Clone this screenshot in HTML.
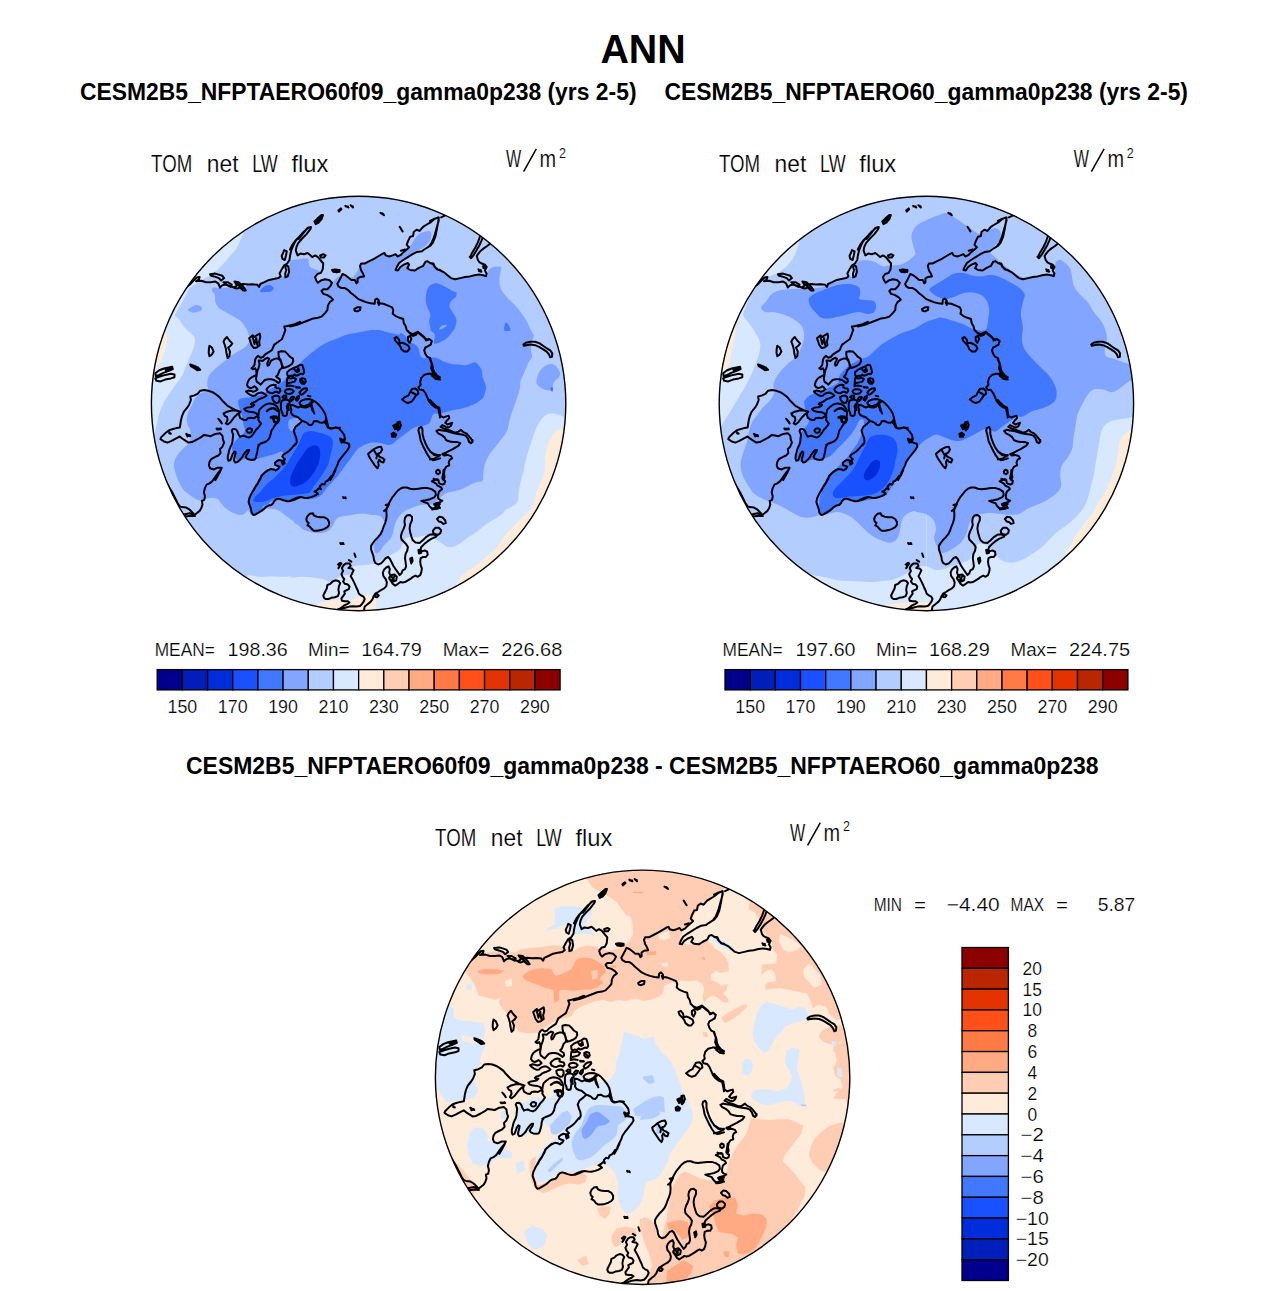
<!DOCTYPE html>
<html><head><meta charset="utf-8"><title>ANN</title>
<style>
html,body{margin:0;padding:0;background:#fff}
svg{display:block}
.t{font-family:"Liberation Sans",sans-serif;fill:#000;stroke:#fff;stroke-width:.2px;paint-order:fill stroke}
.b{font-family:"Liberation Sans",sans-serif;font-weight:bold;fill:#000}
.c{fill:none;stroke:#000;stroke-width:2;stroke-linejoin:round;stroke-linecap:round}
</style></head><body>
<svg width="1285" height="1291" viewBox="0 0 1285 1291">
<rect width="1285" height="1291" fill="#fff"/>
<defs>
<clipPath id="cp"><circle cx="0" cy="0" r="207.2"/></clipPath>
</defs>

<text x="600.4" y="62.8" font-size="41" text-anchor="start" class="b" textLength="85.4" lengthAdjust="spacingAndGlyphs">ANN</text>
<text x="80" y="99.6" font-size="23.1" text-anchor="start" class="b" textLength="556.5" lengthAdjust="spacingAndGlyphs">CESM2B5_NFPTAERO60f09_gamma0p238 (yrs 2-5)</text>
<text x="664.4" y="99.6" font-size="23.1" text-anchor="start" class="b" textLength="523.6" lengthAdjust="spacingAndGlyphs">CESM2B5_NFPTAERO60_gamma0p238 (yrs 2-5)</text>
<text x="186" y="773.6" font-size="23.1" text-anchor="start" class="b" textLength="912.6" lengthAdjust="spacingAndGlyphs">CESM2B5_NFPTAERO60f09_gamma0p238 - CESM2B5_NFPTAERO60_gamma0p238</text>
<g transform="translate(358.6,403.5)">
<g clip-path="url(#cp)">
<circle r="209.2" fill="#b4cdff"/>
<path fill="#d7e8ff" d="M-115.2,-169.7C-115.8,-168.5 -117.6,-164.6 -118.7,-162.1C-119.9,-159.7 -120.7,-157.5 -122.2,-155.1C-123.8,-152.8 -125.9,-150.7 -128.1,-148.1C-130.2,-145.6 -132.7,-142.5 -135.1,-140.0C-137.4,-137.4 -139.5,-135.1 -142.1,-133.0C-144.6,-130.8 -147.7,-128.7 -150.2,-127.1C-152.8,-125.6 -155.3,-124.8 -157.2,-123.6C-159.2,-122.5 -160.0,-121.5 -161.9,-120.1C-163.9,-118.8 -167.2,-117.4 -168.9,-115.4C-170.7,-113.5 -171.3,-110.4 -172.4,-108.4C-173.5,-106.5 -174.4,-105.5 -175.3,-103.8C-176.3,-102.0 -177.2,-99.9 -178.3,-97.9C-179.3,-96.0 -180.9,-93.8 -181.8,-92.1C-182.6,-90.5 -183.9,-89.4 -183.5,-88.0C-183.1,-86.7 -180.9,-85.8 -179.4,-83.9C-178.0,-82.1 -176.5,-79.1 -174.7,-76.9C-173.0,-74.8 -170.6,-72.6 -168.9,-71.1C-167.3,-69.5 -165.7,-68.9 -164.8,-67.6C-164.0,-66.2 -163.7,-64.9 -163.7,-63.0C-163.7,-61.1 -164.1,-58.3 -164.8,-56.0C-165.5,-53.7 -166.8,-51.3 -167.7,-49.0C-168.7,-46.7 -169.7,-44.3 -170.7,-42.0C-171.6,-39.6 -172.7,-37.1 -173.6,-35.0C-174.5,-32.8 -174.9,-31.1 -175.9,-29.1C-176.9,-27.2 -178.1,-25.3 -179.4,-23.3C-180.8,-21.4 -182.5,-19.6 -184.1,-17.5C-185.6,-15.3 -187.2,-12.8 -188.8,-10.5C-190.3,-8.1 -192.1,-5.8 -193.4,-3.5C-194.8,-1.1 -195.9,1.0 -196.9,3.5C-198.0,6.1 -199.1,9.0 -199.8,11.7C-200.6,14.4 -200.9,16.8 -201.6,19.9C-202.3,23.0 -203.5,28.6 -203.9,30.4 L-256.2,38.2 L-259.0,2.0 L-256.7,-34.3 L-249.4,-69.8 L-237.2,-104.0 L-220.3,-136.2 L-199.1,-165.6 L-174.0,-191.8 L-145.5,-214.3Z"/>
<path fill="#ffebd9" d="M-194.0,-75.3C-193.7,-74.4 -192.7,-71.5 -192.3,-70.0C-191.8,-68.5 -191.4,-68.2 -191.3,-66.5C-191.3,-64.7 -191.5,-62.2 -192.0,-59.5C-192.6,-56.8 -193.7,-53.1 -194.6,-50.2C-195.5,-47.2 -196.4,-44.3 -197.5,-42.0C-198.6,-39.6 -200.0,-37.6 -201.0,-36.1C-202.0,-34.7 -203.3,-33.7 -203.7,-33.2 L-255.6,-41.7 L-249.9,-68.0 L-241.5,-93.7Z"/>
<path fill="#d7e8ff" d="M-110.5,171.6C-109.4,171.7 -105.9,172.4 -103.5,172.7C-101.2,173.0 -99.5,173.3 -96.5,173.3C-93.6,173.3 -89.7,173.0 -86.0,173.0C-82.3,173.0 -77.7,173.3 -74.4,173.3C-71.1,173.3 -67.2,172.8 -66.2,173.0C-65.2,173.1 -70.1,174.4 -68.6,174.5C-67.1,174.5 -60.8,173.4 -56.9,173.3C-53.0,173.2 -49.1,173.6 -45.3,174.1C-41.4,174.6 -36.3,175.6 -33.6,176.2C-30.9,176.9 -30.9,178.2 -28.9,178.0C-27.0,177.8 -23.9,176.0 -21.9,175.1C-20.0,174.1 -18.8,172.7 -17.2,172.1C-15.7,171.6 -14.1,171.7 -12.6,171.6C-11.0,171.4 -9.1,171.7 -7.9,171.0C-6.7,170.2 -6.1,168.2 -5.6,166.9C-5.1,165.5 -6.9,163.7 -5.0,162.8C-3.0,161.9 2.7,162.1 6.1,161.6C9.5,161.1 12.7,160.7 15.4,159.9C18.2,159.1 20.3,158.0 22.4,157.0C24.6,155.9 26.5,154.4 28.3,153.5C30.0,152.5 31.4,151.9 33.0,151.1C34.5,150.3 36.3,149.7 37.6,148.8C39.0,147.9 40.2,147.1 41.1,145.9C42.1,144.6 42.7,142.8 43.5,141.2C44.2,139.6 45.0,137.7 45.8,136.5C46.6,135.4 47.0,134.7 48.1,134.2C49.3,133.7 51.2,133.4 52.8,133.3C54.4,133.2 55.9,133.7 57.5,133.6C59.0,133.6 60.6,133.3 62.1,133.0C63.7,132.7 65.2,132.3 66.8,131.9C68.4,131.5 69.9,130.9 71.5,130.7C73.0,130.5 76.2,130.3 76.1,130.5C76.1,130.7 71.0,130.9 71.4,131.9C71.8,132.9 76.3,135.1 78.4,136.5C80.5,138.0 82.5,139.5 84.2,140.6C86.0,141.8 87.0,143.2 88.9,143.5C90.9,143.9 93.6,143.7 95.9,143.0C98.2,142.2 100.6,140.4 102.9,138.9C105.3,137.3 107.4,135.4 109.9,133.6C112.4,131.9 115.8,130.0 118.1,128.4C120.4,126.7 121.8,125.3 123.9,123.7C126.1,122.0 128.6,120.0 130.9,118.4C133.3,116.9 135.8,115.7 137.9,114.4C140.1,113.0 142.2,111.6 143.8,110.3C145.3,108.9 145.7,107.4 147.3,106.2C148.8,105.0 151.4,104.3 153.1,103.3C154.9,102.2 156.7,101.0 157.8,99.8C158.8,98.5 159.1,97.7 159.5,95.7C159.9,93.6 159.7,90.2 160.1,87.5C160.5,84.8 161.3,81.9 161.9,79.3C162.4,76.8 163.0,74.5 163.6,72.3C164.2,70.2 165.1,67.8 165.4,66.5C165.7,65.2 165.1,65.8 165.4,64.2C165.7,62.7 166.5,59.6 167.1,57.2C167.7,54.9 168.2,52.6 168.9,50.2C169.5,47.9 170.4,45.6 171.2,43.2C172.0,40.9 172.8,38.6 173.5,36.2C174.3,33.9 175.0,31.6 175.9,29.2C176.7,26.9 177.7,24.4 178.8,22.2C179.9,20.1 180.9,18.1 182.3,16.4C183.7,14.6 185.2,12.8 187.0,11.7C188.7,10.6 190.7,10.1 192.8,10.0C194.9,9.9 197.5,10.5 199.8,11.1C202.1,11.8 205.6,13.4 206.8,13.8 L258.4,17.3 L253.0,55.3 L242.1,92.0 L225.8,126.8 L204.6,158.8 L178.9,187.3 L149.3,211.7 L116.3,231.4 L80.9,246.1 L43.6,255.3 L5.4,258.9 L-32.9,256.9 L-70.5,249.2 L-106.6,236.1 L-140.3,217.7Z"/>
<path fill="#ffebd9" d="M-43.5,201.3C-42.2,200.9 -38.3,199.7 -35.9,199.0C-33.5,198.3 -31.2,197.7 -28.9,197.2C-26.6,196.7 -23.9,196.2 -21.9,196.1C-20.0,196.0 -18.8,196.3 -17.2,196.7C-15.7,197.0 -14.1,198.3 -12.6,198.4C-11.0,198.5 -9.5,197.8 -7.9,197.2C-6.3,196.7 -4.8,195.6 -3.2,194.9C-1.7,194.2 -0.1,193.6 1.4,193.1C3.0,192.7 4.4,192.2 6.1,192.0C7.9,191.8 10.4,191.8 11.9,192.0C13.5,192.2 14.6,192.5 15.4,193.1C16.3,193.8 16.8,194.8 17.2,196.1C17.6,197.3 17.7,199.0 17.8,200.7C17.8,202.5 17.6,205.6 17.5,206.6 L21.9,258.1 L-16.6,258.5 L-54.7,253.2Z"/>
<path fill="#ffebd9" d="M206.8,24.8C205.8,24.9 202.6,25.2 201.0,25.7C199.3,26.3 198.1,26.9 196.9,28.1C195.6,29.2 194.4,31.0 193.4,32.7C192.3,34.5 191.3,36.4 190.5,38.6C189.6,40.7 188.8,43.2 188.1,45.6C187.4,47.9 186.7,50.2 186.4,52.6C186.1,54.9 186.4,57.2 186.4,59.6C186.4,61.9 186.8,64.2 186.4,66.5C186.0,68.8 184.9,71.2 184.0,73.5C183.2,75.8 182.1,78.2 181.1,80.5C180.2,82.8 179.0,85.2 178.2,87.5C177.4,89.8 177.1,92.2 176.5,94.5C175.8,96.8 175.1,99.4 174.1,101.5C173.1,103.7 172.2,105.4 170.6,107.4C169.1,109.3 166.7,111.2 164.8,113.2C162.8,115.1 160.9,117.1 158.9,119.0C157.0,121.0 155.1,122.9 153.1,124.9C151.2,126.8 149.0,128.6 147.3,130.7C145.5,132.8 144.2,135.4 142.6,137.7C141.0,140.0 139.9,142.6 137.9,144.7C136.0,146.8 133.3,148.6 130.9,150.5C128.6,152.5 126.3,154.4 123.9,156.4C121.6,158.3 119.3,160.5 116.9,162.2C114.6,164.0 112.1,165.3 109.9,166.9C107.8,168.4 105.6,170.0 104.1,171.6C102.5,173.1 101.8,174.4 100.6,176.2C99.4,178.1 97.5,181.6 96.8,182.6 L121.3,228.8 L151.6,210.0 L179.0,187.2 L203.0,160.9 L223.2,131.5 L239.1,99.6 L250.5,65.8 L257.2,30.8Z"/>
<path fill="#82a5ff" d="M-68.5,-142.3C-69.9,-140.3 -68.2,-134.5 -69.7,-131.8C-71.2,-129.1 -74.8,-127.2 -77.3,-126.0C-79.8,-124.7 -82.0,-125.1 -84.9,-124.2C-87.7,-123.3 -91.7,-121.8 -94.2,-120.7C-96.7,-119.6 -97.3,-118.2 -100.0,-117.8C-102.8,-117.4 -108.0,-118.8 -110.5,-118.4C-113.1,-118.0 -112.5,-115.8 -115.2,-115.4C-117.9,-115.1 -123.0,-116.0 -126.9,-116.0C-130.8,-116.0 -135.5,-115.4 -138.6,-115.4C-141.6,-115.4 -143.6,-116.4 -145.0,-116.0C-146.3,-115.6 -146.9,-114.4 -146.7,-113.1C-146.5,-111.9 -144.4,-110.4 -143.8,-108.4C-143.2,-106.5 -143.9,-103.6 -143.2,-101.4C-142.6,-99.3 -141.3,-97.2 -139.7,-95.6C-138.2,-94.0 -136.0,-93.4 -133.9,-92.1C-131.8,-90.8 -129.2,-89.4 -126.9,-88.0C-124.6,-86.7 -121.8,-85.4 -119.9,-83.9C-117.9,-82.5 -116.6,-81.0 -115.2,-79.3C-113.9,-77.5 -112.7,-75.4 -111.7,-73.4C-110.7,-71.5 -109.9,-69.3 -109.4,-67.6C-108.8,-65.9 -107.7,-65.4 -108.4,-63.5C-109.2,-61.5 -111.6,-58.2 -114.1,-56.0C-116.5,-53.8 -119.7,-52.9 -123.4,-50.4C-127.1,-47.9 -132.5,-43.8 -136.2,-40.8C-139.9,-37.9 -143.2,-35.0 -145.6,-32.6C-147.9,-30.3 -149.3,-29.1 -150.2,-26.8C-151.2,-24.5 -151.3,-20.9 -151.4,-18.6C-151.5,-16.4 -149.7,-14.8 -150.8,-13.4C-152.0,-11.9 -156.4,-11.1 -158.4,-9.9C-160.5,-8.6 -161.7,-7.6 -163.1,-5.8C-164.4,-4.0 -165.4,-1.1 -166.6,1.2C-167.7,3.5 -169.2,5.9 -170.1,8.2C-171.0,10.5 -171.7,12.9 -171.8,15.2C-171.9,17.5 -171.2,20.3 -170.7,22.2C-170.1,24.2 -168.6,24.2 -168.3,26.9C-168.0,29.6 -167.6,35.4 -168.9,38.6C-170.2,41.7 -173.8,43.2 -175.9,45.6C-178.1,47.9 -180.3,50.0 -181.8,52.6C-183.2,55.1 -184.5,57.8 -184.7,60.7C-184.9,63.7 -183.4,67.9 -182.9,70.1C-182.4,72.2 -182.3,72.0 -181.8,73.5C-181.2,75.0 -180.4,77.4 -179.4,79.3C-178.4,81.3 -177.3,83.4 -175.9,85.2C-174.6,86.9 -173.0,88.4 -171.2,89.8C-169.5,91.3 -167.4,92.8 -165.4,93.9C-163.5,95.1 -161.0,96.3 -159.6,96.8C-158.1,97.4 -157.6,97.6 -156.7,97.4C-155.7,97.2 -155.0,96.2 -153.7,95.7C-152.5,95.2 -150.5,94.7 -149.1,94.5C-147.6,94.3 -146.3,94.1 -145.0,94.3C-143.6,94.5 -142.2,94.8 -140.9,95.7C-139.6,96.6 -138.6,98.4 -137.4,99.8C-136.2,101.1 -135.3,102.6 -133.9,103.9C-132.5,105.1 -130.8,106.4 -129.2,107.4C-127.7,108.3 -126.1,109.0 -124.6,109.7C-123.0,110.4 -121.4,111.2 -119.9,111.4C-118.3,111.6 -116.5,111.3 -115.2,110.9C-114.0,110.4 -113.1,109.1 -112.3,108.5C-111.5,107.9 -111.6,106.5 -110.5,107.1C-109.5,107.8 -107.6,112.1 -105.9,112.5C-104.1,112.9 -101.6,110.4 -100.0,109.5C-98.5,108.6 -98.1,107.9 -96.5,107.1C-95.0,106.4 -92.7,105.3 -90.7,105.0C-88.8,104.8 -86.8,105.2 -84.9,105.6C-82.9,106.0 -80.8,106.5 -79.0,107.4C-77.3,108.2 -75.9,109.7 -74.4,110.9C-72.8,112.0 -71.3,113.2 -69.7,114.4C-68.1,115.5 -66.0,117.0 -65.0,117.9C-64.1,118.7 -64.9,118.8 -63.9,119.6C-63.0,120.4 -60.6,121.5 -59.3,122.5C-57.9,123.6 -57.1,125.2 -55.8,126.0C-54.4,126.9 -52.8,127.3 -51.1,127.8C-49.3,128.3 -47.4,128.7 -45.3,128.9C-43.1,129.2 -40.4,129.6 -38.3,129.5C-36.1,129.4 -34.1,129.0 -32.4,128.4C-30.8,127.7 -29.5,126.6 -28.3,125.4C-27.2,124.3 -26.3,122.8 -25.4,121.4C-24.5,119.9 -24.0,118.0 -23.1,116.7C-22.1,115.4 -21.1,114.5 -19.6,113.8C-18.0,113.1 -15.9,113.0 -13.7,112.6C-11.6,112.2 -9.1,111.8 -6.7,111.4C-4.4,111.1 -1.9,110.5 0.3,110.3C2.4,110.1 4.0,110.1 6.1,110.3C8.2,110.5 10.8,111.1 13.1,111.4C15.4,111.7 18.4,111.5 20.1,112.0C21.9,112.5 22.7,113.4 23.6,114.4C24.5,115.3 25.0,116.6 25.4,117.9C25.7,119.1 26.0,120.4 25.7,121.9C25.4,123.5 25.1,124.8 23.6,127.2C22.1,129.6 18.1,134.2 16.6,136.5C15.2,138.9 15.1,139.8 14.9,141.2C14.7,142.6 15.2,143.5 15.4,144.7C15.6,145.9 15.5,147.3 16.0,148.2C16.5,149.1 17.4,150.2 18.4,150.0C19.3,149.8 20.8,148.3 21.9,147.0C22.9,145.8 23.7,143.7 24.8,142.4C25.9,141.0 27.1,140.0 28.3,138.9C29.5,137.7 30.8,136.7 31.8,135.4C32.8,134.0 33.5,132.5 34.1,130.7C34.7,128.9 34.8,126.8 35.3,124.9C35.8,122.9 36.4,120.8 37.0,119.0C37.7,117.3 38.5,115.7 39.4,114.4C40.2,113.0 41.1,112.0 42.3,110.9C43.5,109.7 44.8,108.3 46.4,107.4C47.9,106.4 50.0,105.7 51.6,105.0C53.3,104.3 54.5,103.9 56.3,103.3C58.0,102.7 60.0,101.9 62.1,101.5C64.3,101.1 67.0,101.1 69.1,100.9C71.3,100.7 72.7,101.7 75.0,100.4C77.3,99.0 80.8,94.6 83.1,92.8C85.4,90.9 86.6,90.1 88.9,89.3C91.2,88.4 94.6,88.2 97.1,87.5C99.6,86.8 101.7,86.1 104.1,85.2C106.4,84.2 108.8,82.7 111.1,81.7C113.4,80.6 116.0,79.4 118.1,78.8C120.2,78.1 122.9,78.7 123.9,77.6C125.0,76.5 124.3,74.2 124.5,72.3C124.7,70.5 124.8,68.5 125.1,66.6C125.4,64.6 125.7,62.7 126.3,60.7C126.8,58.8 127.6,56.8 128.6,54.9C129.6,53.0 130.7,51.0 132.1,49.1C133.5,47.1 135.2,45.2 136.8,43.2C138.3,41.3 139.9,39.3 141.4,37.4C143.0,35.4 144.8,33.5 146.1,31.6C147.4,29.6 148.2,28.1 149.0,25.7C149.8,23.4 150.1,20.3 150.8,17.5C151.5,14.8 152.2,12.1 153.1,9.4C154.0,6.7 155.1,3.9 156.0,1.2C157.0,-1.5 158.1,-4.2 158.9,-7.0C159.8,-9.7 160.8,-12.6 161.3,-15.1C161.8,-17.7 161.3,-19.8 161.9,-22.1C162.4,-24.5 163.8,-26.8 164.8,-29.1C165.8,-31.5 166.7,-34.0 167.7,-36.1C168.7,-38.3 169.6,-40.2 170.6,-42.0C171.6,-43.7 173.2,-44.7 173.5,-46.7C173.8,-48.6 172.5,-51.3 172.4,-53.7C172.3,-56.0 172.5,-58.3 173.0,-60.7C173.4,-63.0 175.1,-66.1 175.3,-67.7C175.5,-69.2 174.9,-68.4 174.1,-69.9C173.3,-71.5 171.8,-74.6 170.6,-76.9C169.5,-79.3 168.5,-81.6 167.1,-83.9C165.8,-86.3 164.0,-88.8 162.4,-90.9C160.9,-93.1 159.3,-95.0 157.8,-96.8C156.2,-98.5 154.7,-99.9 153.1,-101.4C151.6,-103.0 150.0,-104.4 148.4,-106.1C146.9,-107.9 144.9,-110.0 143.8,-111.9C142.6,-113.9 141.9,-115.6 141.4,-117.8C140.9,-119.9 140.8,-122.5 140.9,-124.8C140.9,-127.1 141.7,-129.8 142.0,-131.8C142.3,-133.7 143.3,-135.6 142.6,-136.5C141.9,-137.3 139.5,-137.1 137.9,-137.0C136.4,-136.9 134.6,-136.6 133.3,-135.9C131.9,-135.2 130.6,-134.1 129.8,-133.0C128.9,-131.8 128.9,-129.7 128.0,-128.9C127.1,-128.1 126.6,-128.2 124.5,-128.1C122.5,-127.9 118.8,-128.3 115.8,-128.1C112.7,-127.8 109.6,-127.0 106.4,-126.3C103.2,-125.6 99.4,-123.6 96.5,-123.9C93.6,-124.1 91.3,-126.5 88.9,-127.9C86.5,-129.4 84.0,-131.1 81.9,-132.6C79.8,-134.1 77.8,-135.4 76.1,-136.7C74.3,-138.0 72.9,-139.4 71.4,-140.2C69.8,-141.0 68.0,-141.7 66.8,-141.4C65.7,-141.0 65.6,-139.3 64.5,-138.2C63.3,-137.2 61.2,-136.0 59.8,-135.1C58.4,-134.1 57.7,-133.0 56.3,-132.7C54.9,-132.4 52.9,-132.8 51.6,-133.2C50.4,-133.6 49.0,-133.9 48.7,-135.1C48.4,-136.2 50.5,-139.3 49.9,-140.0C49.3,-140.6 46.6,-139.4 45.2,-138.8C43.8,-138.2 42.8,-137.4 41.7,-136.5C40.6,-135.5 39.6,-133.4 38.8,-133.0C38.0,-132.5 37.1,-133.0 37.0,-133.5C36.9,-134.1 37.5,-135.2 38.2,-136.5C38.9,-137.7 39.7,-139.7 41.1,-141.1C42.6,-142.6 44.8,-143.8 47.0,-145.2C49.1,-146.7 51.8,-148.5 54.0,-149.9C56.1,-151.2 58.0,-152.4 59.8,-153.4C61.6,-154.4 62.9,-154.7 64.5,-155.7C66.0,-156.8 67.9,-158.3 69.1,-159.8C70.4,-161.3 71.5,-162.7 72.1,-164.5C72.6,-166.2 72.9,-168.9 72.6,-170.3C72.3,-171.7 71.9,-172.5 70.3,-172.6C68.7,-172.7 65.4,-171.9 63.3,-170.9C61.2,-169.9 59.0,-168.5 57.5,-166.8C55.9,-165.2 55.1,-162.7 54.0,-161.0C52.8,-159.2 51.7,-157.5 50.7,-156.3C49.7,-155.1 49.5,-155.0 48.1,-153.7C46.7,-152.5 44.1,-149.5 42.3,-148.7C40.4,-147.9 39.0,-149.4 37.0,-149.1C35.1,-148.8 32.4,-146.8 30.6,-147.0C28.8,-147.2 27.9,-150.2 26.2,-150.2C24.4,-150.3 22.3,-148.4 20.1,-147.3C17.9,-146.2 15.4,-144.7 13.1,-143.5C10.8,-142.2 7.9,-140.4 6.1,-139.7C4.3,-139.0 3.2,-139.9 2.3,-139.1C1.3,-138.4 1.1,-136.8 0.3,-135.3C-0.5,-133.8 -1.7,-131.5 -2.6,-130.0C-3.6,-128.6 -4.3,-127.2 -5.6,-126.5C-6.8,-125.9 -8.6,-125.5 -10.2,-126.0C-11.9,-126.4 -14.1,-128.9 -15.5,-129.2C-16.9,-129.5 -17.3,-128.3 -18.4,-127.7C-19.5,-127.1 -20.6,-126.5 -21.9,-125.4C-23.2,-124.3 -25.1,-121.4 -26.3,-121.1C-27.6,-120.7 -28.3,-122.9 -29.5,-123.4C-30.7,-123.9 -32.2,-124.1 -33.6,-124.0C-35.0,-123.9 -36.9,-123.4 -38.0,-122.8C-39.2,-122.2 -39.8,-120.4 -40.6,-120.5C-41.4,-120.5 -42.2,-122.0 -42.7,-123.0C-43.2,-124.0 -44.3,-125.2 -43.5,-126.5C-42.7,-127.8 -38.5,-129.8 -38.0,-130.9C-37.5,-131.9 -39.0,-132.1 -40.6,-133.0C-42.2,-133.8 -46.0,-134.7 -47.6,-135.9C-49.1,-137.0 -49.3,-138.5 -49.9,-140.0C-50.5,-141.5 -49.1,-144.2 -51.1,-144.9C-53.0,-145.5 -58.7,-144.5 -61.6,-144.0C-64.5,-143.6 -67.2,-144.3 -68.5,-142.3Z"/>
<path fill="#82a5ff" d="M-170.7,-93.9C-170.7,-94.8 -168.0,-96.0 -166.6,-96.8C-165.1,-97.6 -163.6,-98.6 -161.9,-98.5C-160.3,-98.4 -157.3,-97.2 -156.7,-96.2C-156.0,-95.2 -156.9,-93.5 -157.8,-92.7C-158.7,-91.9 -160.5,-91.8 -161.9,-91.5C-163.4,-91.2 -165.1,-90.5 -166.6,-90.9C-168.0,-91.3 -170.7,-92.9 -170.7,-93.9Z"/>
<path fill="#82a5ff" d="M178.2,-24.5C178.6,-26.0 179.1,-28.6 180.0,-30.3C180.8,-32.1 182.1,-33.6 183.5,-35.0C184.8,-36.3 186.6,-37.7 188.1,-38.5C189.7,-39.3 191.3,-39.7 192.8,-39.6C194.3,-39.6 195.7,-38.9 196.9,-37.9C198.0,-36.9 199.0,-35.2 199.8,-33.8C200.6,-32.5 201.6,-31.1 201.6,-29.7C201.6,-28.4 200.6,-26.7 199.8,-25.6C199.0,-24.6 197.8,-24.3 196.9,-23.3C196.0,-22.3 195.0,-21.1 194.5,-19.8C194.1,-18.5 194.4,-16.8 194.0,-15.7C193.5,-14.7 192.6,-13.8 191.6,-13.4C190.7,-13.0 189.5,-13.1 188.1,-13.4C186.8,-13.7 184.8,-14.5 183.5,-15.1C182.1,-15.8 180.9,-16.5 180.0,-17.5C179.0,-18.4 178.1,-19.8 177.9,-21.0C177.6,-22.1 177.9,-22.9 178.2,-24.5Z"/>
<path fill="#4178ff" d="M191.9,-15.7C192.2,-16.3 193.6,-16.9 194.0,-16.3C194.4,-15.7 194.5,-12.8 194.2,-12.2C193.9,-11.6 192.6,-12.2 192.2,-12.8C191.8,-13.4 191.6,-15.1 191.9,-15.7Z"/>
<path fill="#4178ff" d="M-98.3,-113.1C-97.8,-114.0 -96.3,-115.7 -94.8,-116.6C-93.2,-117.5 -90.6,-118.6 -89.0,-118.4C-87.3,-118.2 -85.2,-116.5 -84.9,-115.4C-84.6,-114.4 -85.8,-112.9 -87.2,-112.2C-88.6,-111.5 -91.3,-111.5 -93.0,-111.4C-94.8,-111.2 -96.8,-111.1 -97.7,-111.4C-98.6,-111.7 -98.8,-112.2 -98.3,-113.1Z"/>
<path fill="#4178ff" d="M147.9,-81.0C148.9,-80.4 152.2,-74.8 151.9,-73.4C151.6,-72.1 147.1,-72.3 146.1,-72.8C145.1,-73.4 145.5,-75.6 145.8,-76.9C146.0,-78.3 146.8,-81.6 147.9,-81.0Z"/>
<path fill="#4178ff" d="M77.2,-120.3C75.6,-120.2 73.8,-119.5 72.5,-118.7C71.2,-117.9 70.2,-116.9 69.4,-115.6C68.6,-114.3 68.2,-112.6 67.9,-110.9C67.5,-109.2 67.1,-107.3 67.1,-105.5C67.0,-103.7 67.1,-101.7 67.5,-100.0C67.8,-98.4 68.4,-96.9 69.0,-95.4C69.7,-93.8 70.9,-92.1 71.4,-90.7C71.8,-89.3 71.9,-88.1 71.8,-86.8C71.6,-85.5 70.6,-84.5 70.6,-82.9C70.5,-81.4 71.0,-79.2 71.4,-77.5C71.7,-75.8 71.8,-74.0 72.5,-72.8C73.2,-71.6 75.0,-71.0 75.6,-70.1C76.3,-69.2 76.4,-68.5 76.4,-67.4C76.4,-66.2 75.8,-64.7 75.6,-63.5C75.5,-62.2 75.1,-60.5 75.5,-60.0C75.9,-59.4 76.9,-59.7 78.0,-60.0C79.0,-60.2 80.6,-60.9 81.9,-61.5C83.2,-62.1 84.5,-62.6 85.8,-63.5C87.1,-64.3 88.5,-65.4 89.6,-66.6C90.8,-67.7 91.7,-69.2 92.8,-70.5C93.8,-71.8 95.1,-72.9 95.9,-74.4C96.7,-75.8 97.1,-77.5 97.4,-79.0C97.8,-80.6 98.1,-82.1 97.8,-83.7C97.6,-85.3 96.6,-86.9 95.9,-88.4C95.2,-89.8 94.3,-91.0 93.5,-92.3C92.8,-93.6 91.6,-94.8 91.2,-96.1C90.8,-97.4 90.9,-98.9 91.2,-100.0C91.5,-101.2 92.4,-102.2 93.2,-103.1C93.9,-104.1 95.1,-104.7 95.9,-105.5C96.7,-106.3 97.5,-106.9 97.8,-107.8C98.1,-108.7 98.3,-110.2 97.8,-110.9C97.4,-111.6 96.2,-111.6 95.1,-112.1C94.0,-112.6 92.6,-113.3 91.2,-114.0C89.8,-114.8 88.1,-115.9 86.5,-116.8C85.0,-117.6 83.4,-118.5 81.9,-119.1C80.3,-119.7 78.8,-120.3 77.2,-120.3Z"/>
<path fill="#82a5ff" d="M80.3,-74.0C80.2,-74.5 81.7,-76.7 82.6,-77.5C83.6,-78.2 85.2,-78.5 86.1,-78.6C87.1,-78.8 88.5,-78.7 88.5,-78.2C88.5,-77.8 87.0,-76.6 86.1,-75.9C85.3,-75.3 84.4,-74.7 83.4,-74.4C82.5,-74.0 80.4,-73.4 80.3,-74.0Z"/>
<path fill="#4178ff" d="M-25.4,-63.5C-23.7,-64.2 -21.7,-65.0 -19.6,-65.8C-17.4,-66.7 -15.3,-68.0 -12.6,-68.8C-9.8,-69.5 -6.3,-69.9 -3.2,-70.5C-0.1,-71.1 3.4,-71.8 6.1,-72.3C8.8,-72.7 10.8,-73.2 13.1,-73.4C15.4,-73.6 17.8,-73.7 20.1,-73.4C22.4,-73.1 24.8,-72.3 27.1,-71.7C29.5,-71.1 31.8,-70.4 34.1,-69.9C36.5,-69.4 39.9,-68.7 41.1,-68.8C42.3,-68.8 40.7,-70.4 41.4,-70.5C42.1,-70.5 44.1,-69.8 45.3,-68.9C46.5,-68.0 47.1,-66.3 48.4,-65.0C49.7,-63.7 51.6,-62.2 53.1,-61.1C54.5,-60.1 55.8,-59.8 57.0,-58.8C58.1,-57.8 59.4,-56.2 60.1,-54.9C60.7,-53.6 60.5,-52.3 60.9,-51.0C61.2,-49.7 61.5,-48.1 62.4,-47.1C63.3,-46.1 64.4,-45.4 66.3,-45.2C68.2,-45.0 72.0,-46.0 74.1,-46.0C76.2,-46.0 77.2,-45.7 78.8,-45.2C80.3,-44.7 81.9,-43.6 83.4,-42.8C85.0,-42.1 86.3,-41.5 88.1,-40.9C89.9,-40.3 92.2,-39.7 94.3,-39.3C96.4,-39.0 98.5,-39.1 100.5,-38.9C102.6,-38.8 105.0,-38.0 106.8,-38.2C108.6,-38.3 109.9,-39.2 111.4,-39.7C113.0,-40.2 114.8,-41.3 116.1,-41.3C117.4,-41.2 118.3,-40.2 119.2,-39.3C120.1,-38.5 120.9,-37.3 121.6,-36.2C122.2,-35.1 122.9,-34.2 123.3,-32.6C123.7,-31.1 123.5,-28.6 123.9,-26.8C124.3,-25.1 125.1,-23.9 125.7,-22.1C126.3,-20.4 127.3,-18.2 127.4,-16.3C127.5,-14.4 126.7,-12.2 126.3,-10.5C125.8,-8.7 125.5,-7.2 124.5,-5.8C123.5,-4.4 121.9,-3.4 120.4,-2.3C119.0,-1.2 117.5,-0.3 115.8,0.6C114.0,1.5 111.9,2.3 109.9,3.0C108.0,3.6 106.0,4.2 104.1,4.7C102.1,5.2 100.2,5.5 98.2,5.9C96.3,6.3 94.4,6.6 92.4,7.0C90.5,7.5 88.3,8.3 86.6,8.8C84.8,9.3 83.8,9.7 81.9,10.0C80.0,10.3 76.5,9.7 75.0,10.5C73.4,11.4 73.4,13.7 72.6,15.2C71.9,16.8 71.7,18.7 70.3,19.9C68.9,21.0 66.6,21.6 64.5,22.2C62.3,22.8 59.4,22.8 57.5,23.4C55.5,24.0 54.4,24.7 52.8,25.7C51.2,26.7 49.7,28.1 48.1,29.2C46.6,30.4 45.0,31.6 43.5,32.7C41.9,33.9 40.3,35.0 38.8,36.2C37.2,37.5 35.7,39.4 34.1,40.3C32.6,41.2 31.0,41.5 29.5,41.5C27.9,41.5 26.5,40.7 24.8,40.3C23.0,39.9 20.9,39.3 18.9,39.1C17.0,38.9 14.9,38.9 13.1,39.1C11.4,39.3 10.0,39.7 8.4,40.3C6.9,40.9 5.3,41.8 3.8,42.6C2.2,43.5 0.5,44.3 -0.9,45.6C-2.3,46.8 -3.2,48.7 -4.4,50.2C-5.6,51.8 -6.7,53.3 -7.9,54.9C-9.1,56.5 -10.2,58.0 -11.4,59.6C-12.6,61.1 -13.7,62.7 -14.9,64.2C-16.1,65.8 -17.2,67.4 -18.4,68.9C-19.6,70.5 -19.8,71.1 -21.9,73.6C-24.1,76.1 -29.3,81.7 -31.4,84.0C-33.4,86.4 -33.2,86.5 -34.2,87.7C-35.1,89.0 -35.9,90.5 -37.0,91.5C-38.1,92.5 -39.3,93.2 -40.7,93.8C-42.1,94.4 -43.5,94.9 -45.4,95.2C-47.2,95.5 -49.9,95.8 -51.9,95.7C-53.9,95.5 -55.6,94.2 -57.5,94.3C-59.4,94.4 -60.9,95.7 -63.1,96.3C-65.3,96.9 -68.4,97.8 -70.6,97.8C-72.8,97.8 -74.2,96.8 -76.2,96.3C-78.2,95.9 -80.9,94.8 -82.7,95.0C-84.6,95.3 -86.0,96.8 -87.4,97.8C-88.8,98.8 -89.7,100.2 -91.1,101.0C-92.5,101.8 -94.9,101.8 -95.8,102.9C-96.7,103.9 -95.6,106.2 -96.5,107.4C-97.4,108.5 -99.8,109.1 -101.2,109.9C-102.6,110.7 -103.7,112.2 -104.7,112.0C-105.7,111.9 -106.5,110.9 -107.3,109.1C-108.1,107.4 -108.9,103.6 -109.4,101.5C-109.8,99.5 -110.4,98.8 -110.0,96.8C-109.6,94.9 -108.2,92.2 -107.0,89.8C-105.9,87.5 -104.3,85.2 -103.0,82.8C-101.6,80.5 -100.4,78.2 -98.9,75.8C-97.3,73.5 -92.9,67.6 -93.6,68.8C-94.3,70.1 -101.9,81.4 -103.2,83.4C-104.5,85.4 -101.8,81.6 -101.2,80.7C-100.7,79.8 -100.2,78.8 -99.7,77.9C-99.2,77.0 -98.5,76.1 -98.1,75.2C-97.7,74.3 -97.8,73.3 -97.4,72.5C-96.9,71.7 -96.1,71.2 -95.4,70.5C-94.7,69.9 -93.9,69.2 -93.1,68.6C-92.2,68.0 -91.3,67.2 -90.4,66.7C-89.4,66.1 -88.5,65.6 -87.6,65.5C-86.7,65.4 -85.7,65.6 -84.9,65.9C-84.1,66.1 -83.7,67.2 -83.0,67.0C-82.2,66.9 -80.9,65.7 -80.2,65.1C-79.6,64.5 -78.9,63.6 -79.1,63.2C-79.2,62.7 -80.3,62.6 -81.0,62.4C-81.7,62.1 -82.9,62.1 -83.3,61.6C-83.8,61.1 -84.0,59.9 -83.7,59.3C-83.5,58.6 -82.5,58.2 -81.8,57.7C-81.1,57.3 -80.2,56.7 -79.5,56.5C-78.7,56.4 -77.8,56.8 -77.1,56.9C-76.4,57.1 -75.8,57.5 -75.2,57.3C-74.6,57.1 -73.7,56.2 -73.6,55.8C-73.6,55.3 -74.3,55.0 -74.8,54.6C-75.2,54.1 -76.3,53.6 -76.3,53.0C-76.4,52.5 -75.0,51.9 -75.2,51.1C-75.3,50.2 -75.9,48.2 -77.1,48.0C-78.4,47.8 -80.6,49.3 -82.6,49.9C-84.5,50.6 -86.7,51.3 -88.8,51.9C-90.9,52.5 -92.8,52.8 -95.0,53.4C-97.2,54.1 -100.1,55.2 -102.0,55.8C-104.0,56.3 -105.0,57.0 -106.7,56.9C-108.4,56.9 -110.7,55.6 -112.1,55.4C-113.6,55.2 -113.8,55.4 -115.3,55.8C-116.7,56.1 -119.4,57.6 -120.7,57.3C-122.0,57.1 -122.3,55.6 -123.0,54.2C-123.8,52.8 -124.8,50.4 -125.4,48.8C-126.0,47.1 -126.7,45.6 -126.5,44.1C-126.4,42.5 -125.6,41.0 -124.6,39.4C-123.6,37.9 -122.1,36.2 -120.7,34.7C-119.3,33.3 -117.2,32.2 -116.0,30.9C-114.9,29.6 -113.8,28.8 -113.7,27.0C-113.6,25.1 -114.8,22.2 -115.3,19.9C-115.7,17.5 -115.8,15.2 -116.4,12.9C-117.0,10.5 -118.1,8.2 -118.8,5.9C-119.4,3.5 -120.5,0.6 -120.5,-1.1C-120.5,-2.9 -120.0,-3.8 -118.8,-4.6C-117.5,-5.4 -115.4,-5.4 -112.9,-5.8C-110.3,-6.2 -106.7,-6.2 -103.5,-7.0C-100.4,-7.7 -96.9,-9.1 -94.2,-10.5C-91.5,-11.8 -89.5,-13.8 -87.2,-15.1C-84.9,-16.5 -82.3,-17.3 -80.2,-18.6C-78.1,-20.0 -76.1,-21.6 -74.4,-23.3C-72.6,-25.1 -71.3,-27.2 -69.7,-29.1C-68.1,-31.1 -66.9,-33.2 -65.0,-35.0C-63.2,-36.7 -60.1,-38.4 -58.6,-39.6C-57.2,-40.9 -57.6,-41.3 -56.3,-42.6C-55.1,-43.8 -52.9,-45.7 -51.1,-47.2C-49.2,-48.8 -47.4,-50.3 -45.3,-51.9C-43.1,-53.6 -40.8,-55.5 -38.3,-57.2C-35.7,-58.8 -32.2,-60.8 -30.1,-61.8C-27.9,-62.9 -27.2,-62.8 -25.4,-63.5Z"/>
<path fill="#82a5ff" d="M-70.1,18.6C-69.9,17.4 -69.6,16.5 -68.7,15.8C-67.9,15.2 -66.4,15.1 -65.0,14.9C-63.6,14.7 -61.6,14.5 -60.3,14.7C-59.1,15.0 -57.7,15.5 -57.5,16.3C-57.4,17.1 -58.6,18.6 -59.4,19.6C-60.2,20.5 -61.3,21.1 -62.2,21.9C-63.0,22.8 -63.9,23.8 -64.5,24.7C-65.1,25.6 -65.2,27.2 -65.9,27.5C-66.6,27.8 -68.0,27.3 -68.7,26.6C-69.4,25.9 -69.9,24.6 -70.1,23.3C-70.4,22.0 -70.4,19.9 -70.1,18.6Z"/>
<path fill="#1950ff" d="M-53.8,28.9C-52.5,28.4 -50.0,27.6 -48.2,27.5C-46.3,27.4 -44.4,28.1 -42.6,28.4C-40.7,28.8 -38.8,29.3 -37.0,29.8C-35.1,30.4 -32.9,31.0 -31.4,31.7C-29.8,32.4 -28.6,33.0 -27.6,34.0C-26.7,35.1 -26.0,36.6 -25.8,38.3C-25.5,39.9 -25.9,42.0 -26.2,43.9C-26.5,45.7 -27.2,47.6 -27.6,49.5C-28.1,51.3 -28.6,53.2 -29.0,55.1C-29.5,56.9 -29.7,58.8 -30.4,60.7C-31.1,62.5 -32.1,64.4 -33.2,66.3C-34.3,68.1 -35.7,70.0 -37.0,71.9C-38.2,73.7 -39.5,75.8 -40.7,77.5C-41.9,79.2 -43.3,80.6 -44.4,82.1C-45.5,83.7 -46.3,85.6 -47.2,86.8C-48.2,88.1 -48.6,89.0 -50.0,89.6C-51.4,90.2 -53.8,90.3 -55.6,90.5C-57.5,90.8 -59.2,90.9 -61.2,91.0C-63.3,91.2 -65.8,91.3 -67.8,91.5C-69.8,91.6 -71.5,91.7 -73.4,92.0C-75.3,92.2 -77.3,92.6 -79.0,92.9C-80.7,93.2 -82.1,93.4 -83.7,93.8C-85.2,94.3 -86.8,95.1 -88.3,95.7C-89.9,96.3 -91.6,97.1 -93.0,97.6C-94.4,98.0 -95.2,98.3 -96.7,98.5C-98.3,98.6 -100.9,98.7 -102.3,98.5C-103.8,98.3 -105.0,98.0 -105.3,97.3C-105.6,96.6 -104.9,95.3 -104.2,94.3C-103.5,93.2 -102.3,92.0 -101.4,91.0C-100.5,90.1 -99.7,89.8 -98.6,88.7C-97.5,87.5 -96.3,85.6 -94.9,84.0C-93.5,82.5 -91.8,80.7 -90.2,79.3C-88.6,77.9 -87.1,77.0 -85.5,75.6C-84.0,74.2 -82.4,72.5 -80.9,70.9C-79.3,69.4 -77.6,67.8 -76.2,66.3C-74.8,64.7 -73.5,63.2 -72.5,61.6C-71.4,60.0 -70.6,58.5 -69.6,56.9C-68.7,55.4 -67.8,53.8 -66.8,52.3C-65.9,50.7 -65.0,49.1 -64.0,47.6C-63.1,46.0 -62.1,44.5 -61.2,42.9C-60.4,41.4 -59.6,39.8 -58.9,38.3C-58.2,36.7 -57.6,34.9 -57.0,33.6C-56.5,32.3 -56.2,31.1 -55.6,30.3C-55.1,29.5 -55.0,29.4 -53.8,28.9Z"/>
<path fill="#002ddc" d="M-44.4,42.0C-43.4,42.0 -42.0,42.0 -41.2,42.5C-40.3,42.9 -39.8,43.6 -39.3,44.8C-38.8,46.0 -38.4,47.7 -38.4,49.5C-38.3,51.2 -38.5,53.2 -38.8,55.1C-39.1,56.9 -39.6,59.0 -40.2,60.7C-40.9,62.4 -41.7,63.8 -42.6,65.3C-43.4,66.9 -44.4,68.5 -45.4,70.0C-46.4,71.5 -47.5,72.9 -48.6,74.2C-49.8,75.5 -51.0,76.9 -52.4,77.9C-53.7,79.0 -55.1,80.0 -56.6,80.7C-58.1,81.5 -59.8,82.2 -61.2,82.6C-62.6,83.0 -63.9,83.3 -65.0,83.1C-66.1,82.8 -67.2,82.1 -67.8,81.2C-68.4,80.3 -68.7,78.9 -68.7,77.5C-68.7,76.1 -68.2,74.4 -67.8,72.8C-67.3,71.2 -66.6,69.7 -65.9,68.1C-65.2,66.6 -64.4,64.9 -63.6,63.5C-62.8,62.0 -62.1,60.7 -61.2,59.3C-60.4,57.9 -59.4,56.5 -58.4,55.1C-57.5,53.7 -56.6,52.2 -55.6,50.9C-54.7,49.5 -53.8,48.2 -52.8,47.1C-51.9,46.0 -51.0,45.1 -50.0,44.3C-49.1,43.5 -48.2,42.8 -47.2,42.5C-46.3,42.1 -45.4,42.0 -44.4,42.0Z"/>
<path class="c" d="M-171.5,-116.9 L-167.7,-120.1 L-164.2,-123.6 L-161.9,-126.0 L-159.0,-126.5 L-159.6,-124.2 L-162.5,-122.2 L-157.2,-122.7 L-152.6,-121.3 L-147.9,-121.3 L-143.2,-121.9 L-140.3,-120.1 L-138.6,-116.0 L-136.8,-117.8 L-133.9,-119.0 L-129.2,-117.8 L-124.6,-116.0 L-122.2,-117.8 L-119.9,-119.0 L-115.2,-119.5 L-110.5,-119.0 L-105.9,-119.2 L-101.2,-118.7 L-99.5,-116.6 L-98.3,-119.5 L-94.2,-121.3 L-89.5,-123.6 L-84.9,-124.6 L-80.2,-125.4 L-77.9,-127.1 L-79.0,-130.0 L-76.9,-134.1 L-74.4,-138.2 L-71.4,-140.0 L-69.1,-143.5 L-68.5,-148.1 L-67.4,-152.8 L-65.6,-157.5 L-63.3,-162.1 L-60.4,-165.6 L-58.6,-167.4 M-72.6,-138.8 L-70.3,-137.0 L-69.5,-131.8 L-70.9,-127.1 L-73.2,-126.2 L-73.4,-130.0 L-72.3,-133.5 L-73.2,-135.9Z M-74.4,-153.4 L-71.8,-152.2 L-72.6,-148.1 L-73.8,-143.5 L-76.1,-144.6 L-76.9,-147.5 L-75.5,-150.5Z M-148.5,-129.2 L-143.2,-129.9 L-136.2,-127.7 L-134.5,-125.4 L-137.4,-123.0 L-139.7,-125.4 L-144.4,-127.1 L-147.3,-127.7Z M-135.1,-121.3 L-131.0,-121.3 L-126.9,-119.0 L-128.1,-116.6 L-131.6,-118.4Z M-124.0,-121.9 L-119.9,-121.3 L-115.2,-116.6 L-112.9,-113.1 L-115.2,-113.1 L-118.7,-116.0 L-121.6,-114.9 L-124.0,-115.4 L-121.6,-118.4Z M-122.2,-120.1 L-116.4,-114.9 M-169.5,-118.4 L-165.4,-123.0 L-161.9,-125.7 M-68.6,-154.0 L-66.3,-158.6 L-63.3,-162.7 L-59.3,-166.8 L-54.6,-172.1 L-49.9,-176.1 L-47.6,-176.4 L-48.2,-174.4 L-52.3,-169.1 L-56.9,-164.5 L-60.4,-160.4 L-62.2,-156.3 L-62.8,-152.8 L-61.0,-148.1 L-58.1,-149.9 L-54.6,-149.3 L-51.1,-150.5 L-48.8,-148.7 L-46.4,-146.4 L-43.5,-148.1 L-40.6,-146.4 L-38.3,-143.5 L-35.3,-140.0 L-35.9,-134.1 L-37.7,-130.6 L-41.2,-129.5 L-43.5,-126.5 L-42.3,-123.0 L-40.6,-120.7 L-37.7,-123.0 L-33.6,-124.2 L-29.5,-123.6 L-26.6,-120.7 L-28.3,-117.2 L-31.2,-114.3 L-35.3,-114.3 L-37.1,-112.5 L-35.3,-109.6 L-31.2,-108.4 L-27.7,-106.1 L-25.6,-103.8 L-28.9,-101.4 L-30.7,-97.9 L-31.2,-93.3 L-33.6,-90.4 L-37.1,-86.9 L-40.6,-85.7 L-45.3,-85.1 L-49.9,-83.3 L-55.8,-81.0 L-61.6,-78.7 L-68.6,-76.9 M-51.1,-175.6 L-55.8,-169.7 L-59.8,-164.5 M-44.1,-182.0 L-41.2,-184.9 L-37.1,-188.4 L-35.6,-188.4 L-37.1,-184.3 L-40.0,-180.8 L-42.9,-179.4Z M-42.3,-181.4 L-37.7,-186.7 M-20.2,-193.1 L-17.8,-195.1 L-17.2,-194.2 L-19.6,-191.9Z M-13.2,-197.7 L-10.2,-196.0 M-12.8,-196.9 L-10.5,-196.9 M-7.9,-198.3 L-5.6,-196.0 M-7.3,-197.4 L-5.8,-197.2 M21.9,-190.7 L25.4,-188.4 L23.6,-190.2 L24.8,-189.2 M41.1,-176.7 L44.0,-172.1 M-26.6,-133.5 L-23.7,-134.1 L-19.0,-133.5 L-19.0,-131.8 L-21.9,-131.2 L-25.4,-131.8Z M-26.0,-132.7 L-19.6,-132.7 M-38.5,-148.1 L-35.3,-149.3 L-33.0,-148.1 L-34.7,-146.0 L-37.7,-146.0Z M-4.4,-94.4 L-1.5,-96.2 L2.0,-96.2 L1.4,-93.3 L-1.5,-92.1 L-3.8,-92.7Z M-21.3,-119.5 L-19.6,-122.5 L-17.2,-127.1 L-16.1,-129.5 L-13.2,-128.3 L-10.2,-126.0 L-7.3,-123.6 L-3.8,-123.6 L-2.1,-120.1 L-0.9,-121.3 L-1.1,-124.8 L1.4,-126.5 L5.5,-127.1 L4.4,-130.0 L2.6,-133.0 L1.4,-137.6 L2.6,-140.0 L6.1,-140.0 L10.8,-142.3 L15.4,-144.6 L20.1,-147.5 L24.2,-149.9 L25.9,-150.5 L27.1,-148.1 L30.6,-147.0 L34.1,-148.1 L37.0,-149.3 L38.8,-147.0 L42.3,-148.7 L45.2,-151.6 L48.1,-154.0 L50.5,-156.3 L48.1,-158.6 L49.3,-162.1 L51.6,-166.8 L54.5,-167.4 L55.1,-171.5 L58.0,-173.8 L61.0,-172.6 L64.5,-176.7 L67.4,-178.5 L71.5,-180.8 L75.6,-184.3 L79.6,-186.1 L80.2,-183.2 L77.9,-175.0 L75.6,-166.8 L73.2,-161.0 L70.3,-156.9 L65.6,-154.0 L63.3,-152.2 L58.6,-151.6 L54.0,-149.3 L49.3,-146.4 L44.6,-143.5 L40.5,-140.5 L38.2,-136.5 L37.0,-133.5 L39.4,-133.0 L41.7,-136.5 L45.2,-138.8 L49.3,-140.5 L50.5,-138.8 L48.7,-135.3 L51.6,-133.5 L56.3,-133.0 L59.8,-135.3 L64.5,-137.6 L66.8,-141.7 L69.1,-142.3 L71.5,-140.5 L74.4,-139.4 L76.1,-136.5 L79.1,-134.1 L81.4,-133.5 M42.3,-152.8 L46.4,-154.0 M-21.3,-119.5 L-20.2,-117.2 L-17.2,-115.4 L-13.7,-115.4 L-10.8,-113.7 L-7.9,-110.8 L-4.4,-107.9 L-0.9,-104.9 L2.6,-103.2 L7.3,-101.4 L11.9,-100.3 L16.0,-99.7 L16.6,-103.8 L18.4,-104.9 L20.1,-103.2 L20.7,-100.3 L24.8,-99.7 L29.5,-97.9 L33.5,-96.2 L34.7,-93.3 L34.1,-89.8 L37.0,-87.4 L41.1,-85.7 L44.6,-84.5 L45.2,-80.4 L47.0,-77.5 L48.1,-73.4 L51.6,-69.9 L54.5,-67.6 L57.5,-68.8 L59.2,-71.1 L62.1,-68.8 L65.6,-65.8 L69.1,-63.5 M19.2,-101.4 L20.3,-98.5 M71.4,-182.6 L76.1,-184.9 L80.2,-186.1 L79.6,-182.0 L78.4,-175.0 L76.7,-166.8 L74.3,-161.0 L71.4,-157.5 M82.5,-186.1 L87.2,-188.4 M71.4,-140.5 L74.9,-140.0 L76.1,-137.0 L78.4,-134.1 L81.9,-133.0 L85.4,-131.2 L88.9,-128.3 L92.4,-125.4 L96.5,-124.2 L101.7,-125.4 L106.4,-126.5 L111.1,-127.1 L115.8,-128.3 L120.4,-128.9 L124.5,-128.3 L127.4,-127.4 L128.0,-130.0 L126.3,-133.0 L128.0,-136.5 L126.3,-138.8 L123.3,-140.0 L121.0,-141.1 L119.3,-143.5 L118.7,-145.8 L118.1,-147.5 L119.8,-149.9 L122.2,-152.8 L125.1,-155.1 L128.6,-157.5 L131.2,-159.6 M121.4,-167.0 L119.5,-161.6 L116.9,-156.3 L113.7,-151.1 L111.4,-146.4 L112.8,-145.6 L115.2,-148.7 L118.1,-153.4 L121.0,-158.6 L122.8,-162.7 L123.9,-165.4 M111.1,-146.7 L112.5,-145.2 M119.8,-134.1 L122.8,-131.8 L120.4,-132.4 L122.2,-133.5 M124.5,-137.6 L128.0,-136.7 L126.8,-135.1 L124.9,-135.5Z M-203.3,-30.3 L-199.3,-33.2 L-194.6,-35.0 L-189.9,-36.1 L-186.4,-36.7 L-185.8,-34.4 L-189.9,-32.6 L-194.6,-30.9 L-199.3,-28.6 L-202.8,-27.4Z M-203.3,-25.1 L-199.3,-26.8 L-193.4,-28.6 L-187.6,-29.7 L-184.1,-29.1 L-184.1,-26.2 L-187.6,-25.1 L-193.4,-23.9 L-198.1,-22.1 L-202.2,-22.7Z M-193.4,-34.4 L-187.0,-35.9 M-192.8,-33.6 L-186.4,-35.2 M-168.3,-39.1 L-164.8,-37.9 L-160.7,-36.1 L-158.4,-33.8 L-161.3,-33.2 L-164.8,-35.6 L-167.7,-37.3Z M-167.2,-38.1 L-159.6,-34.0 M-149.1,-57.7 L-146.7,-56.0 L-145.0,-51.9 L-146.7,-49.0 L-149.1,-47.2 L-149.9,-50.7 L-149.7,-54.8Z M-133.9,-64.2 L-131.6,-66.5 L-129.2,-63.0 L-126.3,-60.1 L-128.1,-57.7 L-130.4,-56.0 L-128.6,-51.9 L-129.2,-47.2 L-131.0,-45.5 L-132.1,-50.2 L-132.7,-54.8 L-133.9,-58.9 L-135.1,-61.8Z M-109.4,-65.3 L-105.9,-68.2 L-104.1,-66.5 L-101.8,-68.2 L-98.9,-70.0 L-98.3,-66.5 L-99.5,-61.8 L-98.9,-58.3 L-101.8,-56.0 L-104.7,-55.4 L-107.0,-58.3 L-108.2,-61.8Z M-105.9,-66.5 L-104.1,-59.5 L-102.4,-65.3 L-101.2,-58.3 M-118.7,8.2 L-122.2,7.0 L-126.9,4.7 L-131.0,2.4 L-133.9,-0.5 L-136.8,-3.5 L-139.1,-6.4 L-142.1,-8.7 L-145.6,-11.1 L-150.2,-12.8 L-154.3,-13.4 L-158.4,-12.8 L-160.7,-9.9 L-164.2,-8.1 L-168.3,-7.0 L-167.7,-3.5 L-169.5,1.2 L-171.8,4.7 L-174.7,8.2 L-176.5,12.3 L-177.7,17.0 L-178.3,21.0 L-178.8,24.0 L-182.3,24.6 L-186.4,25.7 L-189.9,26.9 L-193.4,29.8 L-197.5,33.9 L-198.1,35.6 L-194.6,38.0 L-191.1,39.1 L-187.0,37.4 L-182.9,35.1 L-178.8,33.0 L-177.1,34.5 L-173.6,36.8 L-170.1,39.1 L-166.6,38.6 L-161.9,36.2 L-157.8,33.9 L-154.9,31.6 L-151.4,32.1 L-147.9,32.7 L-143.2,30.4 L-138.6,29.8 L-136.2,32.1 L-135.6,36.2 L-134.5,39.1 L-136.2,43.2 L-138.6,45.6 L-138.0,49.6 L-140.3,52.0 L-143.8,53.7 L-147.3,55.5 L-149.1,58.4 L-149.7,61.9 L-148.5,64.8 L-145.0,66.0 L-140.9,64.2 L-136.8,64.2 L-138.6,68.3 L-140.9,72.4 L-143.2,76.5 M-135.1,10.0 L-131.6,8.2 L-126.9,7.0 L-122.2,7.0 L-118.1,8.2 L-121.1,10.5 L-124.6,14.0 L-128.1,18.7 L-131.0,21.0 L-132.7,19.9 L-131.0,16.4 L-131.6,13.5 L-133.9,12.3Z M-140.3,15.2 L-136.8,19.9 L-139.1,16.4 L-137.4,18.7 M-142.1,25.1 L-137.4,25.7 L-141.5,26.0 L-138.0,24.9 M-172.4,30.4 L-168.3,32.7 L-171.8,31.6 L-168.9,31.6 L-171.2,33.0 M-189.9,28.1 L-187.8,30.2 L-189.3,29.8 M-84.4,-58.5 L-85.5,-56.2 L-86.7,-53.4 L-89.0,-51.9 L-91.4,-50.3 L-93.7,-48.8 L-95.3,-46.8 L-98.0,-45.7 L-100.3,-47.6 L-102.3,-46.0 L-103.4,-44.1 L-103.8,-41.0 L-104.2,-38.3 L-105.8,-36.3 L-107.1,-35.2 L-105.4,-34.2 L-103.4,-35.2 L-102.3,-32.8 L-102.1,-28.5 L-104.2,-27.6 L-106.9,-26.2 L-109.3,-24.3 L-110.8,-21.5 L-111.6,-18.4 L-110.4,-16.5 L-108.1,-15.3 L-105.8,-16.1 L-104.2,-17.3 L-102.6,-16.1 L-101.1,-14.1 L-103.0,-12.6 L-105.4,-11.8 L-107.7,-12.6 L-110.0,-13.0 L-112.5,-12.0 L-110.8,-10.3 L-108.5,-8.7 L-105.8,-7.5 L-103.4,-7.9 L-101.9,-9.5 L-99.5,-10.6 L-96.8,-11.0 L-94.5,-9.9 L-92.1,-7.9 L-93.7,-6.7 L-96.0,-5.6 L-98.4,-4.8 L-100.3,-4.0 L-101.9,-2.5 L-104.2,-1.3 L-106.5,-0.5 L-107.7,0.6 L-106.1,1.8 L-104.2,1.4 L-105.8,3.0 L-108.5,3.8 L-111.6,4.1 L-114.3,5.3 L-112.8,7.3 L-110.4,8.0 L-107.7,8.4 L-105.0,8.8 L-102.6,9.6 L-101.1,11.5 L-99.9,13.9 L-100.3,16.2 L-99.1,18.2 L-97.6,20.1 L-98.8,22.0 L-100.3,24.0 L-102.3,25.9 L-103.8,28.3 L-105.4,30.6 L-107.3,32.9 L-109.7,34.1 L-112.4,33.3 L-114.7,32.2 L-117.0,32.6 L-118.6,33.3 M-118.6,14.3 L-115.5,16.2 L-112.4,16.6 L-110.8,14.7 L-107.7,14.3 L-104.6,14.7 L-101.9,13.1 L-99.9,13.9 M-112.0,27.1 L-110.8,25.2 L-108.5,24.8 L-106.5,25.9 L-106.9,28.3 L-108.9,29.3 L-110.8,29.0Z M-99.9,-42.9 L-99.1,-39.4 L-99.9,-35.9 L-101.3,-32.4 L-101.9,-28.5 L-102.6,-25.0 L-101.9,-21.9 L-99.9,-20.4 L-98.0,-18.8 L-96.0,-21.1 L-93.7,-23.5 L-90.6,-24.3 L-87.5,-24.3 L-84.4,-23.5 L-82.0,-21.9 L-80.1,-20.4 L-78.5,-21.9 L-78.9,-24.3 L-81.2,-25.8 L-82.4,-27.0 L-80.9,-28.5 L-79.7,-31.3 L-78.9,-33.6 L-77.0,-35.2 L-76.2,-37.5 L-77.0,-40.6 L-78.5,-43.3 L-80.5,-44.9 L-82.8,-44.9 L-85.1,-44.1 L-87.5,-42.9 L-88.6,-40.6 L-89.8,-38.3 L-91.0,-37.9 L-91.4,-40.2 L-90.2,-42.9 L-89.4,-44.9 L-91.4,-45.7 L-93.7,-44.5 L-96.0,-42.5 L-98.4,-42.9Z M-80.1,-51.5 L-77.4,-52.3 L-73.5,-51.9 L-71.1,-49.6 L-68.8,-46.8 L-65.7,-44.9 L-65.3,-42.2 L-66.8,-39.4 L-69.6,-37.5 L-72.7,-36.3 L-75.4,-35.5 L-76.6,-39.0 L-77.7,-42.2 L-79.3,-45.3 L-80.1,-48.4Z M-78.1,-44.1 L-76.2,-35.9 M-92.1,-14.1 L-90.6,-16.1 L-87.9,-18.0 L-85.1,-18.8 L-82.8,-18.4 L-83.2,-16.1 L-81.2,-15.3 L-78.9,-14.9 L-78.1,-12.6 L-79.7,-10.6 L-82.0,-11.8 L-84.0,-11.4 L-85.9,-10.3 L-88.6,-10.6 L-91.0,-11.8Z M-86.3,-6.4 L-84.4,-7.5 L-81.2,-7.9 L-79.3,-6.7 L-78.9,-4.0 L-80.1,-0.9 L-82.4,-0.5 L-84.7,-2.1 L-85.9,-4.0Z M-71.5,-31.3 L-68.8,-33.6 L-64.9,-35.5 L-61.8,-36.7 L-58.7,-38.7 L-56.3,-38.3 L-55.2,-35.2 L-54.4,-31.3 L-55.6,-29.3 L-57.9,-29.7 L-60.2,-28.5 L-62.6,-27.8 L-64.1,-28.9 L-65.7,-27.4 L-68.0,-27.8 L-70.0,-26.6 L-71.1,-28.1Z M-64.9,-35.2 L-62.6,-32.0 L-60.2,-35.2 L-59.5,-32.4 L-61.4,-31.3 M-71.1,-25.8 L-68.0,-25.0 L-64.9,-25.8 L-62.6,-24.3 L-64.1,-21.9 L-67.2,-21.1 L-70.4,-20.4 L-71.9,-18.8 L-71.5,-23.5Z M-58.3,-24.3 L-56.3,-25.4 L-53.6,-24.6 L-52.8,-21.9 L-54.4,-19.6 L-56.7,-20.0 L-58.3,-21.9Z M-56.7,-23.5 L-54.8,-21.1 M-73.9,-11.8 L-72.7,-13.8 L-69.6,-14.5 L-66.5,-13.8 L-64.9,-12.2 L-66.5,-10.3 L-69.6,-9.5 L-72.3,-9.9Z M-71.9,-17.3 L-68.8,-18.0 L-64.9,-17.3 M-62.6,-16.5 L-58.7,-15.7 L-62.2,-15.9 L-59.1,-16.3 M-59.1,-11.0 L-57.1,-13.4 L-54.8,-14.9 L-51.7,-15.3 L-51.3,-13.8 L-53.2,-11.8 L-55.2,-9.9 L-57.5,-8.7Z M-50.7,-7.8 L-48.3,-7.1 M-76.2,-6.4 L-74.6,-7.9 L-72.3,-7.5 L-72.3,-5.6 L-74.2,-4.8Z M-68.4,-4.8 L-66.8,-6.7 L-64.5,-6.4 L-65.7,-4.0 L-67.2,-2.5Z M-63.0,-4.0 L-61.4,-6.7 L-59.5,-7.9 L-59.8,-5.2 L-61.4,-2.9Z M-59.1,-0.9 L-57.1,-2.9 L-54.0,-4.0 L-50.9,-4.4 L-47.8,-4.0 L-45.8,-3.1 L-47.4,-1.3 L-49.3,0.6 L-51.7,1.8 L-54.0,2.6 L-56.3,2.2 L-58.3,1.0Z M-77.7,0.6 L-77.0,-2.5 L-75.0,-3.6 L-71.9,-4.0 L-69.6,-2.9 L-68.8,-0.5 L-70.7,0.6 L-71.9,3.0 L-71.1,6.1 L-71.5,9.2 L-71.9,11.9 L-73.9,12.7 L-75.8,11.9 L-76.2,9.2 L-77.4,6.9 L-77.7,3.8Z M-70.0,0.6 L-70.7,3.8 L-69.7,6.5 M-68.0,1.4 L-64.9,1.8 L-62.6,3.0 L-60.6,4.1 L-58.3,3.0 L-55.6,3.8 L-52.8,4.1 L-50.1,3.0 L-48.2,0.6 L-46.6,-0.9 L-44.3,-2.5 L-41.6,-0.5 L-38.4,3.0 L-35.7,6.5 L-33.4,10.4 L-32.4,14.7 L-33.4,17.8 L-36.1,19.3 L-39.2,18.9 L-41.9,17.4 L-44.7,17.8 L-45.8,20.1 L-47.4,21.7 L-49.7,21.3 L-51.7,19.3 L-54.0,18.2 L-56.3,17.4 L-58.7,15.4 L-61.0,13.5 L-63.7,12.7 L-66.1,11.5 L-67.6,9.2 L-67.2,6.1 L-68.2,3.8Z M-47.4,-0.5 L-46.6,3.0 L-45.4,6.9 L-44.3,10.0 M-48.2,-0.1 L-47.2,3.8 L-45.8,7.6 M-56.3,17.4 L-59.1,20.1 L-63.0,23.2 L-64.9,27.1 L-63.7,31.0 L-62.2,34.9 L-61.8,38.8 L-63.3,41.5 M-34.2,18.2 L-32.2,20.9 L-30.7,24.0 L-28.3,25.2 L-25.2,24.4 L-22.1,24.0 L-18.6,24.4 M-100.3,12.3 L-99.9,9.2 L-99.1,6.1 L-96.4,3.4 L-92.9,1.0 L-89.0,-0.1 L-85.1,0.6 L-82.0,2.6 L-80.1,5.7 L-79.3,9.2 L-79.7,13.1 L-79.3,16.2 L-80.5,18.9 L-82.4,20.1 L-84.0,22.4 L-85.5,24.8 L-87.1,27.1 L-87.9,30.2 L-88.6,33.3 L-90.2,36.1 L-92.5,38.0 L-95.6,39.2 L-98.4,40.3 L-100.3,41.5 M-91.8,7.6 L-89.0,5.7 L-85.9,4.9 L-83.2,5.9 L-81.2,7.6 M-91.4,7.0 L-88.6,5.2 L-85.8,4.4 L-83.0,5.3 M-87.9,14.3 L-85.1,12.7 L-82.0,12.9 M-85.1,16.2 L-84.0,14.3 L-81.6,14.3 L-80.5,16.2 L-81.2,18.5 L-83.2,19.3 L-84.7,18.2Z M-119.1,32.4 L-120.3,30.5 L-121.1,28.1 L-122.3,26.2 L-124.2,25.4 L-126.1,25.8 L-126.9,27.4 L-126.1,29.3 L-125.4,31.6 L-125.8,34.7 L-126.1,37.9 L-126.9,41.0 L-128.1,43.3 L-129.3,46.4 L-130.0,49.5 L-130.8,52.6 L-130.8,55.4 L-130.0,57.3 L-128.1,56.5 L-126.9,53.4 L-125.8,50.3 L-124.2,48.0 L-123.0,48.8 L-123.4,51.5 L-124.2,54.2 L-124.6,56.9 L-123.4,58.9 L-121.1,58.5 L-118.8,56.5 L-116.8,54.2 L-115.3,51.5 L-113.3,48.8 L-111.4,46.8 L-109.4,46.4 L-110.2,48.8 L-111.8,51.1 L-112.9,53.4 L-111.8,55.0 L-109.4,56.1 L-106.7,56.5 L-104.0,56.1 L-102.8,54.2 L-102.0,51.1 L-101.2,48.0 L-100.9,44.9 L-100.1,42.5 L-98.9,41.0 M-118.8,8.3 L-119.5,11.4 L-118.6,14.3 M-88.0,13.7 L-85.7,13.0 L-83.0,13.0 L-80.6,14.1 L-80.2,16.9 L-81.4,18.8 L-83.3,19.2 L-84.9,17.6 L-85.3,15.3Z M-84.9,14.9 L-84.0,18.0 M-63.5,40.6 L-65.4,42.9 L-67.4,45.3 L-69.7,47.6 L-72.5,49.5 L-75.2,51.1 L-76.3,53.0 L-74.8,54.6 L-73.6,55.8 L-75.2,57.3 L-77.1,56.9 L-79.5,56.5 L-81.8,57.7 L-83.7,59.3 L-83.3,61.6 L-81.0,62.4 L-79.1,63.2 L-80.2,65.1 L-83.0,67.0 L-84.9,65.9 L-87.6,65.5 L-90.4,66.7 L-93.1,68.6 L-95.4,70.5 L-97.4,72.5 L-98.1,75.2 L-99.7,77.9 L-101.2,80.7 L-103.2,83.4 L-104.7,86.5 M-76.7,58.5 L-74.4,58.1 L-74.0,60.0 L-76.0,61.2Z M-32.4,14.6 L-31.5,18.7 L-30.1,24.0 L-26.6,25.1 L-23.1,24.0 L-19.6,25.1 L-16.7,28.1 L-14.3,31.6 L-13.7,35.1 L-16.1,36.8 L-18.4,36.2 L-16.7,38.6 L-13.2,39.1 L-9.7,40.3 L-9.1,43.2 L-10.8,46.1 L-13.2,49.1 L-15.5,52.0 L-17.8,54.9 L-20.2,58.4 L-21.3,61.9 L-23.1,65.4 L-24.8,68.9 L-26.0,72.4 L-28.3,76.5 M-18.4,35.1 L-14.3,37.4 L-17.2,39.1 L-13.7,36.2 L-17.8,37.4 M43.5,-4.0 L46.4,-6.4 L49.9,-8.1 L51.6,-11.6 L53.4,-14.6 L56.9,-15.1 L59.2,-12.8 L59.8,-9.9 L57.5,-8.1 L55.1,-4.6 L52.8,-1.7 L49.3,-0.5 L46.4,-1.7Z M52.2,-11.6 L56.3,-9.5 M35.9,-65.3 L38.2,-66.5 L40.5,-63.6 L41.1,-60.1 L44.0,-60.7 L47.0,-59.5 L49.9,-57.7 L51.0,-54.8 L48.7,-51.9 L45.8,-51.9 L42.9,-54.2 L41.7,-57.2 L39.4,-60.1 L37.0,-62.4Z M49.3,-66.5 L51.6,-67.7 L52.8,-64.7 L51.0,-60.7 L49.3,-63.0Z M48.1,-73.5 L50.5,-71.2 L54.0,-69.4 L56.9,-70.6 L59.2,-71.7 L62.1,-69.4 L65.6,-66.5 L67.4,-63.0 L70.3,-64.7 L73.2,-62.4 L72.1,-58.9 L69.1,-57.2 L66.8,-56.0 L65.6,-53.1 L66.8,-49.6 L68.6,-46.7 L71.5,-45.5 L72.6,-42.0 L73.8,-38.5 L74.4,-34.4 L75.6,-31.5 L73.2,-29.7 L69.7,-29.7 L65.6,-28.6 L62.7,-25.6 L61.6,-21.6 L62.1,-18.6 L59.8,-16.3 L61.0,-14.0 L64.5,-13.4 L66.8,-10.5 L68.6,-6.4 L70.3,-2.3 L73.2,1.2 L76.1,3.5 L79.6,4.7 L80.8,10.5 L81.4,14.0 M75.6,-31.5 L78.5,-28.0 L81.4,-26.2 M72.1,-29.4 L75.0,-27.4 M33.0,30.4 L35.3,29.2 L37.6,31.0 L36.5,33.3 L33.5,33.3Z M34.7,22.2 L37.0,21.0 L38.2,24.0 L36.5,25.7Z M38.8,18.7 L41.1,18.1 L42.3,21.6 L41.1,25.1 L39.4,26.9 L38.2,24.6Z M34.1,31.6 L37.0,31.6 M39.4,19.9 L40.5,25.7 M35.6,22.8 L37.0,24.6 M81.4,51.4 L79.1,52.0 L75.6,51.4 L72.1,48.5 L69.1,44.4 L66.8,39.7 L65.1,35.1 L63.9,30.4 L63.9,25.7 L62.7,23.4 L60.4,24.6 L59.8,26.9 L61.0,31.6 L62.1,37.4 L64.5,42.6 L66.8,47.3 L69.1,51.4 L71.5,54.9 L74.4,56.7 L77.9,56.1 L81.4,54.9 M9.6,50.2 L12.5,47.9 L15.4,45.6 L18.9,43.8 L22.4,43.2 L23.6,46.1 L21.9,49.1 L19.5,50.2 L20.7,53.1 L23.6,54.3 L25.9,56.1 L24.8,59.0 L22.4,58.4 L20.7,56.1 L19.5,58.4 L20.1,61.9 L18.9,64.8 L16.6,62.5 L14.3,59.0 L11.9,55.5 L10.2,52.6Z M15.4,46.7 L18.4,52.0 L17.8,54.9 M164.8,-58.9 L167.1,-60.7 L171.8,-61.8 L176.5,-61.8 L181.1,-60.1 L185.2,-57.2 L188.7,-54.8 L191.6,-53.1 L193.7,-50.2 L193.4,-46.7 L191.6,-46.1 L190.5,-49.0 L188.1,-51.9 L184.6,-54.2 L180.5,-56.6 L176.5,-58.3 L171.8,-58.9 L167.7,-58.3 L165.4,-57.7Z M71.4,-44.3 L73.2,-39.6 L72.6,-35.0 L74.9,-29.7 L78.4,-26.2 L81.3,-23.9 L77.2,-24.5 L73.7,-27.4 M71.4,-3.5 L73.7,-1.1 L77.2,2.4 L80.7,4.1 L81.3,8.2 L81.9,12.3 L84.8,14.0 L87.7,12.9 L90.1,12.3 L90.7,14.6 L88.3,17.0 L86.6,19.3 L88.9,21.0 L91.8,19.9 L93.6,19.3 L92.4,22.2 L90.1,24.0 L87.2,23.4 L83.7,21.6 L81.9,23.4 L85.4,25.1 L88.9,26.3 L92.4,27.5 L96.5,29.2 L100.0,28.1 L102.3,26.3 L104.7,28.6 L107.6,29.8 L109.9,32.1 L112.3,35.1 L114.0,38.0 L112.3,39.7 L110.5,38.6 L109.3,35.1 L107.0,32.1 L103.5,31.0 L99.4,30.4 L95.3,29.8 L91.2,28.6 L87.7,27.5 L83.7,26.9 L80.2,26.3 L77.8,27.5 L79.6,29.8 L83.1,31.6 L86.0,33.9 L87.7,36.8 L91.2,38.0 L94.7,38.6 L98.8,38.6 L101.7,39.7 L100.0,42.1 L97.1,43.8 L94.2,45.6 L90.7,47.3 L87.2,49.1 L83.7,50.8 L85.4,52.0 L88.9,51.4 L92.4,52.6 L93.6,54.9 L91.2,56.1 L90.1,59.0 L90.7,61.9 L87.7,63.1 L86.0,66.0 L85.4,70.1 L86.0,73.6 L84.8,76.5 M71.4,47.9 L76.1,50.8 L81.3,52.0 L76.1,54.9 L71.4,56.1 M77.5,67.7 L79.0,66.2 L81.0,67.2 L81.3,69.5 L79.6,70.7 L77.8,69.8Z M74.9,75.3 L78.4,76.5 M-138.0,66.5 L-140.9,70.0 L-143.8,74.1 L-146.2,77.6 L-149.1,79.9 L-152.0,81.1 L-153.7,84.6 L-154.7,88.7 L-153.7,92.8 L-154.3,96.3 L-156.7,97.4 L-156.1,100.9 L-157.2,104.4 L-159.0,107.4 L-161.9,109.7 L-164.2,111.4 L-166.0,109.1 L-168.9,106.2 L-172.4,104.1 L-176.5,103.6 L-178.8,102.9 M-174.7,110.9 L-168.9,109.7 L-165.4,110.6 M-173.6,113.0 L-167.7,112.3 L-163.7,112.6 M-191.1,81.1 L-186.4,88.7 L-182.9,95.7 L-180.6,100.4 L-178.8,102.9 M-90.7,66.5 L-93.6,68.8 L-96.5,71.8 L-98.9,75.8 L-100.6,79.3 L-103.0,82.8 L-105.3,86.9 L-107.6,91.0 L-109.4,95.1 L-110.0,98.6 L-108.8,102.1 L-107.6,105.6 L-107.0,109.1 L-105.3,111.4 L-103.0,110.9 L-100.0,109.1 L-97.1,107.4 L-94.8,105.6 L-92.5,103.3 L-90.1,102.1 L-87.2,101.5 L-85.5,99.8 L-84.3,97.4 L-82.5,95.7 L-80.2,95.1 L-77.9,95.7 L-74.9,96.8 L-71.4,97.8 L-67.9,97.4 L-64.4,96.3 L-61.5,95.1 L-58.6,93.9 M-68.6,97.4 L-65.1,95.7 L-61.6,94.3 L-58.1,93.6 L-54.6,94.3 L-51.1,94.5 L-47.6,93.6 L-44.1,92.4 L-40.6,90.4 L-42.3,88.7 L-44.1,88.1 L-41.2,86.3 L-39.4,84.6 L-37.7,85.8 L-38.8,82.8 L-36.5,80.5 L-34.2,81.1 L-33.0,78.2 L-30.7,77.0 L-28.9,74.7 L-27.2,72.3 L-25.4,71.8 L-24.2,68.8 L-23.1,66.5 M-15.5,93.6 L-12.8,94.9 M-15.1,94.5 L-13.2,93.9 M-52.3,115.5 L-51.1,112.6 L-48.8,110.3 L-45.8,109.7 L-44.7,112.0 L-41.8,113.2 L-38.3,113.8 L-34.2,113.8 L-31.2,115.5 L-29.5,118.4 L-29.5,121.4 L-31.2,123.7 L-34.2,125.4 L-37.7,126.6 L-41.2,127.2 L-44.7,127.2 L-47.0,125.4 L-48.8,123.1 L-51.1,121.9 L-49.9,119.6 L-51.7,117.9Z M-18.4,139.5 L-14.9,140.6 L-17.8,140.6 L-15.5,139.5 M-4.2,150.0 L-3.0,153.5 L-3.7,151.7 M-9.7,156.6 L-7.3,158.1 M-12.6,159.9 L-9.1,159.9 L-7.9,162.2 L-10.2,164.6 L-6.7,165.1 L-5.0,166.9 L-6.7,170.4 L-7.9,172.7 L-6.2,175.6 L-4.4,179.1 L-2.6,183.2 L-0.9,186.7 L0.3,190.2 L2.6,192.0 L4.9,193.1 L6.1,195.5 L4.9,198.4 L3.2,200.7 L1.4,202.5 L-2.1,203.1 L-5.6,202.8 L-9.1,203.1 L-12.6,204.0 L-14.9,204.8 L-17.2,205.4 L-20.2,205.6 M-12.6,159.9 L-14.9,161.6 L-16.7,164.6 L-15.5,167.5 L-17.2,170.4 L-16.1,173.3 L-14.3,175.6 L-15.5,178.0 L-13.7,180.3 L-10.8,180.9 L-9.1,183.2 L-9.7,185.6 L-12.0,186.7 L-14.3,187.9 L-13.7,190.2 L-15.5,192.6 L-17.2,194.9 L-16.7,197.2 L-13.7,197.8 L-10.8,197.8 L-9.1,199.0 L-11.4,200.7 L-14.3,201.9 L-16.7,203.7 L-19.0,205.4 M-20.7,161.0 L-18.4,159.3 L-17.2,159.9 L-19.0,162.8 L-20.2,164.6 M-19.8,161.6 L-17.8,159.9 M-35.3,192.0 L-33.6,188.5 L-31.8,185.0 L-31.2,181.5 L-28.3,180.3 L-26.0,178.0 L-23.1,176.8 L-20.2,177.4 L-18.4,179.7 L-19.6,182.6 L-20.2,186.1 L-19.6,189.6 L-20.7,192.6 L-23.7,193.7 L-27.2,194.3 L-30.1,195.5 L-33.0,195.5 L-34.7,194.3Z M5.5,206.0 L6.1,203.1 L9.0,200.7 L11.9,198.4 L13.7,196.1 L14.9,193.1 L16.6,190.2 L19.5,188.5 L22.4,186.7 L25.4,185.0 L27.7,182.6 L28.3,179.1 L27.1,175.6 L24.8,172.7 L24.2,169.2 L25.4,166.3 L27.7,164.0 L30.0,162.8 L31.2,165.7 L30.6,169.2 L31.8,172.1 L30.6,175.1 L32.4,177.4 L34.1,180.3 L36.5,182.1 L39.4,180.3 L41.7,178.6 L44.0,179.1 L46.4,178.6 L49.3,176.8 L52.2,175.1 L54.5,173.3 L56.9,172.1 L59.2,173.3 L61.6,171.6 L62.7,168.6 L63.3,165.1 L62.1,161.6 L61.6,158.1 L62.1,154.6 L64.5,153.5 L67.4,153.5 L69.1,151.1 L68.6,148.2 L66.2,147.0 L63.9,147.6 L61.6,147.0 L62.7,143.5 L65.6,140.6 L69.1,137.7 L72.6,135.4 L77.3,133.3 L78.2,132.1 L74.4,130.7 L70.9,131.3 L67.4,133.6 L64.5,136.5 L61.0,139.5 L56.9,138.9 L54.0,136.5 L52.8,133.0 L51.6,128.9 L51.0,124.9 L51.6,120.8 L53.4,116.7 L53.4,113.2 L51.0,111.4 L48.1,112.0 L46.4,114.4 L45.8,117.9 L46.4,121.4 L45.2,124.9 L43.5,128.4 L42.3,132.5 L42.9,136.0 L45.2,138.3 L47.5,140.6 L49.3,143.5 L48.7,147.0 L47.0,150.5 L46.4,154.6 L47.0,158.7 L47.5,162.8 L46.4,165.7 L44.0,166.9 L42.9,169.8 L41.1,171.6 L39.4,169.2 L37.0,165.7 L34.7,162.2 L33.0,158.7 L31.2,155.2 L29.5,153.5 L27.1,154.6 L24.8,157.5 L22.4,159.9 L19.5,161.0 L16.6,159.3 L15.4,156.4 L14.9,152.9 L13.7,149.4 L12.5,145.9 L12.5,142.4 L14.3,139.5 L16.6,136.5 L19.5,133.6 L21.9,130.7 L23.6,127.2 L24.8,123.7 L26.5,119.6 L27.7,115.5 L28.0,111.4 L27.7,107.4 L28.3,103.9 L30.0,100.4 L32.0,96.8 L34.1,93.3 L36.5,90.4 L38.8,87.5 L41.7,85.2 L44.6,84.0 L48.1,84.0 L51.6,85.2 L55.1,85.8 L59.8,85.2 L64.5,84.6 L69.1,84.6 L73.2,85.8 L76.7,88.1 L77.3,91.6 L75.6,93.9 L71.5,95.7 L66.8,96.8 L62.7,97.4 L65.6,98.6 L69.1,99.8 L70.9,102.7 L73.2,105.0 L76.7,104.4 L79.6,103.9 L81.4,104.4 M16.4,192.0 L18.4,190.5 L20.1,192.0 L18.7,193.7 L16.8,193.5Z M30.6,173.9 L33.0,171.6 L35.9,171.0 L38.2,173.3 L37.6,176.8 L34.7,178.0 L31.8,176.8Z M33.0,173.3 L35.3,175.6 L33.5,176.2 L35.9,172.7 M75.6,100.4 L78.5,100.9 L81.4,100.4 M51.6,155.2 L53.4,154.0 L54.0,157.5 L52.6,159.9Z M52.8,155.2 L52.8,158.7 M59.8,146.5 L62.1,145.9 L62.7,149.4 L60.4,150.0Z M61.0,147.0 L61.6,149.1 M27.1,101.5 L30.6,100.4 L28.3,105.0 L25.4,107.4 M85.0,66.4 L84.7,69.5 L84.1,72.6 L83.7,75.1 L85.0,76.4 L86.5,77.6 L85.9,80.1 L84.1,81.0 L81.9,80.4 L80.3,79.5 L80.0,77.0 L78.8,75.7 L76.9,76.0 L75.0,77.0 L73.2,77.9 L75.3,78.8 L77.5,80.1 L78.8,82.0 L80.6,82.9 L82.5,83.8 L83.4,85.7 L81.9,86.9 L80.3,88.2 L79.7,90.7 L79.4,93.2 L79.7,95.0 L81.3,96.3 L83.7,97.2 L81.9,98.5 L79.4,99.1 L77.2,99.7 L75.6,100.9 L76.6,102.5 L78.8,101.9 L80.6,102.5 L80.6,104.4 L78.8,105.3 L76.3,105.6 L73.5,105.9 M84.1,50.2 L87.2,49.9 L84.4,50.9 L87.4,50.7 M109.9,36.5 L110.5,38.4 L112.4,39.3 L113.9,38.4 L113.9,36.5 M78.4,115.5 L80.7,113.2 L83.7,113.8 L86.6,116.7 L87.2,119.6 L84.8,120.4 L82.5,118.4 L80.2,117.9Z M74.3,127.2 L76.7,124.3 L80.2,124.3 L82.5,126.6 L81.9,129.5 L79.6,131.3 L76.7,130.7 L74.7,129.5Z M-58.6,-81.6 L-63.9,-79.3 L-70.9,-77.5 L-74.4,-76.9 L-73.2,-73.4 M-73.2,-73.5 L-74.9,-68.8 L-76.7,-64.2 L-80.2,-61.8 L-84.3,-58.9"/>
</g>
<circle r="207.2" fill="none" stroke="#000" stroke-width="1.4"/>
</g>
<g transform="translate(926.4,403.5)">
<g clip-path="url(#cp)">
<circle r="209.2" fill="#b4cdff"/>
<path fill="#d7e8ff" d="M-126.9,-162.5C-127.4,-160.9 -128.5,-156.2 -129.7,-153.1C-131.0,-150.0 -132.5,-146.6 -134.4,-143.8C-136.3,-141.0 -138.6,-138.5 -141.0,-136.3C-143.3,-134.1 -145.6,-132.3 -148.4,-130.7C-151.2,-129.2 -155.0,-127.9 -157.8,-127.0C-160.6,-126.0 -163.2,-126.4 -165.2,-125.1C-167.3,-123.9 -168.5,-121.7 -169.9,-119.5C-171.3,-117.3 -172.4,-114.5 -173.6,-112.0C-174.9,-109.5 -176.1,-107.4 -177.4,-104.6C-178.6,-101.8 -180.2,-98.0 -181.1,-95.2C-182.0,-92.4 -183.6,-90.2 -183.0,-87.8C-182.4,-85.3 -179.6,-83.4 -177.4,-80.3C-175.2,-77.2 -171.8,-72.5 -169.9,-69.1C-168.0,-65.7 -166.6,-62.9 -166.2,-59.7C-165.7,-56.6 -166.3,-53.8 -167.1,-50.4C-167.9,-47.0 -169.6,-42.6 -170.8,-39.2C-172.1,-35.8 -173.2,-33.0 -174.6,-29.9C-176.0,-26.7 -178.3,-22.4 -179.2,-20.5C-180.2,-18.6 -179.1,-20.4 -180.2,-18.5C-181.3,-16.6 -183.9,-12.3 -185.8,-9.2C-187.6,-6.0 -189.5,-2.9 -191.4,0.2C-193.3,3.3 -195.3,6.7 -197.0,9.5C-198.7,12.3 -200.1,14.5 -201.7,17.0C-203.2,19.5 -205.5,23.2 -206.3,24.5 L-257.2,30.5 L-258.9,-7.4 L-255.0,-45.1 L-245.7,-81.8 L-231.1,-116.8 L-211.6,-149.3 L-187.6,-178.6 L-159.5,-204.1Z"/>
<path fill="#ffebd9" d="M-191.8,-77.5C-191.6,-76.1 -190.6,-72.7 -191.0,-69.1C-191.4,-65.5 -193.3,-60.1 -194.2,-56.0C-195.0,-52.0 -195.3,-48.1 -196.1,-44.8C-196.8,-41.5 -197.4,-38.9 -198.9,-36.4C-200.3,-33.9 -203.8,-30.9 -204.8,-29.9 L-256.3,-37.4 L-250.0,-67.7 L-240.1,-97.0Z"/>
<path fill="#d7e8ff" d="M-134.4,164.5C-132.4,165.3 -126.2,168.0 -122.3,169.2C-118.4,170.5 -114.8,171.2 -111.1,172.0C-107.3,172.8 -103.6,173.1 -99.9,173.9C-96.1,174.7 -92.4,176.1 -88.7,176.7C-84.9,177.3 -81.2,177.4 -77.5,177.6C-73.7,177.8 -70.0,177.8 -66.2,178.0C-62.5,178.1 -58.8,178.6 -55.0,178.5C-51.3,178.5 -47.6,178.1 -43.8,177.6C-40.1,177.1 -36.0,176.7 -32.6,175.7C-29.2,174.8 -26.1,173.6 -23.3,172.0C-20.5,170.5 -18.3,167.8 -15.8,166.4C-13.3,165.0 -11.0,164.2 -8.3,163.6C-5.7,163.0 -2.8,162.2 0.1,162.7C2.9,163.1 5.6,165.9 8.6,166.4C11.6,166.9 14.8,166.3 18.0,165.5C21.1,164.7 24.2,162.8 27.3,161.7C30.4,160.6 34.0,159.9 36.6,158.9C39.3,158.0 41.6,157.7 43.2,156.1C44.7,154.6 45.0,151.6 46.0,149.6C46.9,147.6 47.7,145.6 48.8,144.0C49.9,142.4 50.8,140.7 52.5,140.3C54.2,139.8 57.0,140.3 59.0,141.2C61.1,142.1 62.8,144.0 64.6,145.9C66.5,147.7 68.1,150.4 70.3,152.4C72.4,154.4 74.9,156.9 77.7,158.0C80.5,159.1 83.9,159.2 87.1,158.9C90.2,158.6 93.3,157.5 96.4,156.1C99.5,154.7 102.6,152.6 105.7,150.5C108.9,148.5 112.3,146.3 115.1,144.0C117.9,141.7 120.1,139.0 122.5,136.5C125.0,134.0 127.5,131.2 130.0,129.1C132.5,126.9 135.0,125.3 137.5,123.4C140.0,121.6 142.5,120.0 145.0,117.8C147.5,115.7 150.3,112.9 152.4,110.4C154.6,107.9 156.5,105.7 158.0,102.9C159.6,100.1 160.7,97.0 161.8,93.6C162.9,90.1 163.6,86.1 164.6,82.4C165.5,78.6 166.6,74.9 167.4,71.2C168.2,67.4 168.6,63.7 169.2,59.9C169.9,56.2 170.5,52.5 171.1,48.7C171.7,45.0 172.4,41.0 173.0,37.5C173.6,34.1 173.9,30.8 174.8,28.2C175.8,25.5 177.0,23.4 178.6,21.7C180.1,19.9 182.0,18.9 184.2,17.9C186.4,17.0 189.2,16.5 191.7,16.1C194.1,15.6 196.5,15.6 199.1,15.1C201.8,14.7 206.1,13.6 207.5,13.3 L258.5,16.5 L253.3,54.0 L242.8,90.3 L227.0,124.7 L206.5,156.4 L181.5,184.8 L152.6,209.2 L120.5,229.2 L85.9,244.3 L49.4,254.2 L11.8,258.7 L-26.0,257.7 L-63.2,251.2 L-99.1,239.3 L-132.9,222.3 L-163.9,200.6Z"/>
<path fill="#ffebd9" d="M-44.8,203.8C-42.7,203.2 -37.8,201.1 -32.6,200.4C-27.5,199.7 -19.9,199.5 -13.9,199.3C-8.0,199.1 1.0,198.8 2.9,199.1C4.8,199.4 -2.8,200.7 -2.6,201.0C-2.4,201.3 2.4,199.9 3.9,201.0C5.5,202.1 6.3,206.4 6.7,207.5 L8.4,258.9 L-23.8,257.9 L-55.6,253.0Z"/>
<path fill="#ffebd9" d="M206.6,24.8C205.4,25.7 201.3,27.9 199.1,30.1C196.9,32.2 194.8,34.4 193.5,37.5C192.3,40.6 192.3,45.0 191.7,48.7C191.0,52.5 190.7,56.2 189.8,59.9C188.9,63.7 187.5,67.4 186.1,71.2C184.7,74.9 182.9,78.9 181.4,82.4C179.8,85.8 178.4,88.6 176.7,91.7C175.0,94.8 173.0,97.9 171.1,101.0C169.2,104.1 167.4,107.6 165.5,110.4C163.6,113.2 161.8,115.4 159.9,117.8C158.0,120.3 156.2,122.8 154.3,125.3C152.4,127.8 150.3,130.3 148.7,132.8C147.1,135.3 146.7,137.3 145.0,140.3C143.3,143.2 139.5,148.8 138.4,150.5 L175.3,190.6 L200.5,164.0 L221.6,134.1 L238.3,101.5 L250.2,66.9 L257.1,30.9Z"/>
<path fill="#82a5ff" d="M-69.0,-141.0C-66.9,-143.4 -61.9,-143.2 -58.8,-143.2C-55.7,-143.2 -52.9,-142.0 -50.4,-141.0C-47.9,-140.0 -46.3,-137.7 -43.8,-137.3C-41.3,-136.8 -38.5,-137.9 -35.4,-138.2C-32.3,-138.5 -28.3,-138.2 -25.2,-139.1C-22.0,-140.1 -19.1,-142.1 -16.7,-143.8C-14.4,-145.5 -11.8,-147.2 -11.1,-149.4C-10.5,-151.6 -12.4,-153.8 -13.0,-156.9C-13.6,-160.0 -15.3,-164.6 -14.9,-168.1C-14.4,-171.5 -12.5,-174.9 -10.2,-177.4C-7.9,-179.9 -4.3,-181.3 -0.9,-183.0C2.6,-184.7 6.8,-186.4 10.3,-187.7C13.9,-188.9 17.7,-190.7 20.6,-190.5C23.4,-190.3 24.6,-188.1 27.3,-186.4C30.0,-184.7 33.8,-182.1 36.6,-180.2C39.4,-178.3 41.5,-176.9 44.1,-175.2C46.7,-173.4 50.0,-170.0 52.5,-169.6C55.0,-169.2 56.4,-171.8 59.0,-172.7C61.7,-173.7 65.9,-175.3 68.4,-175.2C70.9,-175.0 73.1,-173.6 74.0,-171.8C74.8,-170.0 74.5,-166.8 73.4,-164.3C72.3,-161.8 69.2,-158.8 67.5,-156.9C65.7,-154.9 62.6,-154.5 62.8,-152.8C62.9,-151.0 66.2,-148.7 68.4,-146.6C70.6,-144.5 73.1,-142.4 75.9,-140.1C78.7,-137.7 81.8,-134.9 85.2,-132.6C88.6,-130.2 92.7,-127.0 96.4,-126.0C100.1,-125.1 103.9,-126.5 107.6,-127.0C111.3,-127.4 115.4,-128.2 118.8,-128.8C122.2,-129.5 126.6,-129.5 128.2,-130.7C129.7,-132.0 127.8,-134.5 128.2,-136.3C128.5,-138.2 129.1,-140.7 130.0,-141.9C131.0,-143.2 132.2,-144.1 133.8,-143.8C135.3,-143.5 137.6,-141.6 139.4,-140.1C141.1,-138.5 142.9,-136.9 144.0,-134.5C145.1,-132.0 145.3,-128.1 145.9,-125.1C146.5,-122.2 146.4,-119.5 147.8,-116.7C149.2,-113.9 152.0,-110.9 154.3,-108.3C156.6,-105.7 159.6,-103.6 161.8,-100.8C164.0,-98.0 165.2,-94.6 167.4,-91.5C169.6,-88.4 173.0,-85.0 174.8,-82.2C176.7,-79.4 177.6,-77.5 178.6,-74.7C179.5,-71.9 180.5,-68.5 180.5,-65.3C180.5,-62.2 178.7,-59.0 178.6,-56.0C178.4,-53.0 178.0,-49.5 179.5,-47.6C181.1,-45.7 185.0,-45.9 187.9,-44.8C190.9,-43.7 194.0,-42.1 197.3,-41.1C200.5,-40.1 204.1,-39.6 207.5,-38.8C211.0,-38.0 216.1,-38.7 217.8,-36.4C219.5,-34.1 219.7,-27.3 217.8,-25.2C215.9,-23.1 210.3,-25.3 206.6,-23.9C202.9,-22.5 198.8,-18.9 195.4,-16.8C192.0,-14.7 189.2,-11.6 186.1,-11.2C182.9,-10.7 179.8,-13.5 176.7,-14.0C173.6,-14.4 169.9,-14.8 167.4,-14.0C164.9,-13.2 163.5,-11.3 161.8,-9.3C160.1,-7.3 158.5,-4.3 157.1,-1.8C155.7,0.7 154.5,3.1 153.4,5.6C152.3,8.1 151.3,10.0 150.6,13.1C149.8,16.2 149.3,20.7 148.7,24.5C148.1,28.2 147.3,32.2 146.8,35.7C146.4,39.1 146.8,41.9 145.9,45.0C145.0,48.1 142.9,51.5 141.2,54.3C139.5,57.1 136.9,59.0 135.6,61.8C134.4,64.6 133.9,67.7 133.8,71.2C133.6,74.6 135.3,79.2 134.7,82.4C134.1,85.5 132.4,87.5 130.0,89.8C127.7,92.2 123.8,94.5 120.7,96.4C117.6,98.2 114.5,99.6 111.3,101.0C108.2,102.4 105.1,103.2 102.0,104.8C98.9,106.3 95.9,109.3 92.7,110.4C89.4,111.5 85.5,111.3 82.4,111.3C79.3,111.3 76.9,110.7 74.0,110.4C71.0,110.1 67.8,109.4 64.6,109.4C61.5,109.4 58.1,109.9 55.3,110.4C52.5,110.8 49.9,110.7 47.8,112.2C45.8,113.8 44.4,116.9 43.2,119.7C41.9,122.5 41.5,126.3 40.4,129.1C39.3,131.9 38.2,134.3 36.6,136.5C35.1,138.7 33.2,140.4 31.0,142.1C28.9,143.8 26.0,145.6 23.6,146.8C21.1,148.0 18.1,150.1 16.1,149.6C14.1,149.1 12.8,146.5 11.4,144.0C10.0,141.5 8.0,137.8 7.7,134.7C7.4,131.5 9.7,128.4 9.6,125.3C9.4,122.2 8.5,118.5 6.7,116.0C5.0,113.5 2.1,111.6 -0.7,110.4C-3.5,109.1 -8.2,109.0 -10.1,108.5C-12.0,108.0 -10.5,107.3 -12.1,107.6C-13.7,107.9 -17.5,109.0 -19.5,110.4C-21.6,111.8 -23.1,113.5 -24.2,116.0C-25.3,118.5 -25.3,122.2 -26.1,125.3C-26.9,128.4 -27.2,132.3 -28.9,134.7C-30.6,137.0 -33.6,139.0 -36.4,139.3C-39.2,139.6 -42.6,137.8 -45.7,136.5C-48.8,135.3 -52.2,133.7 -55.0,131.9C-57.8,130.0 -60.0,127.7 -62.5,125.3C-65.0,123.0 -67.5,120.0 -70.0,117.8C-72.5,115.7 -74.3,113.8 -77.5,112.2C-80.6,110.7 -84.9,108.8 -88.7,108.5C-92.4,108.3 -96.8,110.2 -99.9,110.7C-103.0,111.3 -104.5,111.1 -107.3,111.7C-110.1,112.2 -113.6,113.9 -116.7,114.1C-119.8,114.4 -122.9,114.1 -126.0,113.2C-129.1,112.2 -132.2,110.2 -135.4,108.5C-138.5,106.8 -141.3,104.6 -144.7,102.9C-148.1,101.2 -152.8,99.5 -155.9,98.2C-159.0,97.0 -160.6,96.8 -163.4,95.4C-166.2,94.0 -170.1,92.3 -172.7,89.8C-175.4,87.3 -177.4,83.6 -179.2,80.5C-181.1,77.4 -182.8,74.6 -183.9,71.2C-185.0,67.7 -185.9,63.7 -185.8,59.9C-185.6,56.2 -184.1,52.5 -183.0,48.7C-181.9,45.0 -180.2,41.0 -179.2,37.5C-178.3,34.1 -178.2,31.3 -177.4,28.2C-176.6,25.1 -176.0,21.7 -174.6,18.9C-173.2,16.0 -170.8,13.8 -169.0,11.2C-167.1,8.7 -165.5,6.3 -163.4,3.8C-161.2,1.3 -157.8,-1.2 -155.9,-3.7C-154.0,-6.2 -152.6,-8.7 -152.2,-11.2C-151.7,-13.7 -153.4,-16.2 -153.1,-18.6C-152.8,-21.1 -151.7,-23.6 -150.3,-26.1C-148.9,-28.6 -146.9,-31.1 -144.7,-33.6C-142.5,-36.1 -139.7,-38.9 -137.2,-41.1C-134.7,-43.2 -131.6,-44.5 -129.7,-46.7C-127.9,-48.8 -127.1,-51.6 -126.0,-54.1C-124.9,-56.6 -123.8,-59.1 -123.2,-61.6C-122.6,-64.1 -122.1,-66.6 -122.3,-69.1C-122.4,-71.6 -122.9,-74.4 -124.1,-76.6C-125.4,-78.7 -127.6,-80.4 -129.7,-82.2C-131.9,-83.9 -134.7,-85.6 -137.2,-86.8C-139.7,-88.1 -141.9,-88.8 -144.7,-89.6C-147.5,-90.4 -151.2,-91.2 -154.0,-91.5C-156.8,-91.8 -159.6,-90.7 -161.5,-91.5C-163.4,-92.3 -165.5,-94.3 -165.2,-96.2C-164.9,-98.0 -161.2,-100.7 -159.6,-102.7C-158.1,-104.7 -157.5,-106.7 -155.9,-108.3C-154.3,-109.9 -152.8,-111.1 -150.3,-112.0C-147.8,-113.0 -144.4,-113.4 -141.0,-113.9C-137.5,-114.4 -133.5,-114.7 -129.7,-114.8C-126.0,-115.0 -122.3,-114.7 -118.5,-114.8C-114.8,-115.0 -110.4,-115.3 -107.3,-115.8C-104.2,-116.2 -102.7,-116.7 -99.9,-117.6C-97.1,-118.6 -93.9,-120.1 -90.5,-121.4C-87.1,-122.6 -82.4,-123.9 -79.3,-125.1C-76.2,-126.4 -73.6,-126.2 -71.8,-128.8C-70.1,-131.5 -71.2,-138.6 -69.0,-141.0Z"/>
<path fill="#4178ff" d="M-117.6,-104.6C-116.8,-106.7 -114.0,-108.5 -111.1,-110.2C-108.1,-111.9 -103.6,-113.4 -99.9,-114.8C-96.1,-116.2 -92.4,-117.8 -88.7,-118.6C-84.9,-119.4 -80.9,-119.8 -77.5,-119.5C-74.0,-119.2 -70.0,-118.3 -68.1,-116.7C-66.2,-115.2 -66.4,-112.2 -66.2,-110.2C-66.1,-108.1 -68.1,-105.7 -67.2,-104.6C-66.2,-103.5 -63.0,-103.9 -60.6,-103.6C-58.3,-103.3 -54.9,-103.6 -53.2,-102.7C-51.5,-101.8 -50.5,-99.9 -50.4,-98.0C-50.2,-96.2 -50.8,-92.9 -52.2,-91.5C-53.6,-90.1 -56.1,-89.6 -58.8,-89.6C-61.4,-89.6 -65.0,-91.5 -68.1,-91.5C-71.2,-91.5 -74.0,-90.4 -77.5,-89.6C-80.9,-88.8 -85.2,-87.6 -88.7,-86.8C-92.1,-86.0 -95.2,-85.1 -98.0,-85.0C-100.8,-84.8 -103.3,-84.8 -105.5,-85.9C-107.6,-87.0 -109.4,-89.6 -111.1,-91.5C-112.8,-93.4 -114.6,-94.9 -115.7,-97.1C-116.8,-99.3 -118.4,-102.4 -117.6,-104.6Z"/>
<path fill="#4178ff" d="M-122.3,-1.8C-121.5,-3.0 -119.8,-5.9 -117.6,-7.4C-115.4,-9.0 -112.2,-9.9 -109.2,-11.2C-106.2,-12.4 -103.3,-13.4 -99.9,-14.9C-96.4,-16.5 -90.8,-18.3 -88.7,-20.5C-86.5,-22.7 -87.9,-25.8 -86.8,-28.0C-85.7,-30.2 -84.0,-31.7 -82.1,-33.6C-80.3,-35.5 -78.2,-37.5 -75.6,-39.2C-72.9,-40.9 -69.0,-42.6 -66.2,-43.9C-63.4,-45.1 -61.3,-45.1 -58.8,-46.7C-56.3,-48.2 -53.8,-51.0 -51.3,-53.2C-48.8,-55.4 -46.6,-57.7 -43.8,-59.7C-41.0,-61.8 -37.9,-63.5 -34.5,-65.3C-31.1,-67.2 -27.0,-69.4 -23.3,-70.9C-19.5,-72.5 -15.8,-73.0 -12.1,-74.7C-8.3,-76.4 -4.6,-79.5 -0.9,-81.2C2.9,-82.9 7.8,-84.2 10.3,-85.0C12.9,-85.7 11.7,-86.2 14.2,-85.9C16.7,-85.6 21.7,-84.2 25.4,-83.1C29.2,-82.0 33.2,-80.8 36.6,-79.4C40.1,-78.0 42.9,-75.8 46.0,-74.7C49.1,-73.6 53.0,-72.8 55.3,-72.8C57.6,-72.8 58.9,-72.8 60.0,-74.7C61.1,-76.6 61.4,-80.9 61.8,-84.0C62.3,-87.1 62.9,-90.4 62.8,-93.4C62.6,-96.3 62.2,-99.3 60.9,-101.8C59.7,-104.3 57.8,-106.7 55.3,-108.3C52.8,-109.9 49.1,-110.8 46.0,-111.1C42.9,-111.4 39.7,-110.9 36.6,-110.2C33.5,-109.4 30.4,-107.4 27.3,-106.4C24.2,-105.5 21.1,-104.3 18.0,-104.6C14.8,-104.9 11.1,-106.7 8.6,-108.3C6.1,-109.9 3.0,-112.2 3.0,-113.9C3.0,-115.6 6.1,-116.9 8.6,-118.6C11.1,-120.3 14.8,-122.3 18.0,-124.2C21.1,-126.0 24.2,-128.7 27.3,-129.8C30.4,-130.9 33.5,-131.0 36.6,-130.7C39.7,-130.4 42.9,-128.5 46.0,-127.9C49.1,-127.3 52.2,-126.8 55.3,-127.0C58.4,-127.1 61.5,-129.0 64.6,-128.8C67.8,-128.7 70.9,-127.3 74.0,-126.0C77.1,-124.8 80.2,-123.1 83.3,-121.4C86.4,-119.7 90.2,-117.8 92.7,-115.8C95.2,-113.7 97.6,-111.7 98.3,-109.2C98.9,-106.7 97.0,-104.1 96.4,-100.8C95.8,-97.6 94.5,-93.7 94.5,-89.6C94.5,-85.6 96.2,-80.9 96.4,-76.6C96.6,-72.2 95.2,-67.2 95.5,-63.5C95.8,-59.7 96.6,-57.2 98.3,-54.1C100.0,-51.0 103.2,-47.6 105.7,-44.8C108.2,-42.0 110.7,-39.8 113.2,-37.3C115.7,-34.8 118.5,-32.3 120.7,-29.9C122.9,-27.4 124.7,-25.2 126.3,-22.4C127.8,-19.6 129.6,-16.2 130.0,-13.0C130.5,-9.9 130.3,-6.2 129.1,-3.7C127.8,-1.2 125.2,0.3 122.5,1.9C119.9,3.5 116.3,4.5 113.2,5.6C110.1,6.7 106.7,7.2 103.9,8.4C101.1,9.7 98.6,12.3 96.4,13.1C94.2,13.9 93.3,12.3 90.8,13.3C88.3,14.2 84.3,17.0 81.5,18.9C78.7,20.7 76.2,22.9 74.0,24.5C71.8,26.0 70.9,28.0 68.4,28.2C65.9,28.3 62.5,24.9 59.0,25.4C55.6,25.9 51.0,29.4 47.8,31.0C44.7,32.6 42.9,33.6 40.4,34.7C37.9,35.8 35.4,37.2 32.9,37.5C30.4,37.8 27.9,37.2 25.4,36.6C22.9,36.0 20.4,34.7 18.0,33.8C15.5,32.9 12.7,31.2 10.5,31.0C8.3,30.8 7.1,31.8 4.9,32.9C2.7,34.0 -0.4,35.8 -2.6,37.5C-4.8,39.2 -6.3,41.0 -8.2,43.1C-10.1,45.3 -11.9,48.4 -13.8,50.6C-15.7,52.8 -17.8,53.7 -19.4,56.2C-21.0,58.7 -21.7,62.4 -23.3,65.5C-24.9,68.7 -27.0,71.9 -28.9,74.9C-30.8,77.8 -32.6,80.6 -34.5,83.3C-36.4,85.9 -38.2,89.1 -40.1,90.8C-42.0,92.5 -43.2,92.7 -45.7,93.6C-48.2,94.4 -51.9,95.1 -55.0,95.8C-58.1,96.5 -61.3,97.5 -64.4,97.7C-67.5,97.8 -70.9,97.1 -73.7,96.7C-76.5,96.4 -79.3,95.3 -81.2,95.8C-83.1,96.3 -83.1,98.0 -84.9,99.5C-86.8,101.1 -89.9,103.3 -92.4,105.1C-94.9,107.0 -97.7,110.1 -99.9,110.7C-102.0,111.4 -104.2,110.8 -105.5,108.9C-106.7,107.0 -107.3,102.3 -107.3,99.2C-107.3,96.0 -106.4,92.9 -105.5,89.8C-104.5,86.7 -103.3,83.6 -101.7,80.5C-100.2,77.4 -98.3,74.0 -96.1,71.2C-93.9,68.4 -91.1,66.2 -88.7,63.7C-86.2,61.2 -83.4,58.7 -81.2,56.2C-79.0,53.7 -77.5,51.2 -75.6,48.7C-73.7,46.2 -71.7,44.1 -70.0,41.3C-68.3,38.5 -66.6,35.2 -65.3,31.9C-64.1,28.7 -62.8,24.3 -62.5,21.7C-62.2,19.0 -62.7,16.8 -63.4,16.1C-64.2,15.3 -66.1,15.9 -67.2,17.0C-68.3,18.1 -68.7,20.4 -70.0,22.6C-71.2,24.8 -72.8,27.6 -74.6,30.1C-76.5,32.6 -78.9,35.0 -81.2,37.5C-83.5,40.0 -86.2,42.5 -88.7,45.0C-91.1,47.5 -93.6,50.8 -96.1,52.5C-98.6,54.2 -100.5,54.7 -103.6,55.3C-106.7,55.9 -111.1,55.7 -114.8,56.2C-118.5,56.7 -123.5,58.4 -126.0,58.1C-128.5,57.8 -129.4,56.2 -129.7,54.3C-130.1,52.5 -128.3,49.7 -127.9,46.9C-127.4,44.1 -127.3,40.3 -126.9,37.5C-126.6,34.7 -126.8,32.1 -126.0,30.1C-125.2,28.0 -123.7,27.4 -122.3,25.4C-120.9,23.4 -117.9,20.6 -117.6,17.9C-117.3,15.3 -119.6,12.6 -120.4,9.5C-121.2,6.4 -122.0,1.1 -122.3,-0.8C-122.6,-2.6 -123.1,-0.7 -122.3,-1.8Z"/>
<path fill="#1950ff" d="M-55.0,32.9C-53.0,32.1 -48.8,31.0 -45.7,31.0C-42.6,31.0 -38.8,31.8 -36.4,32.9C-33.9,34.0 -32.0,35.2 -30.8,37.5C-29.5,39.9 -28.9,43.8 -28.9,46.9C-28.9,50.0 -30.1,53.1 -30.8,56.2C-31.4,59.3 -31.7,62.4 -32.6,65.5C-33.6,68.7 -34.8,71.9 -36.4,74.9C-37.9,77.8 -39.8,81.0 -42.0,83.3C-44.1,85.6 -46.6,87.5 -49.4,88.9C-52.2,90.3 -55.3,91.1 -58.8,91.7C-62.2,92.3 -66.6,92.3 -70.0,92.6C-73.4,92.9 -76.5,93.3 -79.3,93.6C-82.1,93.9 -84.6,94.5 -86.8,94.5C-89.0,94.5 -91.3,94.7 -92.4,93.6C-93.5,92.5 -93.9,89.8 -93.3,88.0C-92.7,86.1 -90.4,84.2 -88.7,82.4C-86.9,80.5 -84.9,78.6 -83.1,76.8C-81.2,74.9 -79.3,73.3 -77.5,71.2C-75.6,69.0 -73.4,66.2 -71.8,63.7C-70.3,61.2 -69.4,58.7 -68.1,56.2C-66.9,53.7 -65.6,51.2 -64.4,48.7C-63.1,46.2 -61.7,43.4 -60.6,41.3C-59.6,39.1 -58.8,37.1 -57.8,35.7C-56.9,34.3 -57.1,33.6 -55.0,32.9Z"/>
<path fill="#002ddc" d="M-50.4,56.2C-49.1,56.2 -47.3,56.8 -46.6,58.1C-46.0,59.3 -46.2,61.7 -46.6,63.7C-47.1,65.7 -48.2,68.4 -49.4,70.2C-50.7,72.1 -52.4,73.8 -54.1,74.9C-55.8,76.0 -58.3,76.9 -59.7,76.8C-61.1,76.6 -62.2,75.4 -62.5,74.0C-62.8,72.6 -62.4,70.2 -61.6,68.4C-60.8,66.5 -59.1,64.5 -57.8,62.7C-56.6,61.0 -55.3,59.2 -54.1,58.1C-52.9,57.0 -51.6,56.2 -50.4,56.2Z"/>
<line x1="0" y1="112" x2="0" y2="207" stroke="#fff" stroke-width=".5" opacity=".45"/>
<path class="c" d="M-171.5,-116.9 L-167.7,-120.1 L-164.2,-123.6 L-161.9,-126.0 L-159.0,-126.5 L-159.6,-124.2 L-162.5,-122.2 L-157.2,-122.7 L-152.6,-121.3 L-147.9,-121.3 L-143.2,-121.9 L-140.3,-120.1 L-138.6,-116.0 L-136.8,-117.8 L-133.9,-119.0 L-129.2,-117.8 L-124.6,-116.0 L-122.2,-117.8 L-119.9,-119.0 L-115.2,-119.5 L-110.5,-119.0 L-105.9,-119.2 L-101.2,-118.7 L-99.5,-116.6 L-98.3,-119.5 L-94.2,-121.3 L-89.5,-123.6 L-84.9,-124.6 L-80.2,-125.4 L-77.9,-127.1 L-79.0,-130.0 L-76.9,-134.1 L-74.4,-138.2 L-71.4,-140.0 L-69.1,-143.5 L-68.5,-148.1 L-67.4,-152.8 L-65.6,-157.5 L-63.3,-162.1 L-60.4,-165.6 L-58.6,-167.4 M-72.6,-138.8 L-70.3,-137.0 L-69.5,-131.8 L-70.9,-127.1 L-73.2,-126.2 L-73.4,-130.0 L-72.3,-133.5 L-73.2,-135.9Z M-74.4,-153.4 L-71.8,-152.2 L-72.6,-148.1 L-73.8,-143.5 L-76.1,-144.6 L-76.9,-147.5 L-75.5,-150.5Z M-148.5,-129.2 L-143.2,-129.9 L-136.2,-127.7 L-134.5,-125.4 L-137.4,-123.0 L-139.7,-125.4 L-144.4,-127.1 L-147.3,-127.7Z M-135.1,-121.3 L-131.0,-121.3 L-126.9,-119.0 L-128.1,-116.6 L-131.6,-118.4Z M-124.0,-121.9 L-119.9,-121.3 L-115.2,-116.6 L-112.9,-113.1 L-115.2,-113.1 L-118.7,-116.0 L-121.6,-114.9 L-124.0,-115.4 L-121.6,-118.4Z M-122.2,-120.1 L-116.4,-114.9 M-169.5,-118.4 L-165.4,-123.0 L-161.9,-125.7 M-68.6,-154.0 L-66.3,-158.6 L-63.3,-162.7 L-59.3,-166.8 L-54.6,-172.1 L-49.9,-176.1 L-47.6,-176.4 L-48.2,-174.4 L-52.3,-169.1 L-56.9,-164.5 L-60.4,-160.4 L-62.2,-156.3 L-62.8,-152.8 L-61.0,-148.1 L-58.1,-149.9 L-54.6,-149.3 L-51.1,-150.5 L-48.8,-148.7 L-46.4,-146.4 L-43.5,-148.1 L-40.6,-146.4 L-38.3,-143.5 L-35.3,-140.0 L-35.9,-134.1 L-37.7,-130.6 L-41.2,-129.5 L-43.5,-126.5 L-42.3,-123.0 L-40.6,-120.7 L-37.7,-123.0 L-33.6,-124.2 L-29.5,-123.6 L-26.6,-120.7 L-28.3,-117.2 L-31.2,-114.3 L-35.3,-114.3 L-37.1,-112.5 L-35.3,-109.6 L-31.2,-108.4 L-27.7,-106.1 L-25.6,-103.8 L-28.9,-101.4 L-30.7,-97.9 L-31.2,-93.3 L-33.6,-90.4 L-37.1,-86.9 L-40.6,-85.7 L-45.3,-85.1 L-49.9,-83.3 L-55.8,-81.0 L-61.6,-78.7 L-68.6,-76.9 M-51.1,-175.6 L-55.8,-169.7 L-59.8,-164.5 M-44.1,-182.0 L-41.2,-184.9 L-37.1,-188.4 L-35.6,-188.4 L-37.1,-184.3 L-40.0,-180.8 L-42.9,-179.4Z M-42.3,-181.4 L-37.7,-186.7 M-20.2,-193.1 L-17.8,-195.1 L-17.2,-194.2 L-19.6,-191.9Z M-13.2,-197.7 L-10.2,-196.0 M-12.8,-196.9 L-10.5,-196.9 M-7.9,-198.3 L-5.6,-196.0 M-7.3,-197.4 L-5.8,-197.2 M21.9,-190.7 L25.4,-188.4 L23.6,-190.2 L24.8,-189.2 M41.1,-176.7 L44.0,-172.1 M-26.6,-133.5 L-23.7,-134.1 L-19.0,-133.5 L-19.0,-131.8 L-21.9,-131.2 L-25.4,-131.8Z M-26.0,-132.7 L-19.6,-132.7 M-38.5,-148.1 L-35.3,-149.3 L-33.0,-148.1 L-34.7,-146.0 L-37.7,-146.0Z M-4.4,-94.4 L-1.5,-96.2 L2.0,-96.2 L1.4,-93.3 L-1.5,-92.1 L-3.8,-92.7Z M-21.3,-119.5 L-19.6,-122.5 L-17.2,-127.1 L-16.1,-129.5 L-13.2,-128.3 L-10.2,-126.0 L-7.3,-123.6 L-3.8,-123.6 L-2.1,-120.1 L-0.9,-121.3 L-1.1,-124.8 L1.4,-126.5 L5.5,-127.1 L4.4,-130.0 L2.6,-133.0 L1.4,-137.6 L2.6,-140.0 L6.1,-140.0 L10.8,-142.3 L15.4,-144.6 L20.1,-147.5 L24.2,-149.9 L25.9,-150.5 L27.1,-148.1 L30.6,-147.0 L34.1,-148.1 L37.0,-149.3 L38.8,-147.0 L42.3,-148.7 L45.2,-151.6 L48.1,-154.0 L50.5,-156.3 L48.1,-158.6 L49.3,-162.1 L51.6,-166.8 L54.5,-167.4 L55.1,-171.5 L58.0,-173.8 L61.0,-172.6 L64.5,-176.7 L67.4,-178.5 L71.5,-180.8 L75.6,-184.3 L79.6,-186.1 L80.2,-183.2 L77.9,-175.0 L75.6,-166.8 L73.2,-161.0 L70.3,-156.9 L65.6,-154.0 L63.3,-152.2 L58.6,-151.6 L54.0,-149.3 L49.3,-146.4 L44.6,-143.5 L40.5,-140.5 L38.2,-136.5 L37.0,-133.5 L39.4,-133.0 L41.7,-136.5 L45.2,-138.8 L49.3,-140.5 L50.5,-138.8 L48.7,-135.3 L51.6,-133.5 L56.3,-133.0 L59.8,-135.3 L64.5,-137.6 L66.8,-141.7 L69.1,-142.3 L71.5,-140.5 L74.4,-139.4 L76.1,-136.5 L79.1,-134.1 L81.4,-133.5 M42.3,-152.8 L46.4,-154.0 M-21.3,-119.5 L-20.2,-117.2 L-17.2,-115.4 L-13.7,-115.4 L-10.8,-113.7 L-7.9,-110.8 L-4.4,-107.9 L-0.9,-104.9 L2.6,-103.2 L7.3,-101.4 L11.9,-100.3 L16.0,-99.7 L16.6,-103.8 L18.4,-104.9 L20.1,-103.2 L20.7,-100.3 L24.8,-99.7 L29.5,-97.9 L33.5,-96.2 L34.7,-93.3 L34.1,-89.8 L37.0,-87.4 L41.1,-85.7 L44.6,-84.5 L45.2,-80.4 L47.0,-77.5 L48.1,-73.4 L51.6,-69.9 L54.5,-67.6 L57.5,-68.8 L59.2,-71.1 L62.1,-68.8 L65.6,-65.8 L69.1,-63.5 M19.2,-101.4 L20.3,-98.5 M71.4,-182.6 L76.1,-184.9 L80.2,-186.1 L79.6,-182.0 L78.4,-175.0 L76.7,-166.8 L74.3,-161.0 L71.4,-157.5 M82.5,-186.1 L87.2,-188.4 M71.4,-140.5 L74.9,-140.0 L76.1,-137.0 L78.4,-134.1 L81.9,-133.0 L85.4,-131.2 L88.9,-128.3 L92.4,-125.4 L96.5,-124.2 L101.7,-125.4 L106.4,-126.5 L111.1,-127.1 L115.8,-128.3 L120.4,-128.9 L124.5,-128.3 L127.4,-127.4 L128.0,-130.0 L126.3,-133.0 L128.0,-136.5 L126.3,-138.8 L123.3,-140.0 L121.0,-141.1 L119.3,-143.5 L118.7,-145.8 L118.1,-147.5 L119.8,-149.9 L122.2,-152.8 L125.1,-155.1 L128.6,-157.5 L131.2,-159.6 M121.4,-167.0 L119.5,-161.6 L116.9,-156.3 L113.7,-151.1 L111.4,-146.4 L112.8,-145.6 L115.2,-148.7 L118.1,-153.4 L121.0,-158.6 L122.8,-162.7 L123.9,-165.4 M111.1,-146.7 L112.5,-145.2 M119.8,-134.1 L122.8,-131.8 L120.4,-132.4 L122.2,-133.5 M124.5,-137.6 L128.0,-136.7 L126.8,-135.1 L124.9,-135.5Z M-203.3,-30.3 L-199.3,-33.2 L-194.6,-35.0 L-189.9,-36.1 L-186.4,-36.7 L-185.8,-34.4 L-189.9,-32.6 L-194.6,-30.9 L-199.3,-28.6 L-202.8,-27.4Z M-203.3,-25.1 L-199.3,-26.8 L-193.4,-28.6 L-187.6,-29.7 L-184.1,-29.1 L-184.1,-26.2 L-187.6,-25.1 L-193.4,-23.9 L-198.1,-22.1 L-202.2,-22.7Z M-193.4,-34.4 L-187.0,-35.9 M-192.8,-33.6 L-186.4,-35.2 M-168.3,-39.1 L-164.8,-37.9 L-160.7,-36.1 L-158.4,-33.8 L-161.3,-33.2 L-164.8,-35.6 L-167.7,-37.3Z M-167.2,-38.1 L-159.6,-34.0 M-149.1,-57.7 L-146.7,-56.0 L-145.0,-51.9 L-146.7,-49.0 L-149.1,-47.2 L-149.9,-50.7 L-149.7,-54.8Z M-133.9,-64.2 L-131.6,-66.5 L-129.2,-63.0 L-126.3,-60.1 L-128.1,-57.7 L-130.4,-56.0 L-128.6,-51.9 L-129.2,-47.2 L-131.0,-45.5 L-132.1,-50.2 L-132.7,-54.8 L-133.9,-58.9 L-135.1,-61.8Z M-109.4,-65.3 L-105.9,-68.2 L-104.1,-66.5 L-101.8,-68.2 L-98.9,-70.0 L-98.3,-66.5 L-99.5,-61.8 L-98.9,-58.3 L-101.8,-56.0 L-104.7,-55.4 L-107.0,-58.3 L-108.2,-61.8Z M-105.9,-66.5 L-104.1,-59.5 L-102.4,-65.3 L-101.2,-58.3 M-118.7,8.2 L-122.2,7.0 L-126.9,4.7 L-131.0,2.4 L-133.9,-0.5 L-136.8,-3.5 L-139.1,-6.4 L-142.1,-8.7 L-145.6,-11.1 L-150.2,-12.8 L-154.3,-13.4 L-158.4,-12.8 L-160.7,-9.9 L-164.2,-8.1 L-168.3,-7.0 L-167.7,-3.5 L-169.5,1.2 L-171.8,4.7 L-174.7,8.2 L-176.5,12.3 L-177.7,17.0 L-178.3,21.0 L-178.8,24.0 L-182.3,24.6 L-186.4,25.7 L-189.9,26.9 L-193.4,29.8 L-197.5,33.9 L-198.1,35.6 L-194.6,38.0 L-191.1,39.1 L-187.0,37.4 L-182.9,35.1 L-178.8,33.0 L-177.1,34.5 L-173.6,36.8 L-170.1,39.1 L-166.6,38.6 L-161.9,36.2 L-157.8,33.9 L-154.9,31.6 L-151.4,32.1 L-147.9,32.7 L-143.2,30.4 L-138.6,29.8 L-136.2,32.1 L-135.6,36.2 L-134.5,39.1 L-136.2,43.2 L-138.6,45.6 L-138.0,49.6 L-140.3,52.0 L-143.8,53.7 L-147.3,55.5 L-149.1,58.4 L-149.7,61.9 L-148.5,64.8 L-145.0,66.0 L-140.9,64.2 L-136.8,64.2 L-138.6,68.3 L-140.9,72.4 L-143.2,76.5 M-135.1,10.0 L-131.6,8.2 L-126.9,7.0 L-122.2,7.0 L-118.1,8.2 L-121.1,10.5 L-124.6,14.0 L-128.1,18.7 L-131.0,21.0 L-132.7,19.9 L-131.0,16.4 L-131.6,13.5 L-133.9,12.3Z M-140.3,15.2 L-136.8,19.9 L-139.1,16.4 L-137.4,18.7 M-142.1,25.1 L-137.4,25.7 L-141.5,26.0 L-138.0,24.9 M-172.4,30.4 L-168.3,32.7 L-171.8,31.6 L-168.9,31.6 L-171.2,33.0 M-189.9,28.1 L-187.8,30.2 L-189.3,29.8 M-84.4,-58.5 L-85.5,-56.2 L-86.7,-53.4 L-89.0,-51.9 L-91.4,-50.3 L-93.7,-48.8 L-95.3,-46.8 L-98.0,-45.7 L-100.3,-47.6 L-102.3,-46.0 L-103.4,-44.1 L-103.8,-41.0 L-104.2,-38.3 L-105.8,-36.3 L-107.1,-35.2 L-105.4,-34.2 L-103.4,-35.2 L-102.3,-32.8 L-102.1,-28.5 L-104.2,-27.6 L-106.9,-26.2 L-109.3,-24.3 L-110.8,-21.5 L-111.6,-18.4 L-110.4,-16.5 L-108.1,-15.3 L-105.8,-16.1 L-104.2,-17.3 L-102.6,-16.1 L-101.1,-14.1 L-103.0,-12.6 L-105.4,-11.8 L-107.7,-12.6 L-110.0,-13.0 L-112.5,-12.0 L-110.8,-10.3 L-108.5,-8.7 L-105.8,-7.5 L-103.4,-7.9 L-101.9,-9.5 L-99.5,-10.6 L-96.8,-11.0 L-94.5,-9.9 L-92.1,-7.9 L-93.7,-6.7 L-96.0,-5.6 L-98.4,-4.8 L-100.3,-4.0 L-101.9,-2.5 L-104.2,-1.3 L-106.5,-0.5 L-107.7,0.6 L-106.1,1.8 L-104.2,1.4 L-105.8,3.0 L-108.5,3.8 L-111.6,4.1 L-114.3,5.3 L-112.8,7.3 L-110.4,8.0 L-107.7,8.4 L-105.0,8.8 L-102.6,9.6 L-101.1,11.5 L-99.9,13.9 L-100.3,16.2 L-99.1,18.2 L-97.6,20.1 L-98.8,22.0 L-100.3,24.0 L-102.3,25.9 L-103.8,28.3 L-105.4,30.6 L-107.3,32.9 L-109.7,34.1 L-112.4,33.3 L-114.7,32.2 L-117.0,32.6 L-118.6,33.3 M-118.6,14.3 L-115.5,16.2 L-112.4,16.6 L-110.8,14.7 L-107.7,14.3 L-104.6,14.7 L-101.9,13.1 L-99.9,13.9 M-112.0,27.1 L-110.8,25.2 L-108.5,24.8 L-106.5,25.9 L-106.9,28.3 L-108.9,29.3 L-110.8,29.0Z M-99.9,-42.9 L-99.1,-39.4 L-99.9,-35.9 L-101.3,-32.4 L-101.9,-28.5 L-102.6,-25.0 L-101.9,-21.9 L-99.9,-20.4 L-98.0,-18.8 L-96.0,-21.1 L-93.7,-23.5 L-90.6,-24.3 L-87.5,-24.3 L-84.4,-23.5 L-82.0,-21.9 L-80.1,-20.4 L-78.5,-21.9 L-78.9,-24.3 L-81.2,-25.8 L-82.4,-27.0 L-80.9,-28.5 L-79.7,-31.3 L-78.9,-33.6 L-77.0,-35.2 L-76.2,-37.5 L-77.0,-40.6 L-78.5,-43.3 L-80.5,-44.9 L-82.8,-44.9 L-85.1,-44.1 L-87.5,-42.9 L-88.6,-40.6 L-89.8,-38.3 L-91.0,-37.9 L-91.4,-40.2 L-90.2,-42.9 L-89.4,-44.9 L-91.4,-45.7 L-93.7,-44.5 L-96.0,-42.5 L-98.4,-42.9Z M-80.1,-51.5 L-77.4,-52.3 L-73.5,-51.9 L-71.1,-49.6 L-68.8,-46.8 L-65.7,-44.9 L-65.3,-42.2 L-66.8,-39.4 L-69.6,-37.5 L-72.7,-36.3 L-75.4,-35.5 L-76.6,-39.0 L-77.7,-42.2 L-79.3,-45.3 L-80.1,-48.4Z M-78.1,-44.1 L-76.2,-35.9 M-92.1,-14.1 L-90.6,-16.1 L-87.9,-18.0 L-85.1,-18.8 L-82.8,-18.4 L-83.2,-16.1 L-81.2,-15.3 L-78.9,-14.9 L-78.1,-12.6 L-79.7,-10.6 L-82.0,-11.8 L-84.0,-11.4 L-85.9,-10.3 L-88.6,-10.6 L-91.0,-11.8Z M-86.3,-6.4 L-84.4,-7.5 L-81.2,-7.9 L-79.3,-6.7 L-78.9,-4.0 L-80.1,-0.9 L-82.4,-0.5 L-84.7,-2.1 L-85.9,-4.0Z M-71.5,-31.3 L-68.8,-33.6 L-64.9,-35.5 L-61.8,-36.7 L-58.7,-38.7 L-56.3,-38.3 L-55.2,-35.2 L-54.4,-31.3 L-55.6,-29.3 L-57.9,-29.7 L-60.2,-28.5 L-62.6,-27.8 L-64.1,-28.9 L-65.7,-27.4 L-68.0,-27.8 L-70.0,-26.6 L-71.1,-28.1Z M-64.9,-35.2 L-62.6,-32.0 L-60.2,-35.2 L-59.5,-32.4 L-61.4,-31.3 M-71.1,-25.8 L-68.0,-25.0 L-64.9,-25.8 L-62.6,-24.3 L-64.1,-21.9 L-67.2,-21.1 L-70.4,-20.4 L-71.9,-18.8 L-71.5,-23.5Z M-58.3,-24.3 L-56.3,-25.4 L-53.6,-24.6 L-52.8,-21.9 L-54.4,-19.6 L-56.7,-20.0 L-58.3,-21.9Z M-56.7,-23.5 L-54.8,-21.1 M-73.9,-11.8 L-72.7,-13.8 L-69.6,-14.5 L-66.5,-13.8 L-64.9,-12.2 L-66.5,-10.3 L-69.6,-9.5 L-72.3,-9.9Z M-71.9,-17.3 L-68.8,-18.0 L-64.9,-17.3 M-62.6,-16.5 L-58.7,-15.7 L-62.2,-15.9 L-59.1,-16.3 M-59.1,-11.0 L-57.1,-13.4 L-54.8,-14.9 L-51.7,-15.3 L-51.3,-13.8 L-53.2,-11.8 L-55.2,-9.9 L-57.5,-8.7Z M-50.7,-7.8 L-48.3,-7.1 M-76.2,-6.4 L-74.6,-7.9 L-72.3,-7.5 L-72.3,-5.6 L-74.2,-4.8Z M-68.4,-4.8 L-66.8,-6.7 L-64.5,-6.4 L-65.7,-4.0 L-67.2,-2.5Z M-63.0,-4.0 L-61.4,-6.7 L-59.5,-7.9 L-59.8,-5.2 L-61.4,-2.9Z M-59.1,-0.9 L-57.1,-2.9 L-54.0,-4.0 L-50.9,-4.4 L-47.8,-4.0 L-45.8,-3.1 L-47.4,-1.3 L-49.3,0.6 L-51.7,1.8 L-54.0,2.6 L-56.3,2.2 L-58.3,1.0Z M-77.7,0.6 L-77.0,-2.5 L-75.0,-3.6 L-71.9,-4.0 L-69.6,-2.9 L-68.8,-0.5 L-70.7,0.6 L-71.9,3.0 L-71.1,6.1 L-71.5,9.2 L-71.9,11.9 L-73.9,12.7 L-75.8,11.9 L-76.2,9.2 L-77.4,6.9 L-77.7,3.8Z M-70.0,0.6 L-70.7,3.8 L-69.7,6.5 M-68.0,1.4 L-64.9,1.8 L-62.6,3.0 L-60.6,4.1 L-58.3,3.0 L-55.6,3.8 L-52.8,4.1 L-50.1,3.0 L-48.2,0.6 L-46.6,-0.9 L-44.3,-2.5 L-41.6,-0.5 L-38.4,3.0 L-35.7,6.5 L-33.4,10.4 L-32.4,14.7 L-33.4,17.8 L-36.1,19.3 L-39.2,18.9 L-41.9,17.4 L-44.7,17.8 L-45.8,20.1 L-47.4,21.7 L-49.7,21.3 L-51.7,19.3 L-54.0,18.2 L-56.3,17.4 L-58.7,15.4 L-61.0,13.5 L-63.7,12.7 L-66.1,11.5 L-67.6,9.2 L-67.2,6.1 L-68.2,3.8Z M-47.4,-0.5 L-46.6,3.0 L-45.4,6.9 L-44.3,10.0 M-48.2,-0.1 L-47.2,3.8 L-45.8,7.6 M-56.3,17.4 L-59.1,20.1 L-63.0,23.2 L-64.9,27.1 L-63.7,31.0 L-62.2,34.9 L-61.8,38.8 L-63.3,41.5 M-34.2,18.2 L-32.2,20.9 L-30.7,24.0 L-28.3,25.2 L-25.2,24.4 L-22.1,24.0 L-18.6,24.4 M-100.3,12.3 L-99.9,9.2 L-99.1,6.1 L-96.4,3.4 L-92.9,1.0 L-89.0,-0.1 L-85.1,0.6 L-82.0,2.6 L-80.1,5.7 L-79.3,9.2 L-79.7,13.1 L-79.3,16.2 L-80.5,18.9 L-82.4,20.1 L-84.0,22.4 L-85.5,24.8 L-87.1,27.1 L-87.9,30.2 L-88.6,33.3 L-90.2,36.1 L-92.5,38.0 L-95.6,39.2 L-98.4,40.3 L-100.3,41.5 M-91.8,7.6 L-89.0,5.7 L-85.9,4.9 L-83.2,5.9 L-81.2,7.6 M-91.4,7.0 L-88.6,5.2 L-85.8,4.4 L-83.0,5.3 M-87.9,14.3 L-85.1,12.7 L-82.0,12.9 M-85.1,16.2 L-84.0,14.3 L-81.6,14.3 L-80.5,16.2 L-81.2,18.5 L-83.2,19.3 L-84.7,18.2Z M-119.1,32.4 L-120.3,30.5 L-121.1,28.1 L-122.3,26.2 L-124.2,25.4 L-126.1,25.8 L-126.9,27.4 L-126.1,29.3 L-125.4,31.6 L-125.8,34.7 L-126.1,37.9 L-126.9,41.0 L-128.1,43.3 L-129.3,46.4 L-130.0,49.5 L-130.8,52.6 L-130.8,55.4 L-130.0,57.3 L-128.1,56.5 L-126.9,53.4 L-125.8,50.3 L-124.2,48.0 L-123.0,48.8 L-123.4,51.5 L-124.2,54.2 L-124.6,56.9 L-123.4,58.9 L-121.1,58.5 L-118.8,56.5 L-116.8,54.2 L-115.3,51.5 L-113.3,48.8 L-111.4,46.8 L-109.4,46.4 L-110.2,48.8 L-111.8,51.1 L-112.9,53.4 L-111.8,55.0 L-109.4,56.1 L-106.7,56.5 L-104.0,56.1 L-102.8,54.2 L-102.0,51.1 L-101.2,48.0 L-100.9,44.9 L-100.1,42.5 L-98.9,41.0 M-118.8,8.3 L-119.5,11.4 L-118.6,14.3 M-88.0,13.7 L-85.7,13.0 L-83.0,13.0 L-80.6,14.1 L-80.2,16.9 L-81.4,18.8 L-83.3,19.2 L-84.9,17.6 L-85.3,15.3Z M-84.9,14.9 L-84.0,18.0 M-63.5,40.6 L-65.4,42.9 L-67.4,45.3 L-69.7,47.6 L-72.5,49.5 L-75.2,51.1 L-76.3,53.0 L-74.8,54.6 L-73.6,55.8 L-75.2,57.3 L-77.1,56.9 L-79.5,56.5 L-81.8,57.7 L-83.7,59.3 L-83.3,61.6 L-81.0,62.4 L-79.1,63.2 L-80.2,65.1 L-83.0,67.0 L-84.9,65.9 L-87.6,65.5 L-90.4,66.7 L-93.1,68.6 L-95.4,70.5 L-97.4,72.5 L-98.1,75.2 L-99.7,77.9 L-101.2,80.7 L-103.2,83.4 L-104.7,86.5 M-76.7,58.5 L-74.4,58.1 L-74.0,60.0 L-76.0,61.2Z M-32.4,14.6 L-31.5,18.7 L-30.1,24.0 L-26.6,25.1 L-23.1,24.0 L-19.6,25.1 L-16.7,28.1 L-14.3,31.6 L-13.7,35.1 L-16.1,36.8 L-18.4,36.2 L-16.7,38.6 L-13.2,39.1 L-9.7,40.3 L-9.1,43.2 L-10.8,46.1 L-13.2,49.1 L-15.5,52.0 L-17.8,54.9 L-20.2,58.4 L-21.3,61.9 L-23.1,65.4 L-24.8,68.9 L-26.0,72.4 L-28.3,76.5 M-18.4,35.1 L-14.3,37.4 L-17.2,39.1 L-13.7,36.2 L-17.8,37.4 M43.5,-4.0 L46.4,-6.4 L49.9,-8.1 L51.6,-11.6 L53.4,-14.6 L56.9,-15.1 L59.2,-12.8 L59.8,-9.9 L57.5,-8.1 L55.1,-4.6 L52.8,-1.7 L49.3,-0.5 L46.4,-1.7Z M52.2,-11.6 L56.3,-9.5 M35.9,-65.3 L38.2,-66.5 L40.5,-63.6 L41.1,-60.1 L44.0,-60.7 L47.0,-59.5 L49.9,-57.7 L51.0,-54.8 L48.7,-51.9 L45.8,-51.9 L42.9,-54.2 L41.7,-57.2 L39.4,-60.1 L37.0,-62.4Z M49.3,-66.5 L51.6,-67.7 L52.8,-64.7 L51.0,-60.7 L49.3,-63.0Z M48.1,-73.5 L50.5,-71.2 L54.0,-69.4 L56.9,-70.6 L59.2,-71.7 L62.1,-69.4 L65.6,-66.5 L67.4,-63.0 L70.3,-64.7 L73.2,-62.4 L72.1,-58.9 L69.1,-57.2 L66.8,-56.0 L65.6,-53.1 L66.8,-49.6 L68.6,-46.7 L71.5,-45.5 L72.6,-42.0 L73.8,-38.5 L74.4,-34.4 L75.6,-31.5 L73.2,-29.7 L69.7,-29.7 L65.6,-28.6 L62.7,-25.6 L61.6,-21.6 L62.1,-18.6 L59.8,-16.3 L61.0,-14.0 L64.5,-13.4 L66.8,-10.5 L68.6,-6.4 L70.3,-2.3 L73.2,1.2 L76.1,3.5 L79.6,4.7 L80.8,10.5 L81.4,14.0 M75.6,-31.5 L78.5,-28.0 L81.4,-26.2 M72.1,-29.4 L75.0,-27.4 M33.0,30.4 L35.3,29.2 L37.6,31.0 L36.5,33.3 L33.5,33.3Z M34.7,22.2 L37.0,21.0 L38.2,24.0 L36.5,25.7Z M38.8,18.7 L41.1,18.1 L42.3,21.6 L41.1,25.1 L39.4,26.9 L38.2,24.6Z M34.1,31.6 L37.0,31.6 M39.4,19.9 L40.5,25.7 M35.6,22.8 L37.0,24.6 M81.4,51.4 L79.1,52.0 L75.6,51.4 L72.1,48.5 L69.1,44.4 L66.8,39.7 L65.1,35.1 L63.9,30.4 L63.9,25.7 L62.7,23.4 L60.4,24.6 L59.8,26.9 L61.0,31.6 L62.1,37.4 L64.5,42.6 L66.8,47.3 L69.1,51.4 L71.5,54.9 L74.4,56.7 L77.9,56.1 L81.4,54.9 M9.6,50.2 L12.5,47.9 L15.4,45.6 L18.9,43.8 L22.4,43.2 L23.6,46.1 L21.9,49.1 L19.5,50.2 L20.7,53.1 L23.6,54.3 L25.9,56.1 L24.8,59.0 L22.4,58.4 L20.7,56.1 L19.5,58.4 L20.1,61.9 L18.9,64.8 L16.6,62.5 L14.3,59.0 L11.9,55.5 L10.2,52.6Z M15.4,46.7 L18.4,52.0 L17.8,54.9 M164.8,-58.9 L167.1,-60.7 L171.8,-61.8 L176.5,-61.8 L181.1,-60.1 L185.2,-57.2 L188.7,-54.8 L191.6,-53.1 L193.7,-50.2 L193.4,-46.7 L191.6,-46.1 L190.5,-49.0 L188.1,-51.9 L184.6,-54.2 L180.5,-56.6 L176.5,-58.3 L171.8,-58.9 L167.7,-58.3 L165.4,-57.7Z M71.4,-44.3 L73.2,-39.6 L72.6,-35.0 L74.9,-29.7 L78.4,-26.2 L81.3,-23.9 L77.2,-24.5 L73.7,-27.4 M71.4,-3.5 L73.7,-1.1 L77.2,2.4 L80.7,4.1 L81.3,8.2 L81.9,12.3 L84.8,14.0 L87.7,12.9 L90.1,12.3 L90.7,14.6 L88.3,17.0 L86.6,19.3 L88.9,21.0 L91.8,19.9 L93.6,19.3 L92.4,22.2 L90.1,24.0 L87.2,23.4 L83.7,21.6 L81.9,23.4 L85.4,25.1 L88.9,26.3 L92.4,27.5 L96.5,29.2 L100.0,28.1 L102.3,26.3 L104.7,28.6 L107.6,29.8 L109.9,32.1 L112.3,35.1 L114.0,38.0 L112.3,39.7 L110.5,38.6 L109.3,35.1 L107.0,32.1 L103.5,31.0 L99.4,30.4 L95.3,29.8 L91.2,28.6 L87.7,27.5 L83.7,26.9 L80.2,26.3 L77.8,27.5 L79.6,29.8 L83.1,31.6 L86.0,33.9 L87.7,36.8 L91.2,38.0 L94.7,38.6 L98.8,38.6 L101.7,39.7 L100.0,42.1 L97.1,43.8 L94.2,45.6 L90.7,47.3 L87.2,49.1 L83.7,50.8 L85.4,52.0 L88.9,51.4 L92.4,52.6 L93.6,54.9 L91.2,56.1 L90.1,59.0 L90.7,61.9 L87.7,63.1 L86.0,66.0 L85.4,70.1 L86.0,73.6 L84.8,76.5 M71.4,47.9 L76.1,50.8 L81.3,52.0 L76.1,54.9 L71.4,56.1 M77.5,67.7 L79.0,66.2 L81.0,67.2 L81.3,69.5 L79.6,70.7 L77.8,69.8Z M74.9,75.3 L78.4,76.5 M-138.0,66.5 L-140.9,70.0 L-143.8,74.1 L-146.2,77.6 L-149.1,79.9 L-152.0,81.1 L-153.7,84.6 L-154.7,88.7 L-153.7,92.8 L-154.3,96.3 L-156.7,97.4 L-156.1,100.9 L-157.2,104.4 L-159.0,107.4 L-161.9,109.7 L-164.2,111.4 L-166.0,109.1 L-168.9,106.2 L-172.4,104.1 L-176.5,103.6 L-178.8,102.9 M-174.7,110.9 L-168.9,109.7 L-165.4,110.6 M-173.6,113.0 L-167.7,112.3 L-163.7,112.6 M-191.1,81.1 L-186.4,88.7 L-182.9,95.7 L-180.6,100.4 L-178.8,102.9 M-90.7,66.5 L-93.6,68.8 L-96.5,71.8 L-98.9,75.8 L-100.6,79.3 L-103.0,82.8 L-105.3,86.9 L-107.6,91.0 L-109.4,95.1 L-110.0,98.6 L-108.8,102.1 L-107.6,105.6 L-107.0,109.1 L-105.3,111.4 L-103.0,110.9 L-100.0,109.1 L-97.1,107.4 L-94.8,105.6 L-92.5,103.3 L-90.1,102.1 L-87.2,101.5 L-85.5,99.8 L-84.3,97.4 L-82.5,95.7 L-80.2,95.1 L-77.9,95.7 L-74.9,96.8 L-71.4,97.8 L-67.9,97.4 L-64.4,96.3 L-61.5,95.1 L-58.6,93.9 M-68.6,97.4 L-65.1,95.7 L-61.6,94.3 L-58.1,93.6 L-54.6,94.3 L-51.1,94.5 L-47.6,93.6 L-44.1,92.4 L-40.6,90.4 L-42.3,88.7 L-44.1,88.1 L-41.2,86.3 L-39.4,84.6 L-37.7,85.8 L-38.8,82.8 L-36.5,80.5 L-34.2,81.1 L-33.0,78.2 L-30.7,77.0 L-28.9,74.7 L-27.2,72.3 L-25.4,71.8 L-24.2,68.8 L-23.1,66.5 M-15.5,93.6 L-12.8,94.9 M-15.1,94.5 L-13.2,93.9 M-52.3,115.5 L-51.1,112.6 L-48.8,110.3 L-45.8,109.7 L-44.7,112.0 L-41.8,113.2 L-38.3,113.8 L-34.2,113.8 L-31.2,115.5 L-29.5,118.4 L-29.5,121.4 L-31.2,123.7 L-34.2,125.4 L-37.7,126.6 L-41.2,127.2 L-44.7,127.2 L-47.0,125.4 L-48.8,123.1 L-51.1,121.9 L-49.9,119.6 L-51.7,117.9Z M-18.4,139.5 L-14.9,140.6 L-17.8,140.6 L-15.5,139.5 M-4.2,150.0 L-3.0,153.5 L-3.7,151.7 M-9.7,156.6 L-7.3,158.1 M-12.6,159.9 L-9.1,159.9 L-7.9,162.2 L-10.2,164.6 L-6.7,165.1 L-5.0,166.9 L-6.7,170.4 L-7.9,172.7 L-6.2,175.6 L-4.4,179.1 L-2.6,183.2 L-0.9,186.7 L0.3,190.2 L2.6,192.0 L4.9,193.1 L6.1,195.5 L4.9,198.4 L3.2,200.7 L1.4,202.5 L-2.1,203.1 L-5.6,202.8 L-9.1,203.1 L-12.6,204.0 L-14.9,204.8 L-17.2,205.4 L-20.2,205.6 M-12.6,159.9 L-14.9,161.6 L-16.7,164.6 L-15.5,167.5 L-17.2,170.4 L-16.1,173.3 L-14.3,175.6 L-15.5,178.0 L-13.7,180.3 L-10.8,180.9 L-9.1,183.2 L-9.7,185.6 L-12.0,186.7 L-14.3,187.9 L-13.7,190.2 L-15.5,192.6 L-17.2,194.9 L-16.7,197.2 L-13.7,197.8 L-10.8,197.8 L-9.1,199.0 L-11.4,200.7 L-14.3,201.9 L-16.7,203.7 L-19.0,205.4 M-20.7,161.0 L-18.4,159.3 L-17.2,159.9 L-19.0,162.8 L-20.2,164.6 M-19.8,161.6 L-17.8,159.9 M-35.3,192.0 L-33.6,188.5 L-31.8,185.0 L-31.2,181.5 L-28.3,180.3 L-26.0,178.0 L-23.1,176.8 L-20.2,177.4 L-18.4,179.7 L-19.6,182.6 L-20.2,186.1 L-19.6,189.6 L-20.7,192.6 L-23.7,193.7 L-27.2,194.3 L-30.1,195.5 L-33.0,195.5 L-34.7,194.3Z M5.5,206.0 L6.1,203.1 L9.0,200.7 L11.9,198.4 L13.7,196.1 L14.9,193.1 L16.6,190.2 L19.5,188.5 L22.4,186.7 L25.4,185.0 L27.7,182.6 L28.3,179.1 L27.1,175.6 L24.8,172.7 L24.2,169.2 L25.4,166.3 L27.7,164.0 L30.0,162.8 L31.2,165.7 L30.6,169.2 L31.8,172.1 L30.6,175.1 L32.4,177.4 L34.1,180.3 L36.5,182.1 L39.4,180.3 L41.7,178.6 L44.0,179.1 L46.4,178.6 L49.3,176.8 L52.2,175.1 L54.5,173.3 L56.9,172.1 L59.2,173.3 L61.6,171.6 L62.7,168.6 L63.3,165.1 L62.1,161.6 L61.6,158.1 L62.1,154.6 L64.5,153.5 L67.4,153.5 L69.1,151.1 L68.6,148.2 L66.2,147.0 L63.9,147.6 L61.6,147.0 L62.7,143.5 L65.6,140.6 L69.1,137.7 L72.6,135.4 L77.3,133.3 L78.2,132.1 L74.4,130.7 L70.9,131.3 L67.4,133.6 L64.5,136.5 L61.0,139.5 L56.9,138.9 L54.0,136.5 L52.8,133.0 L51.6,128.9 L51.0,124.9 L51.6,120.8 L53.4,116.7 L53.4,113.2 L51.0,111.4 L48.1,112.0 L46.4,114.4 L45.8,117.9 L46.4,121.4 L45.2,124.9 L43.5,128.4 L42.3,132.5 L42.9,136.0 L45.2,138.3 L47.5,140.6 L49.3,143.5 L48.7,147.0 L47.0,150.5 L46.4,154.6 L47.0,158.7 L47.5,162.8 L46.4,165.7 L44.0,166.9 L42.9,169.8 L41.1,171.6 L39.4,169.2 L37.0,165.7 L34.7,162.2 L33.0,158.7 L31.2,155.2 L29.5,153.5 L27.1,154.6 L24.8,157.5 L22.4,159.9 L19.5,161.0 L16.6,159.3 L15.4,156.4 L14.9,152.9 L13.7,149.4 L12.5,145.9 L12.5,142.4 L14.3,139.5 L16.6,136.5 L19.5,133.6 L21.9,130.7 L23.6,127.2 L24.8,123.7 L26.5,119.6 L27.7,115.5 L28.0,111.4 L27.7,107.4 L28.3,103.9 L30.0,100.4 L32.0,96.8 L34.1,93.3 L36.5,90.4 L38.8,87.5 L41.7,85.2 L44.6,84.0 L48.1,84.0 L51.6,85.2 L55.1,85.8 L59.8,85.2 L64.5,84.6 L69.1,84.6 L73.2,85.8 L76.7,88.1 L77.3,91.6 L75.6,93.9 L71.5,95.7 L66.8,96.8 L62.7,97.4 L65.6,98.6 L69.1,99.8 L70.9,102.7 L73.2,105.0 L76.7,104.4 L79.6,103.9 L81.4,104.4 M16.4,192.0 L18.4,190.5 L20.1,192.0 L18.7,193.7 L16.8,193.5Z M30.6,173.9 L33.0,171.6 L35.9,171.0 L38.2,173.3 L37.6,176.8 L34.7,178.0 L31.8,176.8Z M33.0,173.3 L35.3,175.6 L33.5,176.2 L35.9,172.7 M75.6,100.4 L78.5,100.9 L81.4,100.4 M51.6,155.2 L53.4,154.0 L54.0,157.5 L52.6,159.9Z M52.8,155.2 L52.8,158.7 M59.8,146.5 L62.1,145.9 L62.7,149.4 L60.4,150.0Z M61.0,147.0 L61.6,149.1 M27.1,101.5 L30.6,100.4 L28.3,105.0 L25.4,107.4 M85.0,66.4 L84.7,69.5 L84.1,72.6 L83.7,75.1 L85.0,76.4 L86.5,77.6 L85.9,80.1 L84.1,81.0 L81.9,80.4 L80.3,79.5 L80.0,77.0 L78.8,75.7 L76.9,76.0 L75.0,77.0 L73.2,77.9 L75.3,78.8 L77.5,80.1 L78.8,82.0 L80.6,82.9 L82.5,83.8 L83.4,85.7 L81.9,86.9 L80.3,88.2 L79.7,90.7 L79.4,93.2 L79.7,95.0 L81.3,96.3 L83.7,97.2 L81.9,98.5 L79.4,99.1 L77.2,99.7 L75.6,100.9 L76.6,102.5 L78.8,101.9 L80.6,102.5 L80.6,104.4 L78.8,105.3 L76.3,105.6 L73.5,105.9 M84.1,50.2 L87.2,49.9 L84.4,50.9 L87.4,50.7 M109.9,36.5 L110.5,38.4 L112.4,39.3 L113.9,38.4 L113.9,36.5 M78.4,115.5 L80.7,113.2 L83.7,113.8 L86.6,116.7 L87.2,119.6 L84.8,120.4 L82.5,118.4 L80.2,117.9Z M74.3,127.2 L76.7,124.3 L80.2,124.3 L82.5,126.6 L81.9,129.5 L79.6,131.3 L76.7,130.7 L74.7,129.5Z M-58.6,-81.6 L-63.9,-79.3 L-70.9,-77.5 L-74.4,-76.9 L-73.2,-73.4 M-73.2,-73.5 L-74.9,-68.8 L-76.7,-64.2 L-80.2,-61.8 L-84.3,-58.9"/>
</g>
<circle r="207.2" fill="none" stroke="#000" stroke-width="1.4"/>
</g>
<g transform="translate(642.6,1077.3)">
<g clip-path="url(#cp)">
<circle r="209.2" fill="#ffebd9"/>
<path fill="#ffcdb4" d="M-169.7,-118.4 L-162.6,-122.1 L-155.1,-124.9 L-145.8,-125.8 L-136.4,-124.9 L-127.1,-124.9 L-121.5,-128.3 L-110.3,-129.6 L-99.1,-130.5 L-87.9,-132.4 L-76.7,-130.1 L-69.2,-126.8 L-63.6,-129.6 L-56.1,-131.8 L-48.6,-131.1 L-41.2,-128.6 L-34.6,-126.4 L-28.1,-127.7 L-20.6,-130.9 L-13.1,-136.1 L-9.4,-143.6 L-10.3,-152.9 L-15.0,-160.4 L-20.6,-167.9 L-26.2,-175.3 L-33.7,-180.9 L-43.0,-185.6 L-50.5,-190.3 L-56.1,-198.7 L-67.6,-239.3 L-46.8,-244.2 L-25.7,-247.3 L-4.3,-248.6 L17.0,-248.1 L38.2,-245.7 L59.2,-241.5 L79.7,-235.5 L99.6,-227.8 L83.2,-190.3 L74.8,-182.8 L67.3,-178.1 L59.8,-172.5 L54.2,-167.9 L50.5,-160.4 L45.8,-152.9 L40.2,-146.4 L37.4,-139.9 L39.3,-134.3 L46.8,-132.4 L56.1,-134.3 L63.6,-137.1 L67.3,-134.3 L72.9,-128.6 L78.5,-124.9 L83.2,-119.3 L86.0,-113.7 L86.0,-106.2 L78.5,-104.4 L72.9,-106.2 L68.3,-102.5 L69.2,-96.9 L74.8,-95.0 L78.5,-91.3 L85.1,-93.2 L84.1,-87.6 L80.4,-83.8 L85.1,-79.2 L86.0,-75.4 L81.3,-74.5 L76.7,-78.2 L71.1,-82.0 L65.4,-79.2 L61.7,-74.5 L59.8,-80.1 L61.7,-87.6 L59.8,-93.2 L54.2,-96.9 L46.8,-96.0 L37.4,-96.9 L30.0,-95.0 L21.6,-91.3 L20.6,-83.8 L15.0,-80.1 L7.5,-77.3 L0.1,-76.4 L-7.4,-79.2 L-14.9,-80.1 L13.0,-79.2 L5.5,-77.3 L-1.9,-79.2 L-9.4,-78.2 L-16.9,-76.4 L-24.4,-77.3 L-31.8,-75.4 L-39.3,-77.3 L-46.8,-76.4 L-54.2,-73.5 L-61.7,-70.7 L-67.3,-67.0 L-71.0,-61.4 L-76.7,-59.5 L-84.1,-57.7 L-91.6,-53.9 L-99.1,-49.3 L-104.7,-44.6 L-114.0,-43.7 L-123.3,-45.5 L-127.1,-50.2 L-130.8,-57.7 L-134.6,-63.3 L-140.2,-68.9 L-143.9,-74.5 L-142.0,-80.1 L-147.6,-77.3 L-157.0,-80.1 L-164.4,-82.0 L-166.3,-89.4 L-171.9,-98.8 L-177.1,-105.3 L-213.7,-127.1 L-210.6,-132.2 L-207.3,-137.3 L-203.9,-142.3Z"/>
<path fill="#ffebd9" d="M-137.4,-96.9 L-130.8,-98.8 L-130.4,-91.3 L-136.8,-90.4Z"/>
<path fill="#ffebd9" d="M16.9,-143.6 L26.2,-146.4 L28.1,-139.9 L21.6,-137.1 L16.0,-138.9Z"/>
<path fill="#ffebd9" d="M-18.6,-162.3 L-13.0,-161.3 L-10.2,-154.8 L-10.2,-143.6 L-14.9,-142.7 L-18.6,-144.5Z"/>
<path fill="#ffebd9" d="M18.8,-114.3 L25.3,-114.6 L25.3,-110.9 L19.7,-111.3Z"/>
<path fill="#ffaa82" d="M-119.6,-101.6C-118.8,-102.7 -113.3,-106.3 -111.2,-107.2C-109.1,-108.0 -104.2,-109.0 -101.9,-109.0C-99.6,-109.1 -93.3,-108.6 -91.6,-107.7C-89.8,-106.9 -88.3,-102.0 -86.9,-101.6C-85.5,-101.1 -81.3,-103.2 -79.5,-104.0C-77.6,-104.8 -72.4,-107.1 -71.0,-108.5C-69.7,-109.8 -68.7,-114.3 -67.7,-115.6C-66.7,-116.8 -64.3,-118.9 -62.6,-119.3C-61.0,-119.7 -55.4,-119.7 -53.3,-119.3C-51.2,-118.9 -46.6,-116.9 -44.9,-115.9C-43.2,-115.0 -39.3,-112.1 -38.4,-110.9C-37.4,-109.7 -36.5,-106.7 -37.1,-105.3C-37.6,-103.9 -42.8,-100.0 -43.0,-98.8C-43.3,-97.6 -39.1,-96.0 -39.3,-95.0C-39.5,-94.0 -43.4,-91.2 -44.9,-90.4C-46.4,-89.5 -50.6,-87.9 -52.4,-87.6C-54.1,-87.2 -57.9,-87.7 -59.8,-87.6C-61.8,-87.4 -67.0,-86.6 -69.2,-86.6C-71.4,-86.6 -76.8,-87.6 -78.5,-87.6C-80.2,-87.5 -83.2,-87.2 -83.7,-86.1C-84.3,-85.0 -82.7,-79.6 -83.2,-78.2C-83.7,-76.9 -87.2,-73.8 -87.9,-74.5C-88.5,-75.1 -88.6,-82.3 -88.8,-83.8C-89.0,-85.3 -88.7,-86.9 -89.7,-87.6C-90.7,-88.2 -95.5,-88.9 -97.2,-89.4C-98.9,-90.0 -102.9,-91.6 -104.7,-92.2C-106.4,-92.9 -110.6,-94.4 -112.1,-95.0C-113.7,-95.7 -116.9,-97.1 -117.7,-97.8C-118.6,-98.6 -120.4,-100.5 -119.6,-101.6Z"/>
<path fill="#ffcdb4" d="M-51.4,-106.2 L-44.9,-107.2 L-44.9,-98.8 L-50.5,-97.8Z"/>
<path fill="#ffaa82" d="M-165.4,-106.2 L-157.0,-108.5 L-145.8,-108.1 L-138.3,-106.2 L-143.9,-103.4 L-155.1,-102.9 L-163.5,-104.0Z"/>
<path fill="#ffaa82" d="M5.5,-125.5 L13.0,-125.8 L13.0,-123.0 L6.5,-122.7Z"/>
<path fill="#ffaa82" d="M-7.5,-185.6 L-1.0,-185.4 L-1.0,-184.1 L-7.5,-184.3Z"/>
<path fill="#ffaa82" d="M-31.8,-111.8 L-26.2,-111.5 L-26.6,-109.6 L-31.5,-110.0Z"/>
<path fill="#ffaa82" d="M3.8,-125.5 L13.2,-125.8 L13.5,-122.5 L4.7,-122.1Z"/>
<path fill="#ffaa82" d="M-9.3,-185.6 L0.1,-185.4 L0.1,-184.1 L-9.3,-184.3Z"/>
<path fill="#ffaa82" d="M59.8,-120.2 L62.6,-119.9 L62.3,-117.4 L60.0,-117.8Z"/>
<path fill="#ffcdb4" d="M106.9,-176.8 L106.2,-167.9 L112.1,-165.1 L114.9,-160.4 L119.6,-147.3 L129.0,-136.1 L130.8,-126.8 L134.6,-123.0 L133.6,-113.7 L119.6,-112.8 L118.7,-102.5 L123.3,-106.2 L129.0,-108.1 L132.7,-102.5 L133.6,-96.0 L125.2,-95.0 L122.4,-91.3 L123.3,-87.6 L136.4,-89.4 L145.8,-87.6 L155.1,-85.7 L164.4,-83.8 L168.2,-76.4 L170.0,-68.9 L175.6,-72.6 L183.1,-70.7 L186.9,-63.3 L194.3,-57.3 L248.4,-73.3 L234.9,-109.1 L216.2,-142.6 L192.8,-172.9 L165.2,-199.4 L134.0,-221.6Z"/>
<path fill="#ffebd9" d="M137.4,-143.6 L145.8,-139.9 L155.1,-134.3 L158.8,-130.5 L153.2,-126.8 L145.8,-124.9 L140.2,-128.6 L136.4,-136.1Z"/>
<path fill="#ffebd9" d="M160.7,-108.1 L166.3,-113.7 L171.9,-108.1 L177.5,-102.5 L179.4,-93.2 L171.9,-89.4 L166.3,-95.0 L161.6,-100.6Z"/>
<path fill="#ffcdb4" d="M175.6,-40.9 L179.4,-46.5 L186.9,-50.2 L198.1,-52.4 L205.5,-40.9 L192.5,-31.5 L186.9,-33.4 L181.3,-35.3Z"/>
<path fill="#ffcdb4" d="M203.7,-40.9 L196.2,-31.5 L192.5,-24.1 L194.3,-16.6 L190.6,-9.1 L192.5,-1.6 L198.1,2.1 L199.9,9.6 L194.3,15.2 L190.6,21.7 L224.2,21.7 L224.2,-40.9Z"/>
<path fill="#ffcdb4" d="M188.7,13.9 L196.2,10.1 L201.8,18.5 L205.5,29.7 L224.2,29.7 L224.2,13.9Z"/>
<path fill="#ffcdb4" d="M190.6,-26.3 L196.2,-22.6 L205.5,-20.7 L224.2,-20.7 L224.2,-33.8 L190.6,-33.8Z"/>
<path fill="#d7e8ff" d="M188.7,-36.2 L193.4,-35.6 L193.0,-31.5 L189.1,-31.9Z"/>
<path fill="#d7e8ff" d="M194.3,-9.1 L198.1,-8.2 L199.6,0.2 L195.3,-0.7Z"/>
<path fill="#ffcdb4" d="M208.3,44.7 L196.2,45.6 L186.9,48.4 L179.4,54.0 L171.9,61.5 L168.2,69.0 L166.3,78.3 L170.0,85.8 L177.5,93.2 L185.0,95.1 L190.6,96.0 L224.2,96.0 L224.2,44.7Z"/>
<path fill="#ffcdb4" d="M78.5,-59.5 L86.0,-65.1 L93.5,-68.9 L102.8,-73.5 L104.7,-70.7 L97.2,-63.3 L89.7,-57.7 L82.3,-53.9Z"/>
<path fill="#ffcdb4" d="M59.8,-45.5 L64.5,-45.0 L65.4,-39.9 L60.8,-40.9Z"/>
<path fill="#ffcdb4" d="M5.7,207.2 L6.6,197.8 L9.4,188.5 L7.5,179.2 L3.8,169.8 L0.1,160.5 L-2.7,151.1 L-2.7,141.8 L1.9,139.9 L7.5,141.8 L12.2,147.4 L14.1,156.7 L16.9,162.3 L19.7,158.6 L21.6,149.3 L24.0,141.8 L25.3,130.6 L28.1,119.4 L30.0,110.0 L33.7,102.6 L37.4,97.0 L43.0,94.2 L48.6,97.0 L56.1,100.7 L65.4,102.6 L74.8,104.4 L82.3,100.7 L84.1,93.2 L86.0,85.8 L88.8,79.2 L92.5,71.8 L98.1,64.3 L103.2,57.4 L106.5,48.4 L108.4,40.9 L115.9,41.9 L127.1,42.8 L136.4,41.9 L145.8,41.9 L153.2,44.7 L160.7,48.4 L158.8,55.9 L153.2,63.4 L147.6,70.8 L142.0,78.3 L140.2,83.9 L145.8,89.5 L151.4,95.1 L157.0,102.6 L162.6,110.0 L162.6,117.5 L158.8,125.0 L155.1,132.5 L150.4,139.9 L143.0,150.2 L178.6,187.6 L149.2,211.7 L116.7,231.2 L81.7,245.8 L44.9,255.1 L7.1,258.9Z"/>
<path fill="#ffaa82" d="M66.4,128.7 L72.9,123.1 L78.5,121.3 L86.0,119.4 L93.5,121.3 L95.3,128.7 L93.5,136.2 L100.9,138.1 L110.3,136.2 L119.6,137.1 L124.3,141.8 L123.3,151.1 L119.6,158.6 L115.9,166.1 L112.1,171.7 L106.5,175.4 L100.9,177.3 L95.3,176.4 L93.5,167.9 L95.3,160.5 L89.7,156.7 L82.3,155.8 L76.7,154.9 L72.9,147.4 L71.1,139.9 L68.3,134.3Z"/>
<path fill="#ffaa82" d="M24.4,145.5 L31.8,143.7 L39.3,142.7 L45.8,145.5 L46.8,153.0 L44.9,160.5 L39.3,162.3 L35.6,156.7 L30.0,153.0 L25.3,151.1Z"/>
<path fill="#ffaa82" d="M24.4,194.1 L31.8,188.5 L41.2,182.9 L50.5,188.5 L48.6,196.0 L43.0,201.6 L35.6,204.4 L26.2,209.0 L23.4,209.0Z"/>
<path fill="#ffaa82" d="M80.4,174.5 L86.9,173.6 L86.0,180.1 L82.3,179.2Z"/>
<path fill="#ffcdb4" d="M-113.1,85.8C-112.6,83.0 -108.2,79.2 -107.5,79.2C-106.7,79.2 -106.4,83.9 -106.5,85.8C-106.6,87.6 -108.4,93.1 -108.4,95.1C-108.4,97.1 -107.1,101.2 -106.5,102.6C-106.0,104.0 -104.8,106.9 -103.7,107.2C-102.6,107.6 -99.0,106.1 -97.2,105.4C-95.3,104.6 -89.8,101.8 -87.9,100.7C-85.9,99.6 -82.1,96.7 -80.4,96.0C-78.6,95.4 -74.9,95.2 -72.9,95.1C-71.0,95.0 -65.5,94.8 -63.6,95.1C-61.6,95.4 -56.9,96.8 -56.1,97.9C-55.3,99.0 -56.2,103.4 -57.0,104.4C-57.9,105.5 -61.7,107.0 -63.6,107.2C-65.4,107.5 -70.7,106.2 -72.9,106.3C-75.1,106.5 -80.3,107.9 -82.3,108.6C-84.2,109.2 -87.8,111.5 -89.7,112.3C-91.7,113.1 -97.1,115.7 -99.1,115.6C-101.0,115.6 -105.1,113.4 -106.5,111.9C-108.0,110.4 -110.4,105.6 -111.2,102.6C-112.0,99.5 -113.5,88.5 -113.1,85.8Z"/>
<path fill="#ffcdb4" d="M-45.8,130.6 L-39.3,128.7 L-31.8,129.7 L-32.8,136.2 L-37.4,141.8 L-43.0,138.1Z"/>
<path fill="#ffcdb4" d="M-30.9,158.6 L-26.2,151.1 L-16.9,149.3 L-7.5,151.1 L-5.7,158.6 L-13.1,157.7 L-18.7,160.5 L-22.5,167.9 L-28.1,169.8 L-30.9,164.2Z"/>
<path fill="#ffcdb4" d="M-65.4,182.9 L-56.1,178.2 L-54.2,186.6 L-59.8,188.5Z"/>
<path fill="#ffcdb4" d="M-190.6,80.2 L-179.4,93.2 L-171.9,102.6 L-165.4,111.9 L-169.1,116.6 L-213.2,147.0 L-227.2,124.4 L-238.7,100.4Z"/>
<path fill="#d7e8ff" d="M-87.9,-168.8 L-78.5,-171.6 L-67.3,-170.7 L-58.9,-168.8 L-50.5,-166.9 L-51.1,-162.3 L-55.2,-156.7 L-58.9,-151.1 L-49.6,-146.4 L-50.5,-142.7 L-59.8,-143.6 L-67.3,-143.6 L-71.0,-147.3 L-76.7,-152.9 L-84.1,-150.1 L-91.6,-147.7 L-97.2,-145.5 L-94.4,-149.2 L-87.9,-152.9 L-87.9,-160.4Z"/>
<path fill="#d7e8ff" d="M-193.4,-71.7 L-188.7,-68.9 L-188.7,-59.5 L-181.2,-56.7 L-170.0,-55.8 L-158.8,-53.9 L-157.0,-46.5 L-158.8,-39.0 L-164.4,-36.2 L-171.9,-40.9 L-181.2,-41.8 L-180.3,-36.2 L-170.0,-34.3 L-157.0,-31.5 L-160.7,-24.1 L-162.6,-16.6 L-158.8,-11.0 L-160.7,-15.1 L-166.3,-7.6 L-169.1,-2.0 L-168.2,5.5 L-164.4,12.9 L-168.2,20.4 L-177.5,22.6 L-188.7,24.1 L-196.2,25.1 L-200.9,18.5 L-205.5,10.1 L-258.7,12.7 L-258.1,-22.1 L-252.7,-56.6 L-242.9,-90.0Z"/>
<path fill="#d7e8ff" d="M-176.6,-92.8 L-171.0,-93.2 L-171.0,-87.6 L-176.0,-87.6Z"/>
<path fill="#d7e8ff" d="M-142.0,35.3 L-136.4,31.6 L-135.5,40.9 L-141.1,41.9Z"/>
<path fill="#d7e8ff" d="M-175.6,67.1 L-172.8,55.9 L-168.2,50.3 L-160.7,50.3 L-155.1,55.9 L-155.1,63.4 L-147.6,65.2 L-140.2,67.1 L-136.4,72.7 L-130.8,74.6 L-130.8,80.2 L-138.3,81.1 L-143.9,80.2 L-149.5,83.9 L-153.2,87.6 L-162.6,88.6 L-170.0,85.8 L-173.8,78.3Z"/>
<path fill="#d7e8ff" d="M-127.1,85.8 L-118.7,83.0 L-117.7,93.2 L-125.2,96.0Z"/>
<path fill="#d7e8ff" d="M-118.7,153.9 L-110.3,148.3 L-99.1,152.1 L-95.3,158.6 L-99.1,169.8 L-108.4,172.6 L-114.9,166.1Z"/>
<path fill="#d7e8ff" d="M-18.7,-45.5 L-9.4,-42.7 L1.8,-39.0 L11.1,-40.9 L13.2,-33.4 L18.8,-25.9 L24.4,-20.3 L30.0,-12.8 L33.7,-3.5 L37.4,5.8 L39.3,15.2 L41.2,16.7 L46.8,26.0 L50.5,35.3 L49.6,44.7 L44.9,52.1 L39.3,59.6 L33.7,67.1 L28.1,74.6 L26.2,82.0 L22.5,89.5 L18.8,97.0 L11.3,102.6 L3.8,104.4 L1.9,111.9 L0.1,121.3 L-3.7,128.7 L-9.3,134.3 L-14.9,137.1 L-20.6,132.5 L-24.4,123.1 L-25.3,113.8 L-24.4,104.4 L-28.1,95.1 L-33.7,89.5 L-41.2,85.8 L-50.5,88.0 L-59.8,92.7 L-69.2,95.5 L-76.7,93.6 L-84.1,96.4 L-91.6,101.1 L-99.1,104.8 L-104.7,105.4 L-107.5,97.0 L-107.5,85.8 L-104.7,78.3 L-100.9,72.7 L-95.3,67.1 L-87.9,61.5 L-82.3,55.9 L-87.9,57.7 L-91.6,54.0 L-94.4,48.4 L-99.1,44.7 L-102.8,52.1 L-106.5,56.8 L-114.0,55.9 L-121.5,57.7 L-128.0,55.9 L-128.9,48.4 L-127.1,39.1 L-125.2,31.6 L-121.5,26.9 L-116.8,24.1 L-111.2,21.3 L-104.7,19.5 L-99.1,21.3 L-93.5,20.4 L-87.9,17.6 L-81.3,18.5 L-76.7,13.9 L-77.6,7.3 L-75.7,-0.2 L-69.2,-1.1 L-59.8,-1.1 L-50.5,1.7 L-41.2,4.5 L-31.8,1.7 L-27.2,-5.8 L-26.2,-15.1 L-23.4,-24.4 L-26.2,-14.7 L-23.4,-24.1 L-20.6,-35.3Z"/>
<path fill="#d7e8ff" d="M-71.0,0.2 L-63.6,-1.6 L-56.1,2.1 L-46.8,5.8 L-39.3,4.9 L-31.8,11.4 L-31.8,21.7 L-39.3,21.7 L-50.5,17.0 L-59.8,13.3 L-69.2,9.6Z"/>
<path fill="#d7e8ff" d="M-89.7,12.4 L-81.3,11.4 L-80.4,21.7 L-88.8,21.7Z"/>
<path fill="#b4cdff" d="M-0.1,-0.7 L10.2,-1.6 L11.1,5.8 L5.5,4.9Z"/>
<path fill="#b4cdff" d="M-69.2,74.6C-69.8,72.6 -71.3,67.4 -71.0,65.2C-70.8,63.0 -68.4,57.8 -67.3,55.9C-66.2,53.9 -62.8,50.4 -61.7,48.4C-60.6,46.4 -58.8,41.0 -58.0,39.1C-57.1,37.1 -55.5,32.9 -54.2,31.6C-52.9,30.3 -48.7,28.3 -46.8,27.9C-44.8,27.4 -39.6,27.8 -37.4,27.9C-35.2,28.0 -30.0,28.6 -28.1,28.8C-26.1,29.0 -22.0,29.0 -20.6,29.7C-19.2,30.5 -16.3,33.8 -15.9,35.3C-15.6,36.9 -16.8,41.3 -17.8,42.8C-18.8,44.3 -23.4,46.7 -24.4,48.4C-25.3,50.2 -25.3,56.0 -26.2,57.7C-27.1,59.5 -30.3,62.0 -31.8,63.4C-33.3,64.7 -37.8,67.6 -39.3,69.0C-40.8,70.3 -43.4,73.3 -44.9,74.6C-46.4,75.9 -50.6,79.2 -52.4,80.2C-54.1,81.1 -58.3,82.7 -59.8,83.0C-61.4,83.2 -64.4,83.0 -65.4,82.0C-66.5,81.0 -68.5,76.5 -69.2,74.6Z"/>
<path fill="#82a5ff" d="M-59.8,59.6C-60.3,58.5 -61.2,53.9 -60.8,52.1C-60.3,50.4 -57.1,46.4 -56.1,44.7C-55.1,42.9 -53.7,38.4 -52.4,37.2C-51.1,36.0 -46.4,34.3 -44.9,34.4C-43.4,34.5 -40.7,37.0 -39.3,38.1C-37.9,39.2 -33.0,42.7 -32.8,43.7C-32.5,44.8 -36.0,46.8 -37.4,47.5C-38.8,48.1 -43.6,48.6 -44.9,49.3C-46.2,50.1 -47.8,52.9 -48.6,54.0C-49.5,55.1 -51.4,57.8 -52.4,58.7C-53.3,59.6 -56.2,61.4 -57.0,61.5C-57.9,61.6 -59.4,60.7 -59.8,59.6Z"/>
<path fill="#b4cdff" d="M-91.6,55.9 L-92.5,48.4 L-86.0,40.9 L-80.4,35.3 L-74.8,33.5 L-71.0,39.1 L-72.9,46.5 L-78.5,52.1 L-84.1,55.9 L-87.9,57.7Z"/>
<path fill="#b4cdff" d="M-95.3,93.2 L-87.9,85.8 L-80.4,80.2 L-79.5,83.0 L-86.0,88.6 L-92.5,95.1Z"/>
<path fill="#b4cdff" d="M-0.1,0.8 L8.3,-2.0 L12.1,3.6 L9.3,6.4 L3.7,4.5Z"/>
<path fill="#b4cdff" d="M-9.4,31.6 L-3.8,27.9 L1.8,24.1 L9.3,20.4 L16.7,18.5 L21.4,20.4 L22.3,35.3 L14.9,33.5 L9.3,37.2 L3.7,35.3 L-1.9,39.1 L-7.5,38.1Z"/>
<path fill="#b4cdff" d="M0.1,-0.2 L10.4,-2.0 L11.3,5.5 L5.7,6.4Z"/>
<path fill="#b4cdff" d="M0.1,35.3 L5.7,27.9 L13.2,20.4 L17.8,27.9 L16.9,37.2 L11.3,40.9 L3.8,41.9 L-2.7,42.8Z"/>
<path fill="#b4cdff" d="M13.2,48.4 L18.8,47.5 L19.7,55.9 L14.1,56.8Z"/>
<path fill="#d7e8ff" d="M114.0,-63.3 L117.7,-70.7 L123.3,-75.4 L130.8,-73.5 L140.2,-70.7 L149.5,-67.9 L157.0,-70.7 L162.6,-68.9 L165.4,-63.3 L164.4,-57.7 L157.0,-55.8 L149.5,-53.9 L142.0,-50.2 L138.3,-44.6 L132.7,-39.0 L129.0,-31.5 L125.2,-25.9 L121.5,-24.1 L115.9,-29.7 L112.1,-35.3 L110.3,-42.7 L111.2,-52.1Z"/>
<path fill="#d7e8ff" d="M99.1,-13.2 L102.8,-18.8 L108.4,-17.9 L110.3,-11.4 L108.4,-3.9 L104.7,-1.1 L100.0,-3.9Z"/>
<path fill="#d7e8ff" d="M143.9,-26.3 L149.5,-29.7 L157.0,-27.8 L156.0,-18.5 L154.2,-9.5 L157.0,-0.2 L159.8,9.2 L161.6,18.5 L162.6,26.0 L157.0,27.9 L149.5,24.1 L140.2,24.1 L130.8,26.9 L123.3,27.9 L115.9,25.1 L110.3,22.3 L108.4,17.6 L112.1,12.9 L123.3,12.0 L134.6,13.9 L143.9,11.1 L148.6,3.6 L149.5,-2.0 L145.8,-7.6 L142.4,-15.1Z"/>
<path fill="#d7e8ff" d="M194.3,-9.5 L199.0,-8.6 L199.9,-0.2 L195.3,-1.1Z"/>
<path fill="#d7e8ff" d="M62.6,39.1 L65.4,46.5 L71.1,52.1 L78.5,54.0 L82.3,50.3 L76.7,51.2 L70.1,47.5 L65.4,39.1Z"/>
<path fill="#b4cdff" d="M157.9,26.9 L163.5,27.3 L163.5,29.2 L158.5,28.8Z"/>
<path fill="#d7e8ff" d="M69.2,-138.9 L74.8,-139.9 L82.3,-136.1 L89.7,-130.5 L91.6,-125.8 L86.0,-126.8 L78.5,-131.4 L72.0,-135.2Z"/>
<path fill="#ffebd9" d="M16.9,139.9 L21.6,141.8 L21.6,151.1 L17.8,153.0 L16.0,147.4Z"/>
<line x1="0" y1="127" x2="0" y2="200" stroke="#fff" stroke-width=".5" opacity=".45"/>
<path class="c" d="M-171.5,-116.9 L-167.7,-120.1 L-164.2,-123.6 L-161.9,-126.0 L-159.0,-126.5 L-159.6,-124.2 L-162.5,-122.2 L-157.2,-122.7 L-152.6,-121.3 L-147.9,-121.3 L-143.2,-121.9 L-140.3,-120.1 L-138.6,-116.0 L-136.8,-117.8 L-133.9,-119.0 L-129.2,-117.8 L-124.6,-116.0 L-122.2,-117.8 L-119.9,-119.0 L-115.2,-119.5 L-110.5,-119.0 L-105.9,-119.2 L-101.2,-118.7 L-99.5,-116.6 L-98.3,-119.5 L-94.2,-121.3 L-89.5,-123.6 L-84.9,-124.6 L-80.2,-125.4 L-77.9,-127.1 L-79.0,-130.0 L-76.9,-134.1 L-74.4,-138.2 L-71.4,-140.0 L-69.1,-143.5 L-68.5,-148.1 L-67.4,-152.8 L-65.6,-157.5 L-63.3,-162.1 L-60.4,-165.6 L-58.6,-167.4 M-72.6,-138.8 L-70.3,-137.0 L-69.5,-131.8 L-70.9,-127.1 L-73.2,-126.2 L-73.4,-130.0 L-72.3,-133.5 L-73.2,-135.9Z M-74.4,-153.4 L-71.8,-152.2 L-72.6,-148.1 L-73.8,-143.5 L-76.1,-144.6 L-76.9,-147.5 L-75.5,-150.5Z M-148.5,-129.2 L-143.2,-129.9 L-136.2,-127.7 L-134.5,-125.4 L-137.4,-123.0 L-139.7,-125.4 L-144.4,-127.1 L-147.3,-127.7Z M-135.1,-121.3 L-131.0,-121.3 L-126.9,-119.0 L-128.1,-116.6 L-131.6,-118.4Z M-124.0,-121.9 L-119.9,-121.3 L-115.2,-116.6 L-112.9,-113.1 L-115.2,-113.1 L-118.7,-116.0 L-121.6,-114.9 L-124.0,-115.4 L-121.6,-118.4Z M-122.2,-120.1 L-116.4,-114.9 M-169.5,-118.4 L-165.4,-123.0 L-161.9,-125.7 M-68.6,-154.0 L-66.3,-158.6 L-63.3,-162.7 L-59.3,-166.8 L-54.6,-172.1 L-49.9,-176.1 L-47.6,-176.4 L-48.2,-174.4 L-52.3,-169.1 L-56.9,-164.5 L-60.4,-160.4 L-62.2,-156.3 L-62.8,-152.8 L-61.0,-148.1 L-58.1,-149.9 L-54.6,-149.3 L-51.1,-150.5 L-48.8,-148.7 L-46.4,-146.4 L-43.5,-148.1 L-40.6,-146.4 L-38.3,-143.5 L-35.3,-140.0 L-35.9,-134.1 L-37.7,-130.6 L-41.2,-129.5 L-43.5,-126.5 L-42.3,-123.0 L-40.6,-120.7 L-37.7,-123.0 L-33.6,-124.2 L-29.5,-123.6 L-26.6,-120.7 L-28.3,-117.2 L-31.2,-114.3 L-35.3,-114.3 L-37.1,-112.5 L-35.3,-109.6 L-31.2,-108.4 L-27.7,-106.1 L-25.6,-103.8 L-28.9,-101.4 L-30.7,-97.9 L-31.2,-93.3 L-33.6,-90.4 L-37.1,-86.9 L-40.6,-85.7 L-45.3,-85.1 L-49.9,-83.3 L-55.8,-81.0 L-61.6,-78.7 L-68.6,-76.9 M-51.1,-175.6 L-55.8,-169.7 L-59.8,-164.5 M-44.1,-182.0 L-41.2,-184.9 L-37.1,-188.4 L-35.6,-188.4 L-37.1,-184.3 L-40.0,-180.8 L-42.9,-179.4Z M-42.3,-181.4 L-37.7,-186.7 M-20.2,-193.1 L-17.8,-195.1 L-17.2,-194.2 L-19.6,-191.9Z M-13.2,-197.7 L-10.2,-196.0 M-12.8,-196.9 L-10.5,-196.9 M-7.9,-198.3 L-5.6,-196.0 M-7.3,-197.4 L-5.8,-197.2 M21.9,-190.7 L25.4,-188.4 L23.6,-190.2 L24.8,-189.2 M41.1,-176.7 L44.0,-172.1 M-26.6,-133.5 L-23.7,-134.1 L-19.0,-133.5 L-19.0,-131.8 L-21.9,-131.2 L-25.4,-131.8Z M-26.0,-132.7 L-19.6,-132.7 M-38.5,-148.1 L-35.3,-149.3 L-33.0,-148.1 L-34.7,-146.0 L-37.7,-146.0Z M-4.4,-94.4 L-1.5,-96.2 L2.0,-96.2 L1.4,-93.3 L-1.5,-92.1 L-3.8,-92.7Z M-21.3,-119.5 L-19.6,-122.5 L-17.2,-127.1 L-16.1,-129.5 L-13.2,-128.3 L-10.2,-126.0 L-7.3,-123.6 L-3.8,-123.6 L-2.1,-120.1 L-0.9,-121.3 L-1.1,-124.8 L1.4,-126.5 L5.5,-127.1 L4.4,-130.0 L2.6,-133.0 L1.4,-137.6 L2.6,-140.0 L6.1,-140.0 L10.8,-142.3 L15.4,-144.6 L20.1,-147.5 L24.2,-149.9 L25.9,-150.5 L27.1,-148.1 L30.6,-147.0 L34.1,-148.1 L37.0,-149.3 L38.8,-147.0 L42.3,-148.7 L45.2,-151.6 L48.1,-154.0 L50.5,-156.3 L48.1,-158.6 L49.3,-162.1 L51.6,-166.8 L54.5,-167.4 L55.1,-171.5 L58.0,-173.8 L61.0,-172.6 L64.5,-176.7 L67.4,-178.5 L71.5,-180.8 L75.6,-184.3 L79.6,-186.1 L80.2,-183.2 L77.9,-175.0 L75.6,-166.8 L73.2,-161.0 L70.3,-156.9 L65.6,-154.0 L63.3,-152.2 L58.6,-151.6 L54.0,-149.3 L49.3,-146.4 L44.6,-143.5 L40.5,-140.5 L38.2,-136.5 L37.0,-133.5 L39.4,-133.0 L41.7,-136.5 L45.2,-138.8 L49.3,-140.5 L50.5,-138.8 L48.7,-135.3 L51.6,-133.5 L56.3,-133.0 L59.8,-135.3 L64.5,-137.6 L66.8,-141.7 L69.1,-142.3 L71.5,-140.5 L74.4,-139.4 L76.1,-136.5 L79.1,-134.1 L81.4,-133.5 M42.3,-152.8 L46.4,-154.0 M-21.3,-119.5 L-20.2,-117.2 L-17.2,-115.4 L-13.7,-115.4 L-10.8,-113.7 L-7.9,-110.8 L-4.4,-107.9 L-0.9,-104.9 L2.6,-103.2 L7.3,-101.4 L11.9,-100.3 L16.0,-99.7 L16.6,-103.8 L18.4,-104.9 L20.1,-103.2 L20.7,-100.3 L24.8,-99.7 L29.5,-97.9 L33.5,-96.2 L34.7,-93.3 L34.1,-89.8 L37.0,-87.4 L41.1,-85.7 L44.6,-84.5 L45.2,-80.4 L47.0,-77.5 L48.1,-73.4 L51.6,-69.9 L54.5,-67.6 L57.5,-68.8 L59.2,-71.1 L62.1,-68.8 L65.6,-65.8 L69.1,-63.5 M19.2,-101.4 L20.3,-98.5 M71.4,-182.6 L76.1,-184.9 L80.2,-186.1 L79.6,-182.0 L78.4,-175.0 L76.7,-166.8 L74.3,-161.0 L71.4,-157.5 M82.5,-186.1 L87.2,-188.4 M71.4,-140.5 L74.9,-140.0 L76.1,-137.0 L78.4,-134.1 L81.9,-133.0 L85.4,-131.2 L88.9,-128.3 L92.4,-125.4 L96.5,-124.2 L101.7,-125.4 L106.4,-126.5 L111.1,-127.1 L115.8,-128.3 L120.4,-128.9 L124.5,-128.3 L127.4,-127.4 L128.0,-130.0 L126.3,-133.0 L128.0,-136.5 L126.3,-138.8 L123.3,-140.0 L121.0,-141.1 L119.3,-143.5 L118.7,-145.8 L118.1,-147.5 L119.8,-149.9 L122.2,-152.8 L125.1,-155.1 L128.6,-157.5 L131.2,-159.6 M121.4,-167.0 L119.5,-161.6 L116.9,-156.3 L113.7,-151.1 L111.4,-146.4 L112.8,-145.6 L115.2,-148.7 L118.1,-153.4 L121.0,-158.6 L122.8,-162.7 L123.9,-165.4 M111.1,-146.7 L112.5,-145.2 M119.8,-134.1 L122.8,-131.8 L120.4,-132.4 L122.2,-133.5 M124.5,-137.6 L128.0,-136.7 L126.8,-135.1 L124.9,-135.5Z M-203.3,-30.3 L-199.3,-33.2 L-194.6,-35.0 L-189.9,-36.1 L-186.4,-36.7 L-185.8,-34.4 L-189.9,-32.6 L-194.6,-30.9 L-199.3,-28.6 L-202.8,-27.4Z M-203.3,-25.1 L-199.3,-26.8 L-193.4,-28.6 L-187.6,-29.7 L-184.1,-29.1 L-184.1,-26.2 L-187.6,-25.1 L-193.4,-23.9 L-198.1,-22.1 L-202.2,-22.7Z M-193.4,-34.4 L-187.0,-35.9 M-192.8,-33.6 L-186.4,-35.2 M-168.3,-39.1 L-164.8,-37.9 L-160.7,-36.1 L-158.4,-33.8 L-161.3,-33.2 L-164.8,-35.6 L-167.7,-37.3Z M-167.2,-38.1 L-159.6,-34.0 M-149.1,-57.7 L-146.7,-56.0 L-145.0,-51.9 L-146.7,-49.0 L-149.1,-47.2 L-149.9,-50.7 L-149.7,-54.8Z M-133.9,-64.2 L-131.6,-66.5 L-129.2,-63.0 L-126.3,-60.1 L-128.1,-57.7 L-130.4,-56.0 L-128.6,-51.9 L-129.2,-47.2 L-131.0,-45.5 L-132.1,-50.2 L-132.7,-54.8 L-133.9,-58.9 L-135.1,-61.8Z M-109.4,-65.3 L-105.9,-68.2 L-104.1,-66.5 L-101.8,-68.2 L-98.9,-70.0 L-98.3,-66.5 L-99.5,-61.8 L-98.9,-58.3 L-101.8,-56.0 L-104.7,-55.4 L-107.0,-58.3 L-108.2,-61.8Z M-105.9,-66.5 L-104.1,-59.5 L-102.4,-65.3 L-101.2,-58.3 M-118.7,8.2 L-122.2,7.0 L-126.9,4.7 L-131.0,2.4 L-133.9,-0.5 L-136.8,-3.5 L-139.1,-6.4 L-142.1,-8.7 L-145.6,-11.1 L-150.2,-12.8 L-154.3,-13.4 L-158.4,-12.8 L-160.7,-9.9 L-164.2,-8.1 L-168.3,-7.0 L-167.7,-3.5 L-169.5,1.2 L-171.8,4.7 L-174.7,8.2 L-176.5,12.3 L-177.7,17.0 L-178.3,21.0 L-178.8,24.0 L-182.3,24.6 L-186.4,25.7 L-189.9,26.9 L-193.4,29.8 L-197.5,33.9 L-198.1,35.6 L-194.6,38.0 L-191.1,39.1 L-187.0,37.4 L-182.9,35.1 L-178.8,33.0 L-177.1,34.5 L-173.6,36.8 L-170.1,39.1 L-166.6,38.6 L-161.9,36.2 L-157.8,33.9 L-154.9,31.6 L-151.4,32.1 L-147.9,32.7 L-143.2,30.4 L-138.6,29.8 L-136.2,32.1 L-135.6,36.2 L-134.5,39.1 L-136.2,43.2 L-138.6,45.6 L-138.0,49.6 L-140.3,52.0 L-143.8,53.7 L-147.3,55.5 L-149.1,58.4 L-149.7,61.9 L-148.5,64.8 L-145.0,66.0 L-140.9,64.2 L-136.8,64.2 L-138.6,68.3 L-140.9,72.4 L-143.2,76.5 M-135.1,10.0 L-131.6,8.2 L-126.9,7.0 L-122.2,7.0 L-118.1,8.2 L-121.1,10.5 L-124.6,14.0 L-128.1,18.7 L-131.0,21.0 L-132.7,19.9 L-131.0,16.4 L-131.6,13.5 L-133.9,12.3Z M-140.3,15.2 L-136.8,19.9 L-139.1,16.4 L-137.4,18.7 M-142.1,25.1 L-137.4,25.7 L-141.5,26.0 L-138.0,24.9 M-172.4,30.4 L-168.3,32.7 L-171.8,31.6 L-168.9,31.6 L-171.2,33.0 M-189.9,28.1 L-187.8,30.2 L-189.3,29.8 M-84.4,-58.5 L-85.5,-56.2 L-86.7,-53.4 L-89.0,-51.9 L-91.4,-50.3 L-93.7,-48.8 L-95.3,-46.8 L-98.0,-45.7 L-100.3,-47.6 L-102.3,-46.0 L-103.4,-44.1 L-103.8,-41.0 L-104.2,-38.3 L-105.8,-36.3 L-107.1,-35.2 L-105.4,-34.2 L-103.4,-35.2 L-102.3,-32.8 L-102.1,-28.5 L-104.2,-27.6 L-106.9,-26.2 L-109.3,-24.3 L-110.8,-21.5 L-111.6,-18.4 L-110.4,-16.5 L-108.1,-15.3 L-105.8,-16.1 L-104.2,-17.3 L-102.6,-16.1 L-101.1,-14.1 L-103.0,-12.6 L-105.4,-11.8 L-107.7,-12.6 L-110.0,-13.0 L-112.5,-12.0 L-110.8,-10.3 L-108.5,-8.7 L-105.8,-7.5 L-103.4,-7.9 L-101.9,-9.5 L-99.5,-10.6 L-96.8,-11.0 L-94.5,-9.9 L-92.1,-7.9 L-93.7,-6.7 L-96.0,-5.6 L-98.4,-4.8 L-100.3,-4.0 L-101.9,-2.5 L-104.2,-1.3 L-106.5,-0.5 L-107.7,0.6 L-106.1,1.8 L-104.2,1.4 L-105.8,3.0 L-108.5,3.8 L-111.6,4.1 L-114.3,5.3 L-112.8,7.3 L-110.4,8.0 L-107.7,8.4 L-105.0,8.8 L-102.6,9.6 L-101.1,11.5 L-99.9,13.9 L-100.3,16.2 L-99.1,18.2 L-97.6,20.1 L-98.8,22.0 L-100.3,24.0 L-102.3,25.9 L-103.8,28.3 L-105.4,30.6 L-107.3,32.9 L-109.7,34.1 L-112.4,33.3 L-114.7,32.2 L-117.0,32.6 L-118.6,33.3 M-118.6,14.3 L-115.5,16.2 L-112.4,16.6 L-110.8,14.7 L-107.7,14.3 L-104.6,14.7 L-101.9,13.1 L-99.9,13.9 M-112.0,27.1 L-110.8,25.2 L-108.5,24.8 L-106.5,25.9 L-106.9,28.3 L-108.9,29.3 L-110.8,29.0Z M-99.9,-42.9 L-99.1,-39.4 L-99.9,-35.9 L-101.3,-32.4 L-101.9,-28.5 L-102.6,-25.0 L-101.9,-21.9 L-99.9,-20.4 L-98.0,-18.8 L-96.0,-21.1 L-93.7,-23.5 L-90.6,-24.3 L-87.5,-24.3 L-84.4,-23.5 L-82.0,-21.9 L-80.1,-20.4 L-78.5,-21.9 L-78.9,-24.3 L-81.2,-25.8 L-82.4,-27.0 L-80.9,-28.5 L-79.7,-31.3 L-78.9,-33.6 L-77.0,-35.2 L-76.2,-37.5 L-77.0,-40.6 L-78.5,-43.3 L-80.5,-44.9 L-82.8,-44.9 L-85.1,-44.1 L-87.5,-42.9 L-88.6,-40.6 L-89.8,-38.3 L-91.0,-37.9 L-91.4,-40.2 L-90.2,-42.9 L-89.4,-44.9 L-91.4,-45.7 L-93.7,-44.5 L-96.0,-42.5 L-98.4,-42.9Z M-80.1,-51.5 L-77.4,-52.3 L-73.5,-51.9 L-71.1,-49.6 L-68.8,-46.8 L-65.7,-44.9 L-65.3,-42.2 L-66.8,-39.4 L-69.6,-37.5 L-72.7,-36.3 L-75.4,-35.5 L-76.6,-39.0 L-77.7,-42.2 L-79.3,-45.3 L-80.1,-48.4Z M-78.1,-44.1 L-76.2,-35.9 M-92.1,-14.1 L-90.6,-16.1 L-87.9,-18.0 L-85.1,-18.8 L-82.8,-18.4 L-83.2,-16.1 L-81.2,-15.3 L-78.9,-14.9 L-78.1,-12.6 L-79.7,-10.6 L-82.0,-11.8 L-84.0,-11.4 L-85.9,-10.3 L-88.6,-10.6 L-91.0,-11.8Z M-86.3,-6.4 L-84.4,-7.5 L-81.2,-7.9 L-79.3,-6.7 L-78.9,-4.0 L-80.1,-0.9 L-82.4,-0.5 L-84.7,-2.1 L-85.9,-4.0Z M-71.5,-31.3 L-68.8,-33.6 L-64.9,-35.5 L-61.8,-36.7 L-58.7,-38.7 L-56.3,-38.3 L-55.2,-35.2 L-54.4,-31.3 L-55.6,-29.3 L-57.9,-29.7 L-60.2,-28.5 L-62.6,-27.8 L-64.1,-28.9 L-65.7,-27.4 L-68.0,-27.8 L-70.0,-26.6 L-71.1,-28.1Z M-64.9,-35.2 L-62.6,-32.0 L-60.2,-35.2 L-59.5,-32.4 L-61.4,-31.3 M-71.1,-25.8 L-68.0,-25.0 L-64.9,-25.8 L-62.6,-24.3 L-64.1,-21.9 L-67.2,-21.1 L-70.4,-20.4 L-71.9,-18.8 L-71.5,-23.5Z M-58.3,-24.3 L-56.3,-25.4 L-53.6,-24.6 L-52.8,-21.9 L-54.4,-19.6 L-56.7,-20.0 L-58.3,-21.9Z M-56.7,-23.5 L-54.8,-21.1 M-73.9,-11.8 L-72.7,-13.8 L-69.6,-14.5 L-66.5,-13.8 L-64.9,-12.2 L-66.5,-10.3 L-69.6,-9.5 L-72.3,-9.9Z M-71.9,-17.3 L-68.8,-18.0 L-64.9,-17.3 M-62.6,-16.5 L-58.7,-15.7 L-62.2,-15.9 L-59.1,-16.3 M-59.1,-11.0 L-57.1,-13.4 L-54.8,-14.9 L-51.7,-15.3 L-51.3,-13.8 L-53.2,-11.8 L-55.2,-9.9 L-57.5,-8.7Z M-50.7,-7.8 L-48.3,-7.1 M-76.2,-6.4 L-74.6,-7.9 L-72.3,-7.5 L-72.3,-5.6 L-74.2,-4.8Z M-68.4,-4.8 L-66.8,-6.7 L-64.5,-6.4 L-65.7,-4.0 L-67.2,-2.5Z M-63.0,-4.0 L-61.4,-6.7 L-59.5,-7.9 L-59.8,-5.2 L-61.4,-2.9Z M-59.1,-0.9 L-57.1,-2.9 L-54.0,-4.0 L-50.9,-4.4 L-47.8,-4.0 L-45.8,-3.1 L-47.4,-1.3 L-49.3,0.6 L-51.7,1.8 L-54.0,2.6 L-56.3,2.2 L-58.3,1.0Z M-77.7,0.6 L-77.0,-2.5 L-75.0,-3.6 L-71.9,-4.0 L-69.6,-2.9 L-68.8,-0.5 L-70.7,0.6 L-71.9,3.0 L-71.1,6.1 L-71.5,9.2 L-71.9,11.9 L-73.9,12.7 L-75.8,11.9 L-76.2,9.2 L-77.4,6.9 L-77.7,3.8Z M-70.0,0.6 L-70.7,3.8 L-69.7,6.5 M-68.0,1.4 L-64.9,1.8 L-62.6,3.0 L-60.6,4.1 L-58.3,3.0 L-55.6,3.8 L-52.8,4.1 L-50.1,3.0 L-48.2,0.6 L-46.6,-0.9 L-44.3,-2.5 L-41.6,-0.5 L-38.4,3.0 L-35.7,6.5 L-33.4,10.4 L-32.4,14.7 L-33.4,17.8 L-36.1,19.3 L-39.2,18.9 L-41.9,17.4 L-44.7,17.8 L-45.8,20.1 L-47.4,21.7 L-49.7,21.3 L-51.7,19.3 L-54.0,18.2 L-56.3,17.4 L-58.7,15.4 L-61.0,13.5 L-63.7,12.7 L-66.1,11.5 L-67.6,9.2 L-67.2,6.1 L-68.2,3.8Z M-47.4,-0.5 L-46.6,3.0 L-45.4,6.9 L-44.3,10.0 M-48.2,-0.1 L-47.2,3.8 L-45.8,7.6 M-56.3,17.4 L-59.1,20.1 L-63.0,23.2 L-64.9,27.1 L-63.7,31.0 L-62.2,34.9 L-61.8,38.8 L-63.3,41.5 M-34.2,18.2 L-32.2,20.9 L-30.7,24.0 L-28.3,25.2 L-25.2,24.4 L-22.1,24.0 L-18.6,24.4 M-100.3,12.3 L-99.9,9.2 L-99.1,6.1 L-96.4,3.4 L-92.9,1.0 L-89.0,-0.1 L-85.1,0.6 L-82.0,2.6 L-80.1,5.7 L-79.3,9.2 L-79.7,13.1 L-79.3,16.2 L-80.5,18.9 L-82.4,20.1 L-84.0,22.4 L-85.5,24.8 L-87.1,27.1 L-87.9,30.2 L-88.6,33.3 L-90.2,36.1 L-92.5,38.0 L-95.6,39.2 L-98.4,40.3 L-100.3,41.5 M-91.8,7.6 L-89.0,5.7 L-85.9,4.9 L-83.2,5.9 L-81.2,7.6 M-91.4,7.0 L-88.6,5.2 L-85.8,4.4 L-83.0,5.3 M-87.9,14.3 L-85.1,12.7 L-82.0,12.9 M-85.1,16.2 L-84.0,14.3 L-81.6,14.3 L-80.5,16.2 L-81.2,18.5 L-83.2,19.3 L-84.7,18.2Z M-119.1,32.4 L-120.3,30.5 L-121.1,28.1 L-122.3,26.2 L-124.2,25.4 L-126.1,25.8 L-126.9,27.4 L-126.1,29.3 L-125.4,31.6 L-125.8,34.7 L-126.1,37.9 L-126.9,41.0 L-128.1,43.3 L-129.3,46.4 L-130.0,49.5 L-130.8,52.6 L-130.8,55.4 L-130.0,57.3 L-128.1,56.5 L-126.9,53.4 L-125.8,50.3 L-124.2,48.0 L-123.0,48.8 L-123.4,51.5 L-124.2,54.2 L-124.6,56.9 L-123.4,58.9 L-121.1,58.5 L-118.8,56.5 L-116.8,54.2 L-115.3,51.5 L-113.3,48.8 L-111.4,46.8 L-109.4,46.4 L-110.2,48.8 L-111.8,51.1 L-112.9,53.4 L-111.8,55.0 L-109.4,56.1 L-106.7,56.5 L-104.0,56.1 L-102.8,54.2 L-102.0,51.1 L-101.2,48.0 L-100.9,44.9 L-100.1,42.5 L-98.9,41.0 M-118.8,8.3 L-119.5,11.4 L-118.6,14.3 M-88.0,13.7 L-85.7,13.0 L-83.0,13.0 L-80.6,14.1 L-80.2,16.9 L-81.4,18.8 L-83.3,19.2 L-84.9,17.6 L-85.3,15.3Z M-84.9,14.9 L-84.0,18.0 M-63.5,40.6 L-65.4,42.9 L-67.4,45.3 L-69.7,47.6 L-72.5,49.5 L-75.2,51.1 L-76.3,53.0 L-74.8,54.6 L-73.6,55.8 L-75.2,57.3 L-77.1,56.9 L-79.5,56.5 L-81.8,57.7 L-83.7,59.3 L-83.3,61.6 L-81.0,62.4 L-79.1,63.2 L-80.2,65.1 L-83.0,67.0 L-84.9,65.9 L-87.6,65.5 L-90.4,66.7 L-93.1,68.6 L-95.4,70.5 L-97.4,72.5 L-98.1,75.2 L-99.7,77.9 L-101.2,80.7 L-103.2,83.4 L-104.7,86.5 M-76.7,58.5 L-74.4,58.1 L-74.0,60.0 L-76.0,61.2Z M-32.4,14.6 L-31.5,18.7 L-30.1,24.0 L-26.6,25.1 L-23.1,24.0 L-19.6,25.1 L-16.7,28.1 L-14.3,31.6 L-13.7,35.1 L-16.1,36.8 L-18.4,36.2 L-16.7,38.6 L-13.2,39.1 L-9.7,40.3 L-9.1,43.2 L-10.8,46.1 L-13.2,49.1 L-15.5,52.0 L-17.8,54.9 L-20.2,58.4 L-21.3,61.9 L-23.1,65.4 L-24.8,68.9 L-26.0,72.4 L-28.3,76.5 M-18.4,35.1 L-14.3,37.4 L-17.2,39.1 L-13.7,36.2 L-17.8,37.4 M43.5,-4.0 L46.4,-6.4 L49.9,-8.1 L51.6,-11.6 L53.4,-14.6 L56.9,-15.1 L59.2,-12.8 L59.8,-9.9 L57.5,-8.1 L55.1,-4.6 L52.8,-1.7 L49.3,-0.5 L46.4,-1.7Z M52.2,-11.6 L56.3,-9.5 M35.9,-65.3 L38.2,-66.5 L40.5,-63.6 L41.1,-60.1 L44.0,-60.7 L47.0,-59.5 L49.9,-57.7 L51.0,-54.8 L48.7,-51.9 L45.8,-51.9 L42.9,-54.2 L41.7,-57.2 L39.4,-60.1 L37.0,-62.4Z M49.3,-66.5 L51.6,-67.7 L52.8,-64.7 L51.0,-60.7 L49.3,-63.0Z M48.1,-73.5 L50.5,-71.2 L54.0,-69.4 L56.9,-70.6 L59.2,-71.7 L62.1,-69.4 L65.6,-66.5 L67.4,-63.0 L70.3,-64.7 L73.2,-62.4 L72.1,-58.9 L69.1,-57.2 L66.8,-56.0 L65.6,-53.1 L66.8,-49.6 L68.6,-46.7 L71.5,-45.5 L72.6,-42.0 L73.8,-38.5 L74.4,-34.4 L75.6,-31.5 L73.2,-29.7 L69.7,-29.7 L65.6,-28.6 L62.7,-25.6 L61.6,-21.6 L62.1,-18.6 L59.8,-16.3 L61.0,-14.0 L64.5,-13.4 L66.8,-10.5 L68.6,-6.4 L70.3,-2.3 L73.2,1.2 L76.1,3.5 L79.6,4.7 L80.8,10.5 L81.4,14.0 M75.6,-31.5 L78.5,-28.0 L81.4,-26.2 M72.1,-29.4 L75.0,-27.4 M33.0,30.4 L35.3,29.2 L37.6,31.0 L36.5,33.3 L33.5,33.3Z M34.7,22.2 L37.0,21.0 L38.2,24.0 L36.5,25.7Z M38.8,18.7 L41.1,18.1 L42.3,21.6 L41.1,25.1 L39.4,26.9 L38.2,24.6Z M34.1,31.6 L37.0,31.6 M39.4,19.9 L40.5,25.7 M35.6,22.8 L37.0,24.6 M81.4,51.4 L79.1,52.0 L75.6,51.4 L72.1,48.5 L69.1,44.4 L66.8,39.7 L65.1,35.1 L63.9,30.4 L63.9,25.7 L62.7,23.4 L60.4,24.6 L59.8,26.9 L61.0,31.6 L62.1,37.4 L64.5,42.6 L66.8,47.3 L69.1,51.4 L71.5,54.9 L74.4,56.7 L77.9,56.1 L81.4,54.9 M9.6,50.2 L12.5,47.9 L15.4,45.6 L18.9,43.8 L22.4,43.2 L23.6,46.1 L21.9,49.1 L19.5,50.2 L20.7,53.1 L23.6,54.3 L25.9,56.1 L24.8,59.0 L22.4,58.4 L20.7,56.1 L19.5,58.4 L20.1,61.9 L18.9,64.8 L16.6,62.5 L14.3,59.0 L11.9,55.5 L10.2,52.6Z M15.4,46.7 L18.4,52.0 L17.8,54.9 M164.8,-58.9 L167.1,-60.7 L171.8,-61.8 L176.5,-61.8 L181.1,-60.1 L185.2,-57.2 L188.7,-54.8 L191.6,-53.1 L193.7,-50.2 L193.4,-46.7 L191.6,-46.1 L190.5,-49.0 L188.1,-51.9 L184.6,-54.2 L180.5,-56.6 L176.5,-58.3 L171.8,-58.9 L167.7,-58.3 L165.4,-57.7Z M71.4,-44.3 L73.2,-39.6 L72.6,-35.0 L74.9,-29.7 L78.4,-26.2 L81.3,-23.9 L77.2,-24.5 L73.7,-27.4 M71.4,-3.5 L73.7,-1.1 L77.2,2.4 L80.7,4.1 L81.3,8.2 L81.9,12.3 L84.8,14.0 L87.7,12.9 L90.1,12.3 L90.7,14.6 L88.3,17.0 L86.6,19.3 L88.9,21.0 L91.8,19.9 L93.6,19.3 L92.4,22.2 L90.1,24.0 L87.2,23.4 L83.7,21.6 L81.9,23.4 L85.4,25.1 L88.9,26.3 L92.4,27.5 L96.5,29.2 L100.0,28.1 L102.3,26.3 L104.7,28.6 L107.6,29.8 L109.9,32.1 L112.3,35.1 L114.0,38.0 L112.3,39.7 L110.5,38.6 L109.3,35.1 L107.0,32.1 L103.5,31.0 L99.4,30.4 L95.3,29.8 L91.2,28.6 L87.7,27.5 L83.7,26.9 L80.2,26.3 L77.8,27.5 L79.6,29.8 L83.1,31.6 L86.0,33.9 L87.7,36.8 L91.2,38.0 L94.7,38.6 L98.8,38.6 L101.7,39.7 L100.0,42.1 L97.1,43.8 L94.2,45.6 L90.7,47.3 L87.2,49.1 L83.7,50.8 L85.4,52.0 L88.9,51.4 L92.4,52.6 L93.6,54.9 L91.2,56.1 L90.1,59.0 L90.7,61.9 L87.7,63.1 L86.0,66.0 L85.4,70.1 L86.0,73.6 L84.8,76.5 M71.4,47.9 L76.1,50.8 L81.3,52.0 L76.1,54.9 L71.4,56.1 M77.5,67.7 L79.0,66.2 L81.0,67.2 L81.3,69.5 L79.6,70.7 L77.8,69.8Z M74.9,75.3 L78.4,76.5 M-138.0,66.5 L-140.9,70.0 L-143.8,74.1 L-146.2,77.6 L-149.1,79.9 L-152.0,81.1 L-153.7,84.6 L-154.7,88.7 L-153.7,92.8 L-154.3,96.3 L-156.7,97.4 L-156.1,100.9 L-157.2,104.4 L-159.0,107.4 L-161.9,109.7 L-164.2,111.4 L-166.0,109.1 L-168.9,106.2 L-172.4,104.1 L-176.5,103.6 L-178.8,102.9 M-174.7,110.9 L-168.9,109.7 L-165.4,110.6 M-173.6,113.0 L-167.7,112.3 L-163.7,112.6 M-191.1,81.1 L-186.4,88.7 L-182.9,95.7 L-180.6,100.4 L-178.8,102.9 M-90.7,66.5 L-93.6,68.8 L-96.5,71.8 L-98.9,75.8 L-100.6,79.3 L-103.0,82.8 L-105.3,86.9 L-107.6,91.0 L-109.4,95.1 L-110.0,98.6 L-108.8,102.1 L-107.6,105.6 L-107.0,109.1 L-105.3,111.4 L-103.0,110.9 L-100.0,109.1 L-97.1,107.4 L-94.8,105.6 L-92.5,103.3 L-90.1,102.1 L-87.2,101.5 L-85.5,99.8 L-84.3,97.4 L-82.5,95.7 L-80.2,95.1 L-77.9,95.7 L-74.9,96.8 L-71.4,97.8 L-67.9,97.4 L-64.4,96.3 L-61.5,95.1 L-58.6,93.9 M-68.6,97.4 L-65.1,95.7 L-61.6,94.3 L-58.1,93.6 L-54.6,94.3 L-51.1,94.5 L-47.6,93.6 L-44.1,92.4 L-40.6,90.4 L-42.3,88.7 L-44.1,88.1 L-41.2,86.3 L-39.4,84.6 L-37.7,85.8 L-38.8,82.8 L-36.5,80.5 L-34.2,81.1 L-33.0,78.2 L-30.7,77.0 L-28.9,74.7 L-27.2,72.3 L-25.4,71.8 L-24.2,68.8 L-23.1,66.5 M-15.5,93.6 L-12.8,94.9 M-15.1,94.5 L-13.2,93.9 M-52.3,115.5 L-51.1,112.6 L-48.8,110.3 L-45.8,109.7 L-44.7,112.0 L-41.8,113.2 L-38.3,113.8 L-34.2,113.8 L-31.2,115.5 L-29.5,118.4 L-29.5,121.4 L-31.2,123.7 L-34.2,125.4 L-37.7,126.6 L-41.2,127.2 L-44.7,127.2 L-47.0,125.4 L-48.8,123.1 L-51.1,121.9 L-49.9,119.6 L-51.7,117.9Z M-18.4,139.5 L-14.9,140.6 L-17.8,140.6 L-15.5,139.5 M-4.2,150.0 L-3.0,153.5 L-3.7,151.7 M-9.7,156.6 L-7.3,158.1 M-12.6,159.9 L-9.1,159.9 L-7.9,162.2 L-10.2,164.6 L-6.7,165.1 L-5.0,166.9 L-6.7,170.4 L-7.9,172.7 L-6.2,175.6 L-4.4,179.1 L-2.6,183.2 L-0.9,186.7 L0.3,190.2 L2.6,192.0 L4.9,193.1 L6.1,195.5 L4.9,198.4 L3.2,200.7 L1.4,202.5 L-2.1,203.1 L-5.6,202.8 L-9.1,203.1 L-12.6,204.0 L-14.9,204.8 L-17.2,205.4 L-20.2,205.6 M-12.6,159.9 L-14.9,161.6 L-16.7,164.6 L-15.5,167.5 L-17.2,170.4 L-16.1,173.3 L-14.3,175.6 L-15.5,178.0 L-13.7,180.3 L-10.8,180.9 L-9.1,183.2 L-9.7,185.6 L-12.0,186.7 L-14.3,187.9 L-13.7,190.2 L-15.5,192.6 L-17.2,194.9 L-16.7,197.2 L-13.7,197.8 L-10.8,197.8 L-9.1,199.0 L-11.4,200.7 L-14.3,201.9 L-16.7,203.7 L-19.0,205.4 M-20.7,161.0 L-18.4,159.3 L-17.2,159.9 L-19.0,162.8 L-20.2,164.6 M-19.8,161.6 L-17.8,159.9 M-35.3,192.0 L-33.6,188.5 L-31.8,185.0 L-31.2,181.5 L-28.3,180.3 L-26.0,178.0 L-23.1,176.8 L-20.2,177.4 L-18.4,179.7 L-19.6,182.6 L-20.2,186.1 L-19.6,189.6 L-20.7,192.6 L-23.7,193.7 L-27.2,194.3 L-30.1,195.5 L-33.0,195.5 L-34.7,194.3Z M5.5,206.0 L6.1,203.1 L9.0,200.7 L11.9,198.4 L13.7,196.1 L14.9,193.1 L16.6,190.2 L19.5,188.5 L22.4,186.7 L25.4,185.0 L27.7,182.6 L28.3,179.1 L27.1,175.6 L24.8,172.7 L24.2,169.2 L25.4,166.3 L27.7,164.0 L30.0,162.8 L31.2,165.7 L30.6,169.2 L31.8,172.1 L30.6,175.1 L32.4,177.4 L34.1,180.3 L36.5,182.1 L39.4,180.3 L41.7,178.6 L44.0,179.1 L46.4,178.6 L49.3,176.8 L52.2,175.1 L54.5,173.3 L56.9,172.1 L59.2,173.3 L61.6,171.6 L62.7,168.6 L63.3,165.1 L62.1,161.6 L61.6,158.1 L62.1,154.6 L64.5,153.5 L67.4,153.5 L69.1,151.1 L68.6,148.2 L66.2,147.0 L63.9,147.6 L61.6,147.0 L62.7,143.5 L65.6,140.6 L69.1,137.7 L72.6,135.4 L77.3,133.3 L78.2,132.1 L74.4,130.7 L70.9,131.3 L67.4,133.6 L64.5,136.5 L61.0,139.5 L56.9,138.9 L54.0,136.5 L52.8,133.0 L51.6,128.9 L51.0,124.9 L51.6,120.8 L53.4,116.7 L53.4,113.2 L51.0,111.4 L48.1,112.0 L46.4,114.4 L45.8,117.9 L46.4,121.4 L45.2,124.9 L43.5,128.4 L42.3,132.5 L42.9,136.0 L45.2,138.3 L47.5,140.6 L49.3,143.5 L48.7,147.0 L47.0,150.5 L46.4,154.6 L47.0,158.7 L47.5,162.8 L46.4,165.7 L44.0,166.9 L42.9,169.8 L41.1,171.6 L39.4,169.2 L37.0,165.7 L34.7,162.2 L33.0,158.7 L31.2,155.2 L29.5,153.5 L27.1,154.6 L24.8,157.5 L22.4,159.9 L19.5,161.0 L16.6,159.3 L15.4,156.4 L14.9,152.9 L13.7,149.4 L12.5,145.9 L12.5,142.4 L14.3,139.5 L16.6,136.5 L19.5,133.6 L21.9,130.7 L23.6,127.2 L24.8,123.7 L26.5,119.6 L27.7,115.5 L28.0,111.4 L27.7,107.4 L28.3,103.9 L30.0,100.4 L32.0,96.8 L34.1,93.3 L36.5,90.4 L38.8,87.5 L41.7,85.2 L44.6,84.0 L48.1,84.0 L51.6,85.2 L55.1,85.8 L59.8,85.2 L64.5,84.6 L69.1,84.6 L73.2,85.8 L76.7,88.1 L77.3,91.6 L75.6,93.9 L71.5,95.7 L66.8,96.8 L62.7,97.4 L65.6,98.6 L69.1,99.8 L70.9,102.7 L73.2,105.0 L76.7,104.4 L79.6,103.9 L81.4,104.4 M16.4,192.0 L18.4,190.5 L20.1,192.0 L18.7,193.7 L16.8,193.5Z M30.6,173.9 L33.0,171.6 L35.9,171.0 L38.2,173.3 L37.6,176.8 L34.7,178.0 L31.8,176.8Z M33.0,173.3 L35.3,175.6 L33.5,176.2 L35.9,172.7 M75.6,100.4 L78.5,100.9 L81.4,100.4 M51.6,155.2 L53.4,154.0 L54.0,157.5 L52.6,159.9Z M52.8,155.2 L52.8,158.7 M59.8,146.5 L62.1,145.9 L62.7,149.4 L60.4,150.0Z M61.0,147.0 L61.6,149.1 M27.1,101.5 L30.6,100.4 L28.3,105.0 L25.4,107.4 M85.0,66.4 L84.7,69.5 L84.1,72.6 L83.7,75.1 L85.0,76.4 L86.5,77.6 L85.9,80.1 L84.1,81.0 L81.9,80.4 L80.3,79.5 L80.0,77.0 L78.8,75.7 L76.9,76.0 L75.0,77.0 L73.2,77.9 L75.3,78.8 L77.5,80.1 L78.8,82.0 L80.6,82.9 L82.5,83.8 L83.4,85.7 L81.9,86.9 L80.3,88.2 L79.7,90.7 L79.4,93.2 L79.7,95.0 L81.3,96.3 L83.7,97.2 L81.9,98.5 L79.4,99.1 L77.2,99.7 L75.6,100.9 L76.6,102.5 L78.8,101.9 L80.6,102.5 L80.6,104.4 L78.8,105.3 L76.3,105.6 L73.5,105.9 M84.1,50.2 L87.2,49.9 L84.4,50.9 L87.4,50.7 M109.9,36.5 L110.5,38.4 L112.4,39.3 L113.9,38.4 L113.9,36.5 M78.4,115.5 L80.7,113.2 L83.7,113.8 L86.6,116.7 L87.2,119.6 L84.8,120.4 L82.5,118.4 L80.2,117.9Z M74.3,127.2 L76.7,124.3 L80.2,124.3 L82.5,126.6 L81.9,129.5 L79.6,131.3 L76.7,130.7 L74.7,129.5Z M-58.6,-81.6 L-63.9,-79.3 L-70.9,-77.5 L-74.4,-76.9 L-73.2,-73.4 M-73.2,-73.5 L-74.9,-68.8 L-76.7,-64.2 L-80.2,-61.8 L-84.3,-58.9"/>
</g>
<circle r="207.2" fill="none" stroke="#000" stroke-width="1.4"/>
</g>
<text x="151.1" y="172.2" font-size="23.8" class="t" textLength="41.1" lengthAdjust="spacingAndGlyphs">TOM</text>
<text x="206.8" y="172.2" font-size="23.8" class="t" textLength="31.7" lengthAdjust="spacingAndGlyphs">net</text>
<text x="252.2" y="172.2" font-size="23.8" class="t" textLength="25.6" lengthAdjust="spacingAndGlyphs">LW</text>
<text x="291.5" y="172.2" font-size="23.8" class="t" textLength="36.9" lengthAdjust="spacingAndGlyphs">flux</text>
<text x="506.0" y="167.0" font-size="23.1" class="t" textLength="15.2" lengthAdjust="spacingAndGlyphs">W</text>
<line x1="523.6" y1="171.6" x2="536.3" y2="148.8" stroke="#000" stroke-width="1.5"/>
<text x="539.6" y="167.0" font-size="23.1" class="t" textLength="16.6" lengthAdjust="spacingAndGlyphs">m</text>
<text x="559.0" y="157.5" font-size="15.3" class="t" textLength="7.0" lengthAdjust="spacingAndGlyphs">2</text>
<text x="718.9" y="172.2" font-size="23.8" class="t" textLength="41.1" lengthAdjust="spacingAndGlyphs">TOM</text>
<text x="774.6" y="172.2" font-size="23.8" class="t" textLength="31.7" lengthAdjust="spacingAndGlyphs">net</text>
<text x="820.0" y="172.2" font-size="23.8" class="t" textLength="25.6" lengthAdjust="spacingAndGlyphs">LW</text>
<text x="859.3" y="172.2" font-size="23.8" class="t" textLength="36.9" lengthAdjust="spacingAndGlyphs">flux</text>
<text x="1073.8" y="167.0" font-size="23.1" class="t" textLength="15.2" lengthAdjust="spacingAndGlyphs">W</text>
<line x1="1091.4" y1="171.6" x2="1104.1" y2="148.8" stroke="#000" stroke-width="1.5"/>
<text x="1107.4" y="167.0" font-size="23.1" class="t" textLength="16.6" lengthAdjust="spacingAndGlyphs">m</text>
<text x="1126.8" y="157.5" font-size="15.3" class="t" textLength="7.0" lengthAdjust="spacingAndGlyphs">2</text>
<text x="435.1" y="846.0" font-size="23.8" class="t" textLength="41.1" lengthAdjust="spacingAndGlyphs">TOM</text>
<text x="490.8" y="846.0" font-size="23.8" class="t" textLength="31.7" lengthAdjust="spacingAndGlyphs">net</text>
<text x="536.2" y="846.0" font-size="23.8" class="t" textLength="25.6" lengthAdjust="spacingAndGlyphs">LW</text>
<text x="575.5" y="846.0" font-size="23.8" class="t" textLength="36.9" lengthAdjust="spacingAndGlyphs">flux</text>
<text x="790.0" y="840.8" font-size="23.1" class="t" textLength="15.2" lengthAdjust="spacingAndGlyphs">W</text>
<line x1="807.6" y1="845.4" x2="820.3" y2="822.6" stroke="#000" stroke-width="1.5"/>
<text x="823.6" y="840.8" font-size="23.1" class="t" textLength="16.6" lengthAdjust="spacingAndGlyphs">m</text>
<text x="843.0" y="831.3" font-size="15.3" class="t" textLength="7.0" lengthAdjust="spacingAndGlyphs">2</text>
<rect x="157.20" y="669.6" width="25.18" height="20.3" fill="#00008c" stroke="#000" stroke-width="1.3"/>
<rect x="182.38" y="669.6" width="25.18" height="20.3" fill="#001eb9" stroke="#000" stroke-width="1.3"/>
<rect x="207.56" y="669.6" width="25.18" height="20.3" fill="#002ddc" stroke="#000" stroke-width="1.3"/>
<rect x="232.74" y="669.6" width="25.18" height="20.3" fill="#1950ff" stroke="#000" stroke-width="1.3"/>
<rect x="257.93" y="669.6" width="25.18" height="20.3" fill="#4178ff" stroke="#000" stroke-width="1.3"/>
<rect x="283.11" y="669.6" width="25.18" height="20.3" fill="#82a5ff" stroke="#000" stroke-width="1.3"/>
<rect x="308.29" y="669.6" width="25.18" height="20.3" fill="#b4cdff" stroke="#000" stroke-width="1.3"/>
<rect x="333.47" y="669.6" width="25.18" height="20.3" fill="#d7e8ff" stroke="#000" stroke-width="1.3"/>
<rect x="358.65" y="669.6" width="25.18" height="20.3" fill="#ffebd9" stroke="#000" stroke-width="1.3"/>
<rect x="383.83" y="669.6" width="25.18" height="20.3" fill="#ffcdb4" stroke="#000" stroke-width="1.3"/>
<rect x="409.01" y="669.6" width="25.18" height="20.3" fill="#ffaa82" stroke="#000" stroke-width="1.3"/>
<rect x="434.19" y="669.6" width="25.18" height="20.3" fill="#ff7a44" stroke="#000" stroke-width="1.3"/>
<rect x="459.38" y="669.6" width="25.18" height="20.3" fill="#ff5019" stroke="#000" stroke-width="1.3"/>
<rect x="484.56" y="669.6" width="25.18" height="20.3" fill="#e43200" stroke="#000" stroke-width="1.3"/>
<rect x="509.74" y="669.6" width="25.18" height="20.3" fill="#b92600" stroke="#000" stroke-width="1.3"/>
<rect x="534.92" y="669.6" width="25.18" height="20.3" fill="#8c0000" stroke="#000" stroke-width="1.3"/>
<text x="167.5" y="712.6" font-size="17.8" class="t" textLength="29.8" lengthAdjust="spacingAndGlyphs">150</text>
<text x="217.8" y="712.6" font-size="17.8" class="t" textLength="29.8" lengthAdjust="spacingAndGlyphs">170</text>
<text x="268.2" y="712.6" font-size="17.8" class="t" textLength="29.8" lengthAdjust="spacingAndGlyphs">190</text>
<text x="318.6" y="712.6" font-size="17.8" class="t" textLength="29.8" lengthAdjust="spacingAndGlyphs">210</text>
<text x="368.9" y="712.6" font-size="17.8" class="t" textLength="29.8" lengthAdjust="spacingAndGlyphs">230</text>
<text x="419.3" y="712.6" font-size="17.8" class="t" textLength="29.8" lengthAdjust="spacingAndGlyphs">250</text>
<text x="469.7" y="712.6" font-size="17.8" class="t" textLength="29.8" lengthAdjust="spacingAndGlyphs">270</text>
<text x="520.0" y="712.6" font-size="17.8" class="t" textLength="29.8" lengthAdjust="spacingAndGlyphs">290</text>
<text x="154.7" y="656.0" font-size="18.6" class="t" textLength="60.1" lengthAdjust="spacingAndGlyphs">MEAN=</text>
<text x="227.6" y="656.0" font-size="18.6" class="t" textLength="60.1" lengthAdjust="spacingAndGlyphs">198.36</text>
<text x="308.1" y="656.0" font-size="18.6" class="t" textLength="41.4" lengthAdjust="spacingAndGlyphs">Min=</text>
<text x="361.2" y="656.0" font-size="18.6" class="t" textLength="60.7" lengthAdjust="spacingAndGlyphs">164.79</text>
<text x="442.7" y="656.0" font-size="18.6" class="t" textLength="46.5" lengthAdjust="spacingAndGlyphs">Max=</text>
<text x="501.2" y="656.0" font-size="18.6" class="t" textLength="61.1" lengthAdjust="spacingAndGlyphs">226.68</text>
<rect x="725.00" y="669.6" width="25.18" height="20.3" fill="#00008c" stroke="#000" stroke-width="1.3"/>
<rect x="750.18" y="669.6" width="25.18" height="20.3" fill="#001eb9" stroke="#000" stroke-width="1.3"/>
<rect x="775.36" y="669.6" width="25.18" height="20.3" fill="#002ddc" stroke="#000" stroke-width="1.3"/>
<rect x="800.54" y="669.6" width="25.18" height="20.3" fill="#1950ff" stroke="#000" stroke-width="1.3"/>
<rect x="825.73" y="669.6" width="25.18" height="20.3" fill="#4178ff" stroke="#000" stroke-width="1.3"/>
<rect x="850.91" y="669.6" width="25.18" height="20.3" fill="#82a5ff" stroke="#000" stroke-width="1.3"/>
<rect x="876.09" y="669.6" width="25.18" height="20.3" fill="#b4cdff" stroke="#000" stroke-width="1.3"/>
<rect x="901.27" y="669.6" width="25.18" height="20.3" fill="#d7e8ff" stroke="#000" stroke-width="1.3"/>
<rect x="926.45" y="669.6" width="25.18" height="20.3" fill="#ffebd9" stroke="#000" stroke-width="1.3"/>
<rect x="951.63" y="669.6" width="25.18" height="20.3" fill="#ffcdb4" stroke="#000" stroke-width="1.3"/>
<rect x="976.81" y="669.6" width="25.18" height="20.3" fill="#ffaa82" stroke="#000" stroke-width="1.3"/>
<rect x="1001.99" y="669.6" width="25.18" height="20.3" fill="#ff7a44" stroke="#000" stroke-width="1.3"/>
<rect x="1027.18" y="669.6" width="25.18" height="20.3" fill="#ff5019" stroke="#000" stroke-width="1.3"/>
<rect x="1052.36" y="669.6" width="25.18" height="20.3" fill="#e43200" stroke="#000" stroke-width="1.3"/>
<rect x="1077.54" y="669.6" width="25.18" height="20.3" fill="#b92600" stroke="#000" stroke-width="1.3"/>
<rect x="1102.72" y="669.6" width="25.18" height="20.3" fill="#8c0000" stroke="#000" stroke-width="1.3"/>
<text x="735.3" y="712.6" font-size="17.8" class="t" textLength="29.8" lengthAdjust="spacingAndGlyphs">150</text>
<text x="785.6" y="712.6" font-size="17.8" class="t" textLength="29.8" lengthAdjust="spacingAndGlyphs">170</text>
<text x="836.0" y="712.6" font-size="17.8" class="t" textLength="29.8" lengthAdjust="spacingAndGlyphs">190</text>
<text x="886.4" y="712.6" font-size="17.8" class="t" textLength="29.8" lengthAdjust="spacingAndGlyphs">210</text>
<text x="936.7" y="712.6" font-size="17.8" class="t" textLength="29.8" lengthAdjust="spacingAndGlyphs">230</text>
<text x="987.1" y="712.6" font-size="17.8" class="t" textLength="29.8" lengthAdjust="spacingAndGlyphs">250</text>
<text x="1037.5" y="712.6" font-size="17.8" class="t" textLength="29.8" lengthAdjust="spacingAndGlyphs">270</text>
<text x="1087.8" y="712.6" font-size="17.8" class="t" textLength="29.8" lengthAdjust="spacingAndGlyphs">290</text>
<text x="722.5" y="656.0" font-size="18.6" class="t" textLength="60.1" lengthAdjust="spacingAndGlyphs">MEAN=</text>
<text x="795.4" y="656.0" font-size="18.6" class="t" textLength="60.1" lengthAdjust="spacingAndGlyphs">197.60</text>
<text x="875.9" y="656.0" font-size="18.6" class="t" textLength="41.4" lengthAdjust="spacingAndGlyphs">Min=</text>
<text x="929.0" y="656.0" font-size="18.6" class="t" textLength="60.7" lengthAdjust="spacingAndGlyphs">168.29</text>
<text x="1010.5" y="656.0" font-size="18.6" class="t" textLength="46.5" lengthAdjust="spacingAndGlyphs">Max=</text>
<text x="1069.0" y="656.0" font-size="18.6" class="t" textLength="61.1" lengthAdjust="spacingAndGlyphs">224.75</text>
<rect x="962.0" y="947.50" width="46.4" height="20.81" fill="#8c0000" stroke="#000" stroke-width="1.3"/>
<rect x="962.0" y="968.31" width="46.4" height="20.81" fill="#b92600" stroke="#000" stroke-width="1.3"/>
<rect x="962.0" y="989.12" width="46.4" height="20.81" fill="#e43200" stroke="#000" stroke-width="1.3"/>
<rect x="962.0" y="1009.94" width="46.4" height="20.81" fill="#ff5019" stroke="#000" stroke-width="1.3"/>
<rect x="962.0" y="1030.75" width="46.4" height="20.81" fill="#ff7a44" stroke="#000" stroke-width="1.3"/>
<rect x="962.0" y="1051.56" width="46.4" height="20.81" fill="#ffaa82" stroke="#000" stroke-width="1.3"/>
<rect x="962.0" y="1072.38" width="46.4" height="20.81" fill="#ffcdb4" stroke="#000" stroke-width="1.3"/>
<rect x="962.0" y="1093.19" width="46.4" height="20.81" fill="#ffebd9" stroke="#000" stroke-width="1.3"/>
<rect x="962.0" y="1114.00" width="46.4" height="20.81" fill="#d7e8ff" stroke="#000" stroke-width="1.3"/>
<rect x="962.0" y="1134.81" width="46.4" height="20.81" fill="#b4cdff" stroke="#000" stroke-width="1.3"/>
<rect x="962.0" y="1155.62" width="46.4" height="20.81" fill="#82a5ff" stroke="#000" stroke-width="1.3"/>
<rect x="962.0" y="1176.44" width="46.4" height="20.81" fill="#4178ff" stroke="#000" stroke-width="1.3"/>
<rect x="962.0" y="1197.25" width="46.4" height="20.81" fill="#1950ff" stroke="#000" stroke-width="1.3"/>
<rect x="962.0" y="1218.06" width="46.4" height="20.81" fill="#002ddc" stroke="#000" stroke-width="1.3"/>
<rect x="962.0" y="1238.88" width="46.4" height="20.81" fill="#001eb9" stroke="#000" stroke-width="1.3"/>
<rect x="962.0" y="1259.69" width="46.4" height="20.81" fill="#00008c" stroke="#000" stroke-width="1.3"/>
<text x="1022.5" y="974.8" font-size="17.8" class="t" textLength="19.4" lengthAdjust="spacingAndGlyphs">20</text>
<text x="1022.5" y="995.6" font-size="17.8" class="t" textLength="19.4" lengthAdjust="spacingAndGlyphs">15</text>
<text x="1022.5" y="1016.4" font-size="17.8" class="t" textLength="19.4" lengthAdjust="spacingAndGlyphs">10</text>
<text x="1027.4" y="1037.2" font-size="17.8" class="t" textLength="9.7" lengthAdjust="spacingAndGlyphs">8</text>
<text x="1027.4" y="1058.1" font-size="17.8" class="t" textLength="9.7" lengthAdjust="spacingAndGlyphs">6</text>
<text x="1027.4" y="1078.9" font-size="17.8" class="t" textLength="9.7" lengthAdjust="spacingAndGlyphs">4</text>
<text x="1027.4" y="1099.7" font-size="17.8" class="t" textLength="9.7" lengthAdjust="spacingAndGlyphs">2</text>
<text x="1027.4" y="1120.5" font-size="17.8" class="t" textLength="9.7" lengthAdjust="spacingAndGlyphs">0</text>
<text x="1020.6" y="1141.3" font-size="17.8" class="t" textLength="23.2" lengthAdjust="spacingAndGlyphs">−2</text>
<text x="1020.6" y="1162.1" font-size="17.8" class="t" textLength="23.2" lengthAdjust="spacingAndGlyphs">−4</text>
<text x="1020.6" y="1182.9" font-size="17.8" class="t" textLength="23.2" lengthAdjust="spacingAndGlyphs">−6</text>
<text x="1020.6" y="1203.8" font-size="17.8" class="t" textLength="23.2" lengthAdjust="spacingAndGlyphs">−8</text>
<text x="1015.8" y="1224.6" font-size="17.8" class="t" textLength="32.9" lengthAdjust="spacingAndGlyphs">−10</text>
<text x="1015.8" y="1245.4" font-size="17.8" class="t" textLength="32.9" lengthAdjust="spacingAndGlyphs">−15</text>
<text x="1015.8" y="1266.2" font-size="17.8" class="t" textLength="32.9" lengthAdjust="spacingAndGlyphs">−20</text>
<text x="873.7" y="911.4" font-size="18.6" class="t" textLength="28.3" lengthAdjust="spacingAndGlyphs">MIN</text>
<text x="914.0" y="911.4" font-size="18.6" class="t" textLength="12.0" lengthAdjust="spacingAndGlyphs">=</text>
<text x="946.7" y="911.4" font-size="18.6" class="t" textLength="53.0" lengthAdjust="spacingAndGlyphs">−4.40</text>
<text x="1010.6" y="911.4" font-size="18.6" class="t" textLength="33.5" lengthAdjust="spacingAndGlyphs">MAX</text>
<text x="1056.1" y="911.4" font-size="18.6" class="t" textLength="12.0" lengthAdjust="spacingAndGlyphs">=</text>
<text x="1097.7" y="911.4" font-size="18.6" class="t" textLength="37.5" lengthAdjust="spacingAndGlyphs">5.87</text>
</svg></body></html>
